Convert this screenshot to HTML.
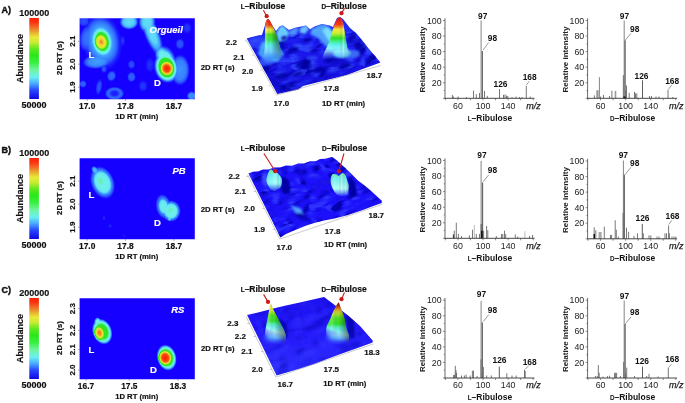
<!DOCTYPE html>
<html><head><meta charset="utf-8"><style>
html,body{margin:0;padding:0;background:#fff;}
svg{display:block;font-family:"Liberation Sans", sans-serif;filter:blur(0.45px);}
</style></head><body>
<svg width="685" height="403" viewBox="0 0 685 403">
<defs><filter id="cm" x="0" y="0" width="1" height="1" color-interpolation-filters="sRGB">
<feGaussianBlur stdDeviation="0.6"/>
<feComponentTransfer><feFuncR type="table" tableValues="0.086 0.095 0.103 0.115 0.142 0.169 0.196 0.224 0.252 0.286 0.342 0.398 0.426 0.414 0.402 0.380 0.320 0.260 0.200 0.185 0.200 0.215 0.229 0.294 0.392 0.490 0.588 0.679 0.743 0.807 0.871 0.923 0.931 0.938 0.946 0.956 0.967 0.978 0.986 0.993 1.000"/><feFuncG type="table" tableValues="0.000 0.042 0.084 0.137 0.235 0.333 0.431 0.529 0.627 0.723 0.807 0.891 0.941 0.941 0.941 0.939 0.928 0.917 0.906 0.899 0.894 0.889 0.884 0.885 0.889 0.894 0.898 0.902 0.904 0.906 0.908 0.892 0.803 0.713 0.624 0.529 0.431 0.333 0.258 0.188 0.118"/><feFuncB type="table" tableValues="1.000 1.000 1.000 1.000 1.000 1.000 1.000 1.000 1.000 0.997 0.983 0.969 0.924 0.832 0.740 0.639 0.503 0.367 0.231 0.162 0.137 0.113 0.088 0.089 0.107 0.125 0.143 0.159 0.169 0.178 0.188 0.194 0.183 0.172 0.161 0.140 0.112 0.084 0.056 0.028 0.000"/></feComponentTransfer></filter><linearGradient id="cbar" x1="0" y1="0" x2="0" y2="1">
<stop offset="0" stop-color="#ff2200"/>
<stop offset="0.05" stop-color="#fb3010"/>
<stop offset="0.12" stop-color="#f07028"/>
<stop offset="0.18" stop-color="#e8b030"/>
<stop offset="0.24" stop-color="#eaea38"/>
<stop offset="0.30" stop-color="#c8ec30"/>
<stop offset="0.38" stop-color="#60e820"/>
<stop offset="0.46" stop-color="#28e818"/>
<stop offset="0.55" stop-color="#38f040"/>
<stop offset="0.64" stop-color="#70f4a0"/>
<stop offset="0.73" stop-color="#68f0f0"/>
<stop offset="0.81" stop-color="#48a8ff"/>
<stop offset="0.89" stop-color="#2848ff"/>
<stop offset="1" stop-color="#1008e0"/>
</linearGradient><clipPath id="hc0"><rect x="79.6" y="18.2" width="115.2" height="81"/></clipPath><radialGradient id="b1"><stop offset="0.000" stop-color="rgb(41,41,41)"/><stop offset="0.444" stop-color="rgb(38,38,38)"/><stop offset="0.778" stop-color="rgb(26,26,26)"/><stop offset="1.000" stop-color="rgb(0,0,0)"/></radialGradient><radialGradient id="b2"><stop offset="0.000" stop-color="rgb(31,31,31)"/><stop offset="0.667" stop-color="rgb(26,26,26)"/><stop offset="1.000" stop-color="rgb(0,0,0)"/></radialGradient><radialGradient id="b3"><stop offset="0.000" stop-color="rgb(51,51,51)"/><stop offset="0.533" stop-color="rgb(46,46,46)"/><stop offset="0.800" stop-color="rgb(31,31,31)"/><stop offset="1.000" stop-color="rgb(0,0,0)"/></radialGradient><radialGradient id="b4"><stop offset="0.000" stop-color="rgb(33,33,33)"/><stop offset="0.571" stop-color="rgb(28,28,28)"/><stop offset="1.000" stop-color="rgb(0,0,0)"/></radialGradient><radialGradient id="b5"><stop offset="0.000" stop-color="rgb(38,38,38)"/><stop offset="0.600" stop-color="rgb(33,33,33)"/><stop offset="1.000" stop-color="rgb(0,0,0)"/></radialGradient><radialGradient id="b6"><stop offset="0.000" stop-color="rgb(36,36,36)"/><stop offset="0.667" stop-color="rgb(31,31,31)"/><stop offset="1.000" stop-color="rgb(0,0,0)"/></radialGradient><radialGradient id="b7"><stop offset="0.000" stop-color="rgb(31,31,31)"/><stop offset="0.625" stop-color="rgb(26,26,26)"/><stop offset="1.000" stop-color="rgb(0,0,0)"/></radialGradient><radialGradient id="b8"><stop offset="0.000" stop-color="rgb(36,36,36)"/><stop offset="0.625" stop-color="rgb(31,31,31)"/><stop offset="1.000" stop-color="rgb(0,0,0)"/></radialGradient><radialGradient id="b9"><stop offset="0.000" stop-color="rgb(33,33,33)"/><stop offset="0.571" stop-color="rgb(28,28,28)"/><stop offset="1.000" stop-color="rgb(0,0,0)"/></radialGradient><radialGradient id="b10"><stop offset="0.000" stop-color="rgb(15,15,15)"/><stop offset="0.300" stop-color="rgb(20,20,20)"/><stop offset="0.600" stop-color="rgb(38,38,38)"/><stop offset="0.800" stop-color="rgb(31,31,31)"/><stop offset="1.000" stop-color="rgb(0,0,0)"/></radialGradient><radialGradient id="b11"><stop offset="0.000" stop-color="rgb(26,26,26)"/><stop offset="0.500" stop-color="rgb(20,20,20)"/><stop offset="1.000" stop-color="rgb(0,0,0)"/></radialGradient><radialGradient id="b12"><stop offset="0.000" stop-color="rgb(69,69,69)"/><stop offset="0.500" stop-color="rgb(64,64,64)"/><stop offset="0.700" stop-color="rgb(51,51,51)"/><stop offset="1.000" stop-color="rgb(0,0,0)"/></radialGradient><radialGradient id="b13"><stop offset="0.000" stop-color="rgb(69,69,69)"/><stop offset="0.375" stop-color="rgb(66,66,66)"/><stop offset="0.625" stop-color="rgb(51,51,51)"/><stop offset="1.000" stop-color="rgb(0,0,0)"/></radialGradient><radialGradient id="b14"><stop offset="0.000" stop-color="rgb(69,69,69)"/><stop offset="0.444" stop-color="rgb(66,66,66)"/><stop offset="0.667" stop-color="rgb(51,51,51)"/><stop offset="1.000" stop-color="rgb(0,0,0)"/></radialGradient><radialGradient id="b15"><stop offset="0.000" stop-color="rgb(48,48,48)"/><stop offset="0.600" stop-color="rgb(43,43,43)"/><stop offset="0.800" stop-color="rgb(31,31,31)"/><stop offset="1.000" stop-color="rgb(0,0,0)"/></radialGradient><radialGradient id="b16"><stop offset="0.000" stop-color="rgb(33,33,33)"/><stop offset="0.600" stop-color="rgb(28,28,28)"/><stop offset="1.000" stop-color="rgb(0,0,0)"/></radialGradient><radialGradient id="b17"><stop offset="0.000" stop-color="rgb(48,48,48)"/><stop offset="0.600" stop-color="rgb(43,43,43)"/><stop offset="1.000" stop-color="rgb(0,0,0)"/></radialGradient><radialGradient id="b18"><stop offset="0.000" stop-color="rgb(26,26,26)"/><stop offset="0.600" stop-color="rgb(20,20,20)"/><stop offset="1.000" stop-color="rgb(0,0,0)"/></radialGradient><radialGradient id="b19"><stop offset="0.000" stop-color="rgb(26,26,26)"/><stop offset="0.600" stop-color="rgb(20,20,20)"/><stop offset="1.000" stop-color="rgb(0,0,0)"/></radialGradient><radialGradient id="b20"><stop offset="0.000" stop-color="rgb(23,23,23)"/><stop offset="0.600" stop-color="rgb(18,18,18)"/><stop offset="1.000" stop-color="rgb(0,0,0)"/></radialGradient><radialGradient id="b21"><stop offset="0.000" stop-color="rgb(128,128,128)"/><stop offset="0.310" stop-color="rgb(120,120,120)"/><stop offset="0.350" stop-color="rgb(87,87,87)"/><stop offset="0.420" stop-color="rgb(71,71,71)"/><stop offset="0.500" stop-color="rgb(51,51,51)"/><stop offset="0.700" stop-color="rgb(38,38,38)"/><stop offset="1.000" stop-color="rgb(0,0,0)"/></radialGradient><radialGradient id="b22"><stop offset="0.000" stop-color="rgb(224,224,224)"/><stop offset="0.143" stop-color="rgb(219,219,219)"/><stop offset="0.286" stop-color="rgb(207,207,207)"/><stop offset="0.429" stop-color="rgb(199,199,199)"/><stop offset="0.629" stop-color="rgb(189,189,189)"/><stop offset="0.786" stop-color="rgb(153,153,153)"/><stop offset="0.900" stop-color="rgb(115,115,115)"/><stop offset="1.000" stop-color="rgb(0,0,0)"/></radialGradient><radialGradient id="b23"><stop offset="0.000" stop-color="rgb(79,79,79)"/><stop offset="0.375" stop-color="rgb(74,74,74)"/><stop offset="0.562" stop-color="rgb(61,61,61)"/><stop offset="0.750" stop-color="rgb(41,41,41)"/><stop offset="1.000" stop-color="rgb(0,0,0)"/></radialGradient><radialGradient id="b24"><stop offset="0.000" stop-color="rgb(76,76,76)"/><stop offset="0.545" stop-color="rgb(74,74,74)"/><stop offset="0.682" stop-color="rgb(51,51,51)"/><stop offset="0.818" stop-color="rgb(31,31,31)"/><stop offset="1.000" stop-color="rgb(0,0,0)"/></radialGradient><radialGradient id="b25"><stop offset="0.000" stop-color="rgb(128,128,128)"/><stop offset="0.584" stop-color="rgb(120,120,120)"/><stop offset="0.656" stop-color="rgb(84,84,84)"/><stop offset="0.744" stop-color="rgb(71,71,71)"/><stop offset="0.840" stop-color="rgb(43,43,43)"/><stop offset="1.000" stop-color="rgb(0,0,0)"/></radialGradient><radialGradient id="b26"><stop offset="0.000" stop-color="rgb(255,255,255)"/><stop offset="0.350" stop-color="rgb(242,242,242)"/><stop offset="0.475" stop-color="rgb(224,224,224)"/><stop offset="0.650" stop-color="rgb(199,199,199)"/><stop offset="0.775" stop-color="rgb(153,153,153)"/><stop offset="0.875" stop-color="rgb(115,115,115)"/><stop offset="1.000" stop-color="rgb(0,0,0)"/></radialGradient><clipPath id="hc140"><rect x="79.6" y="158.2" width="115.2" height="81"/></clipPath><radialGradient id="b27"><stop offset="0.000" stop-color="rgb(79,79,79)"/><stop offset="0.417" stop-color="rgb(76,76,76)"/><stop offset="0.542" stop-color="rgb(73,73,73)"/><stop offset="0.625" stop-color="rgb(64,64,64)"/><stop offset="0.708" stop-color="rgb(46,46,46)"/><stop offset="0.833" stop-color="rgb(33,33,33)"/><stop offset="1.000" stop-color="rgb(0,0,0)"/></radialGradient><radialGradient id="b28"><stop offset="0.000" stop-color="rgb(92,92,92)"/><stop offset="0.444" stop-color="rgb(87,87,87)"/><stop offset="0.778" stop-color="rgb(76,76,76)"/><stop offset="1.000" stop-color="rgb(0,0,0)"/></radialGradient><radialGradient id="b29"><stop offset="0.000" stop-color="rgb(61,61,61)"/><stop offset="0.571" stop-color="rgb(51,51,51)"/><stop offset="1.000" stop-color="rgb(0,0,0)"/></radialGradient><radialGradient id="b30"><stop offset="0.000" stop-color="rgb(76,76,76)"/><stop offset="0.350" stop-color="rgb(74,74,74)"/><stop offset="0.475" stop-color="rgb(69,69,69)"/><stop offset="0.600" stop-color="rgb(46,46,46)"/><stop offset="0.812" stop-color="rgb(31,31,31)"/><stop offset="1.000" stop-color="rgb(0,0,0)"/></radialGradient><radialGradient id="b31"><stop offset="0.000" stop-color="rgb(79,79,79)"/><stop offset="0.450" stop-color="rgb(76,76,76)"/><stop offset="0.600" stop-color="rgb(71,71,71)"/><stop offset="0.700" stop-color="rgb(51,51,51)"/><stop offset="0.850" stop-color="rgb(33,33,33)"/><stop offset="1.000" stop-color="rgb(0,0,0)"/></radialGradient><radialGradient id="b32"><stop offset="0.000" stop-color="rgb(94,94,94)"/><stop offset="0.375" stop-color="rgb(89,89,89)"/><stop offset="0.750" stop-color="rgb(76,76,76)"/><stop offset="1.000" stop-color="rgb(0,0,0)"/></radialGradient><radialGradient id="b33"><stop offset="0.000" stop-color="rgb(69,69,69)"/><stop offset="0.600" stop-color="rgb(56,56,56)"/><stop offset="1.000" stop-color="rgb(0,0,0)"/></radialGradient><radialGradient id="b34"><stop offset="0.000" stop-color="rgb(26,26,26)"/><stop offset="0.125" stop-color="rgb(24,24,24)"/><stop offset="0.250" stop-color="rgb(21,21,21)"/><stop offset="0.375" stop-color="rgb(16,16,16)"/><stop offset="0.500" stop-color="rgb(11,11,11)"/><stop offset="0.625" stop-color="rgb(7,7,7)"/><stop offset="0.750" stop-color="rgb(4,4,4)"/><stop offset="0.875" stop-color="rgb(2,2,2)"/><stop offset="1.000" stop-color="rgb(0,0,0)"/></radialGradient><radialGradient id="b35"><stop offset="0.000" stop-color="rgb(20,20,20)"/><stop offset="0.125" stop-color="rgb(19,19,19)"/><stop offset="0.250" stop-color="rgb(17,17,17)"/><stop offset="0.375" stop-color="rgb(13,13,13)"/><stop offset="0.500" stop-color="rgb(9,9,9)"/><stop offset="0.625" stop-color="rgb(5,5,5)"/><stop offset="0.750" stop-color="rgb(3,3,3)"/><stop offset="0.875" stop-color="rgb(2,2,2)"/><stop offset="1.000" stop-color="rgb(0,0,0)"/></radialGradient><radialGradient id="b36"><stop offset="0.000" stop-color="rgb(20,20,20)"/><stop offset="0.125" stop-color="rgb(19,19,19)"/><stop offset="0.250" stop-color="rgb(17,17,17)"/><stop offset="0.375" stop-color="rgb(13,13,13)"/><stop offset="0.500" stop-color="rgb(9,9,9)"/><stop offset="0.625" stop-color="rgb(5,5,5)"/><stop offset="0.750" stop-color="rgb(3,3,3)"/><stop offset="0.875" stop-color="rgb(2,2,2)"/><stop offset="1.000" stop-color="rgb(0,0,0)"/></radialGradient><clipPath id="hc280"><rect x="79.6" y="298.2" width="115.2" height="81"/></clipPath><radialGradient id="b37"><stop offset="0.000" stop-color="rgb(128,128,128)"/><stop offset="0.520" stop-color="rgb(120,120,120)"/><stop offset="0.650" stop-color="rgb(89,89,89)"/><stop offset="0.770" stop-color="rgb(71,71,71)"/><stop offset="0.870" stop-color="rgb(46,46,46)"/><stop offset="1.000" stop-color="rgb(0,0,0)"/></radialGradient><radialGradient id="b38"><stop offset="0.000" stop-color="rgb(230,230,230)"/><stop offset="0.250" stop-color="rgb(219,219,219)"/><stop offset="0.500" stop-color="rgb(199,199,199)"/><stop offset="0.700" stop-color="rgb(158,158,158)"/><stop offset="0.833" stop-color="rgb(122,122,122)"/><stop offset="1.000" stop-color="rgb(0,0,0)"/></radialGradient><radialGradient id="b39"><stop offset="0.000" stop-color="rgb(82,82,82)"/><stop offset="0.500" stop-color="rgb(76,76,76)"/><stop offset="0.750" stop-color="rgb(51,51,51)"/><stop offset="1.000" stop-color="rgb(0,0,0)"/></radialGradient><radialGradient id="b40"><stop offset="0.000" stop-color="rgb(128,128,128)"/><stop offset="0.550" stop-color="rgb(120,120,120)"/><stop offset="0.680" stop-color="rgb(89,89,89)"/><stop offset="0.780" stop-color="rgb(71,71,71)"/><stop offset="0.870" stop-color="rgb(46,46,46)"/><stop offset="1.000" stop-color="rgb(0,0,0)"/></radialGradient><radialGradient id="b41"><stop offset="0.000" stop-color="rgb(255,255,255)"/><stop offset="0.333" stop-color="rgb(245,245,245)"/><stop offset="0.507" stop-color="rgb(232,232,232)"/><stop offset="0.667" stop-color="rgb(199,199,199)"/><stop offset="0.800" stop-color="rgb(153,153,153)"/><stop offset="0.933" stop-color="rgb(115,115,115)"/><stop offset="1.000" stop-color="rgb(0,0,0)"/></radialGradient><filter id="bl1" x="-20%" y="-20%" width="140%" height="140%"><feGaussianBlur stdDeviation="1"/></filter><filter id="bl2" x="-30%" y="-30%" width="160%" height="160%"><feGaussianBlur stdDeviation="2"/></filter><filter id="bl07" x="-20%" y="-20%" width="140%" height="140%"><feGaussianBlur stdDeviation="0.7"/></filter><filter id="bl05" x="-20%" y="-20%" width="140%" height="140%"><feGaussianBlur stdDeviation="0.5"/></filter><clipPath id="a3c"><path d="M246.80,38.50 L252.00,37.00 L258.00,35.50 L262.00,35.00 L266.00,22.00 L268.00,19.00 L270.00,22.00 L276.00,31.00 L280.00,26.00 L283.00,25.40 L289.00,29.90 L295.00,27.70 L301.00,26.60 L306.00,25.40 L310.00,29.20 L315.00,26.20 L322.00,24.00 L329.60,25.40 L333.00,27.00 L337.00,18.00 L340.00,17.00 L343.00,19.00 L350.00,28.00 L356.00,33.00 L362.00,40.00 L368.00,48.00 L375.00,56.00 L380.40,62.60 L375.00,64.40 L360.00,70.00 L347.00,74.90 L335.00,78.00 L322.60,81.00 L312.80,83.40 L303.00,86.00 L298.00,89.80 L285.50,92.30 L277.30,94.00Z"/></clipPath><linearGradient id="a3base" gradientUnits="userSpaceOnUse" x1="0" y1="25" x2="0" y2="95"><stop offset="0.000" stop-color="#2028fa"/><stop offset="0.286" stop-color="#1c18f0"/><stop offset="0.643" stop-color="#1812e4"/><stop offset="1.000" stop-color="#1610d8"/></linearGradient><linearGradient id="a3Lmg" gradientUnits="userSpaceOnUse" x1="0" y1="46" x2="0" y2="60"><stop offset="0" stop-color="#fff"/><stop offset="1" stop-color="#000"/></linearGradient><mask id="a3Lm" maskUnits="userSpaceOnUse" x="0" y="0" width="685" height="403"><rect x="0" y="0" width="685" height="403" fill="url(#a3Lmg)"/></mask><linearGradient id="a3Lg" gradientUnits="userSpaceOnUse" x1="0" y1="19.1" x2="0" y2="58"><stop offset="0.000" stop-color="#d01a10"/><stop offset="0.152" stop-color="#f03a10"/><stop offset="0.203" stop-color="#f08a28"/><stop offset="0.267" stop-color="#e8e838"/><stop offset="0.332" stop-color="#c0ec30"/><stop offset="0.396" stop-color="#50e020"/><stop offset="0.537" stop-color="#38e850"/><stop offset="0.614" stop-color="#50f0c0"/><stop offset="0.692" stop-color="#60f0f0"/><stop offset="0.846" stop-color="#90f4ff"/><stop offset="0.949" stop-color="#60c0ff"/><stop offset="1.000" stop-color="#4060ff"/></linearGradient><linearGradient id="a3Lh" gradientUnits="userSpaceOnUse" x1="263" y1="0" x2="282" y2="0"><stop offset="0.000" stop-color="#fff" stop-opacity="0.0"/><stop offset="0.200" stop-color="#fff" stop-opacity="0.2"/><stop offset="0.400" stop-color="#000" stop-opacity="0.0"/><stop offset="0.650" stop-color="#000" stop-opacity="0.3"/><stop offset="1.000" stop-color="#000" stop-opacity="0.55"/></linearGradient><linearGradient id="a3Dmg" gradientUnits="userSpaceOnUse" x1="0" y1="48" x2="0" y2="60"><stop offset="0" stop-color="#fff"/><stop offset="1" stop-color="#000"/></linearGradient><mask id="a3Dm" maskUnits="userSpaceOnUse" x="0" y="0" width="685" height="403"><rect x="0" y="0" width="685" height="403" fill="url(#a3Dmg)"/></mask><linearGradient id="a3Dg" gradientUnits="userSpaceOnUse" x1="0" y1="16.9" x2="0" y2="60"><stop offset="0.000" stop-color="#d81818"/><stop offset="0.176" stop-color="#f83a18"/><stop offset="0.234" stop-color="#f08a28"/><stop offset="0.292" stop-color="#eee838"/><stop offset="0.374" stop-color="#d0f030"/><stop offset="0.432" stop-color="#80e830"/><stop offset="0.490" stop-color="#30e020"/><stop offset="0.582" stop-color="#40f0a0"/><stop offset="0.652" stop-color="#60f0f0"/><stop offset="0.814" stop-color="#a0f8ff"/><stop offset="0.930" stop-color="#60c0ff"/><stop offset="1.000" stop-color="#4060ff"/></linearGradient><linearGradient id="a3Dh" gradientUnits="userSpaceOnUse" x1="324" y1="0" x2="352" y2="0"><stop offset="0.000" stop-color="#fff" stop-opacity="0.2"/><stop offset="0.350" stop-color="#fff" stop-opacity="0.0"/><stop offset="0.550" stop-color="#000" stop-opacity="0.0"/><stop offset="0.700" stop-color="#fff" stop-opacity="0.3"/><stop offset="0.800" stop-color="#000" stop-opacity="0.1"/><stop offset="1.000" stop-color="#000" stop-opacity="0.45"/></linearGradient><clipPath id="b3c"><path d="M248.50,173.60 L253.00,171.80 L258.00,171.60 L263.00,169.60 L268.60,169.40 L274.00,167.40 L280.00,167.60 L286.00,165.60 L292.20,165.80 L298.00,163.40 L304.00,163.60 L310.00,161.20 L315.70,161.20 L320.00,159.00 L325.20,158.80 L332.20,157.10 L337.00,160.60 L346.40,168.90 L352.00,174.50 L358.20,180.70 L364.00,185.00 L370.00,190.00 L376.00,195.50 L381.80,200.70 L381.80,203.00 L372.00,206.50 L362.90,210.10 L348.80,214.80 L334.60,218.40 L322.80,220.70 L314.00,223.00 L306.30,225.50 L292.20,231.30 L286.00,234.00 L280.40,237.60Z"/></clipPath><linearGradient id="b3Lmg" gradientUnits="userSpaceOnUse" x1="0" y1="184" x2="0" y2="194"><stop offset="0" stop-color="#fff"/><stop offset="1" stop-color="#000"/></linearGradient><mask id="b3Lm" maskUnits="userSpaceOnUse" x="0" y="0" width="685" height="403"><rect x="0" y="0" width="685" height="403" fill="url(#b3Lmg)"/></mask><linearGradient id="b3Lg" gradientUnits="userSpaceOnUse" x1="0" y1="169.2" x2="0" y2="194"><stop offset="0.000" stop-color="#50e070"/><stop offset="0.113" stop-color="#68f0b8"/><stop offset="0.214" stop-color="#68ecf0"/><stop offset="0.516" stop-color="#90f8f8"/><stop offset="0.758" stop-color="#70e0f8"/><stop offset="1.000" stop-color="#4080ff"/></linearGradient><linearGradient id="b3Lh" gradientUnits="userSpaceOnUse" x1="266" y1="0" x2="283" y2="0"><stop offset="0.000" stop-color="#000" stop-opacity="0.15"/><stop offset="0.300" stop-color="#fff" stop-opacity="0.0"/><stop offset="0.600" stop-color="#fff" stop-opacity="0.3"/><stop offset="0.800" stop-color="#000" stop-opacity="0.0"/><stop offset="1.000" stop-color="#000" stop-opacity="0.3"/></linearGradient><linearGradient id="b3Dmg" gradientUnits="userSpaceOnUse" x1="0" y1="189" x2="0" y2="198"><stop offset="0" stop-color="#fff"/><stop offset="1" stop-color="#000"/></linearGradient><mask id="b3Dm" maskUnits="userSpaceOnUse" x="0" y="0" width="685" height="403"><rect x="0" y="0" width="685" height="403" fill="url(#b3Dmg)"/></mask><linearGradient id="b3Dg" gradientUnits="userSpaceOnUse" x1="0" y1="172.5" x2="0" y2="198"><stop offset="0.000" stop-color="#50e060"/><stop offset="0.098" stop-color="#70f0b0"/><stop offset="0.216" stop-color="#70f0f0"/><stop offset="0.608" stop-color="#b0fff8"/><stop offset="0.804" stop-color="#a0f8ff"/><stop offset="1.000" stop-color="#5090ff"/></linearGradient><linearGradient id="b3Dh" gradientUnits="userSpaceOnUse" x1="330" y1="0" x2="349" y2="0"><stop offset="0.000" stop-color="#000" stop-opacity="0.1"/><stop offset="0.250" stop-color="#fff" stop-opacity="0.05"/><stop offset="0.450" stop-color="#000" stop-opacity="0.0"/><stop offset="0.620" stop-color="#fff" stop-opacity="0.3"/><stop offset="0.800" stop-color="#000" stop-opacity="0.0"/><stop offset="1.000" stop-color="#000" stop-opacity="0.25"/></linearGradient><clipPath id="c3c"><path d="M247.10,315.00 L258.00,312.50 L269.80,309.50 L286.00,305.50 L302.00,301.90 L314.00,299.30 L324.10,297.10 L336.00,306.00 L348.00,315.50 L360.00,326.00 L372.60,340.40 L372.60,342.60 L356.00,348.50 L339.30,354.50 L327.00,359.00 L314.50,364.00 L302.00,368.00 L289.70,371.60 L276.60,375.60Z"/></clipPath><linearGradient id="c3base" gradientUnits="userSpaceOnUse" x1="0" y1="297" x2="0" y2="376"><stop offset="0.000" stop-color="#1e12f0"/><stop offset="0.418" stop-color="#2418fa"/><stop offset="1.000" stop-color="#3030ff"/></linearGradient><linearGradient id="c3Lmg" gradientUnits="userSpaceOnUse" x1="0" y1="331" x2="0" y2="340" gradientTransform="rotate(22 274 335.5)"><stop offset="0" stop-color="#fff"/><stop offset="1" stop-color="#000"/></linearGradient><mask id="c3Lm" maskUnits="userSpaceOnUse" x="0" y="0" width="685" height="403"><rect x="0" y="0" width="685" height="403" fill="url(#c3Lmg)"/></mask><linearGradient id="c3Lg" gradientUnits="userSpaceOnUse" x1="0" y1="304.1" x2="0" y2="342"><stop offset="0.000" stop-color="#e0d040"/><stop offset="0.103" stop-color="#e8e838"/><stop offset="0.182" stop-color="#c0e830"/><stop offset="0.288" stop-color="#50e020"/><stop offset="0.446" stop-color="#30e030"/><stop offset="0.525" stop-color="#50f0b0"/><stop offset="0.604" stop-color="#70f0f0"/><stop offset="0.763" stop-color="#c0fff8"/><stop offset="0.894" stop-color="#a0e8ff"/><stop offset="1.000" stop-color="#4060ff"/></linearGradient><linearGradient id="c3Lh" gradientUnits="userSpaceOnUse" x1="264" y1="0" x2="286" y2="0"><stop offset="0.000" stop-color="#fff" stop-opacity="0.0"/><stop offset="0.250" stop-color="#fff" stop-opacity="0.2"/><stop offset="0.450" stop-color="#000" stop-opacity="0.0"/><stop offset="0.700" stop-color="#000" stop-opacity="0.3"/><stop offset="1.000" stop-color="#000" stop-opacity="0.5"/></linearGradient><linearGradient id="c3Dmg" gradientUnits="userSpaceOnUse" x1="0" y1="332" x2="0" y2="341" gradientTransform="rotate(22 338 336.5)"><stop offset="0" stop-color="#fff"/><stop offset="1" stop-color="#000"/></linearGradient><mask id="c3Dm" maskUnits="userSpaceOnUse" x="0" y="0" width="685" height="403"><rect x="0" y="0" width="685" height="403" fill="url(#c3Dmg)"/></mask><linearGradient id="c3Dg" gradientUnits="userSpaceOnUse" x1="0" y1="302.6" x2="0" y2="342"><stop offset="0.000" stop-color="#701010"/><stop offset="0.074" stop-color="#a03010"/><stop offset="0.137" stop-color="#d07020"/><stop offset="0.213" stop-color="#d8c030"/><stop offset="0.289" stop-color="#b0e030"/><stop offset="0.391" stop-color="#50e020"/><stop offset="0.543" stop-color="#30e030"/><stop offset="0.619" stop-color="#50f0b0"/><stop offset="0.695" stop-color="#70f0f0"/><stop offset="0.822" stop-color="#b0fff8"/><stop offset="0.924" stop-color="#90e0ff"/><stop offset="1.000" stop-color="#4060ff"/></linearGradient><linearGradient id="c3Dh" gradientUnits="userSpaceOnUse" x1="325" y1="0" x2="349" y2="0"><stop offset="0.000" stop-color="#fff" stop-opacity="0.0"/><stop offset="0.300" stop-color="#fff" stop-opacity="0.2"/><stop offset="0.550" stop-color="#000" stop-opacity="0.0"/><stop offset="0.800" stop-color="#000" stop-opacity="0.3"/><stop offset="1.000" stop-color="#000" stop-opacity="0.5"/></linearGradient></defs>
<rect width="685" height="403" fill="#fff"/>
<text x="1.5" y="12.8" font-size="9" font-weight="bold" text-anchor="start" fill="#111" stroke="#111" stroke-width="0.45" >A)</text>
<rect x="29.3" y="18" width="9.6" height="81" fill="url(#cbar)"/>
<text x="34.2" y="16.2" font-size="9" font-weight="bold" text-anchor="middle" fill="#111" stroke="#111" stroke-width="0.18" >100000</text>
<text x="34" y="107.5" font-size="9" font-weight="bold" text-anchor="middle" fill="#111" stroke="#111" stroke-width="0.18" >50000</text>
<text transform="translate(23.4,58.5) rotate(-90)" font-size="9" font-weight="bold" text-anchor="middle" fill="#111" stroke="#111" stroke-width="0.18">Abundance</text>
<text transform="translate(62,58) rotate(-90)" font-size="7.7" font-weight="bold" text-anchor="middle" fill="#111" stroke="#111" stroke-width="0.18">2D RT (s)</text>
<text transform="translate(74.5,41.2) rotate(-90)" font-size="8" font-weight="bold" text-anchor="middle" fill="#111" stroke="#111" stroke-width="0.18">2.1</text>
<line x1="78" y1="41.2" x2="79.6" y2="41.2" stroke="#777" stroke-width="0.6"/>
<text transform="translate(74.5,64.2) rotate(-90)" font-size="8" font-weight="bold" text-anchor="middle" fill="#111" stroke="#111" stroke-width="0.18">2.0</text>
<line x1="78" y1="64.2" x2="79.6" y2="64.2" stroke="#777" stroke-width="0.6"/>
<text transform="translate(74.5,87.2) rotate(-90)" font-size="8" font-weight="bold" text-anchor="middle" fill="#111" stroke="#111" stroke-width="0.18">1.9</text>
<line x1="78" y1="87.2" x2="79.6" y2="87.2" stroke="#777" stroke-width="0.6"/>
<text x="87.2" y="109.3" font-size="8.4" font-weight="bold" text-anchor="middle" fill="#111" stroke="#111" stroke-width="0.18" >17.0</text>
<line x1="87.2" y1="99.2" x2="87.2" y2="100.8" stroke="#777" stroke-width="0.6"/>
<text x="125.5" y="109.3" font-size="8.4" font-weight="bold" text-anchor="middle" fill="#111" stroke="#111" stroke-width="0.18" >17.8</text>
<line x1="125.5" y1="99.2" x2="125.5" y2="100.8" stroke="#777" stroke-width="0.6"/>
<text x="174" y="109.3" font-size="8.4" font-weight="bold" text-anchor="middle" fill="#111" stroke="#111" stroke-width="0.18" >18.7</text>
<line x1="174" y1="99.2" x2="174" y2="100.8" stroke="#777" stroke-width="0.6"/>
<text x="136.7" y="119.3" font-size="7.7" font-weight="bold" text-anchor="middle" fill="#111" stroke="#111" stroke-width="0.18" >1D RT (min)</text>
<g clip-path="url(#hc0)"><g filter="url(#cm)" style="isolation:isolate">
<rect x="77.6" y="16.2" width="119.2" height="85" fill="#000"/>
<ellipse cx="88" cy="38" rx="9" ry="14.4" fill="url(#b1)" style="mix-blend-mode:lighten" transform="rotate(10 88 38)"/>
<ellipse cx="84" cy="21" rx="6" ry="6" fill="url(#b2)" style="mix-blend-mode:lighten"/>
<ellipse cx="97" cy="61.5" rx="15" ry="7.5" fill="url(#b3)" style="mix-blend-mode:lighten" transform="rotate(-5 97 61.5)"/>
<ellipse cx="104" cy="69" rx="3.5" ry="4.2" fill="url(#b4)" style="mix-blend-mode:lighten"/>
<ellipse cx="111.5" cy="76" rx="5" ry="6" fill="url(#b5)" style="mix-blend-mode:lighten" transform="rotate(20 111.5 76)"/>
<ellipse cx="131.5" cy="77" rx="4.5" ry="5.4" fill="url(#b6)" style="mix-blend-mode:lighten"/>
<ellipse cx="131.5" cy="64.5" rx="4" ry="4.8" fill="url(#b7)" style="mix-blend-mode:lighten"/>
<ellipse cx="83" cy="84" rx="4" ry="4" fill="url(#b8)" style="mix-blend-mode:lighten"/>
<ellipse cx="99" cy="87" rx="3.5" ry="8.75" fill="url(#b9)" style="mix-blend-mode:lighten" transform="rotate(10 99 87)"/>
<ellipse cx="114.5" cy="93.5" rx="10" ry="7" fill="url(#b10)" style="mix-blend-mode:lighten"/>
<ellipse cx="122.5" cy="41" rx="3" ry="6" fill="url(#b11)" style="mix-blend-mode:lighten"/>
<ellipse cx="129" cy="22" rx="10" ry="8" fill="url(#b12)" style="mix-blend-mode:lighten"/>
<ellipse cx="152" cy="34" rx="8" ry="25.6" fill="url(#b13)" style="mix-blend-mode:lighten" transform="rotate(-22 152 34)"/>
<ellipse cx="147" cy="22" rx="9" ry="11.7" fill="url(#b14)" style="mix-blend-mode:lighten"/>
<ellipse cx="180" cy="70" rx="10" ry="16" fill="url(#b15)" style="mix-blend-mode:lighten"/>
<ellipse cx="180" cy="44" rx="5" ry="6" fill="url(#b16)" style="mix-blend-mode:lighten"/>
<ellipse cx="191.5" cy="96" rx="5" ry="5" fill="url(#b17)" style="mix-blend-mode:lighten"/>
<ellipse cx="187" cy="28" rx="5" ry="6" fill="url(#b18)" style="mix-blend-mode:lighten"/>
<ellipse cx="143" cy="86" rx="5" ry="6" fill="url(#b19)" style="mix-blend-mode:lighten"/>
<ellipse cx="150" cy="65" rx="5" ry="7.5" fill="url(#b20)" style="mix-blend-mode:lighten"/>
<ellipse cx="102" cy="41.5" rx="20" ry="29" fill="url(#b21)" style="mix-blend-mode:lighten" transform="rotate(-11 102 41.5)"/>
<ellipse cx="101.3" cy="42" rx="7" ry="9.1" fill="url(#b22)" style="mix-blend-mode:lighten" transform="rotate(-11 101.3 42)"/>
<ellipse cx="163" cy="56" rx="8" ry="12" fill="url(#b23)" style="mix-blend-mode:lighten" transform="rotate(-25 163 56)"/>
<ellipse cx="166" cy="62" rx="11" ry="17.6" fill="url(#b24)" style="mix-blend-mode:lighten" transform="rotate(-15 166 62)"/>
<ellipse cx="166.3" cy="67.5" rx="12.5" ry="16.25" fill="url(#b25)" style="mix-blend-mode:lighten" transform="rotate(-15 166.3 67.5)"/>
<ellipse cx="166.8" cy="68.5" rx="8" ry="8.8" fill="url(#b26)" style="mix-blend-mode:lighten" transform="rotate(-15 166.8 68.5)"/>
</g></g>
<text x="88.5" y="58" font-size="9.5" font-weight="bold" text-anchor="start" fill="#fff" stroke="#fff" stroke-width="0.18" >L</text>
<text x="154" y="85.5" font-size="9.5" font-weight="bold" text-anchor="start" fill="#fff" stroke="#fff" stroke-width="0.18" >D</text>
<text x="149.6" y="33" font-size="9.5" font-weight="bold" text-anchor="start" fill="#fff" stroke="#fff" stroke-width="0.18" font-style="italic">Orgueil</text>
<text x="1.5" y="152.8" font-size="9" font-weight="bold" text-anchor="start" fill="#111" stroke="#111" stroke-width="0.45" >B)</text>
<rect x="29.3" y="158" width="9.6" height="81" fill="url(#cbar)"/>
<text x="34.2" y="156.2" font-size="9" font-weight="bold" text-anchor="middle" fill="#111" stroke="#111" stroke-width="0.18" >100000</text>
<text x="34" y="247.5" font-size="9" font-weight="bold" text-anchor="middle" fill="#111" stroke="#111" stroke-width="0.18" >50000</text>
<text transform="translate(23.4,198.5) rotate(-90)" font-size="9" font-weight="bold" text-anchor="middle" fill="#111" stroke="#111" stroke-width="0.18">Abundance</text>
<text transform="translate(62,198) rotate(-90)" font-size="7.7" font-weight="bold" text-anchor="middle" fill="#111" stroke="#111" stroke-width="0.18">2D RT (s)</text>
<text transform="translate(74.5,181.2) rotate(-90)" font-size="8" font-weight="bold" text-anchor="middle" fill="#111" stroke="#111" stroke-width="0.18">2.1</text>
<line x1="78" y1="181.2" x2="79.6" y2="181.2" stroke="#777" stroke-width="0.6"/>
<text transform="translate(74.5,204.2) rotate(-90)" font-size="8" font-weight="bold" text-anchor="middle" fill="#111" stroke="#111" stroke-width="0.18">2.0</text>
<line x1="78" y1="204.2" x2="79.6" y2="204.2" stroke="#777" stroke-width="0.6"/>
<text transform="translate(74.5,227.2) rotate(-90)" font-size="8" font-weight="bold" text-anchor="middle" fill="#111" stroke="#111" stroke-width="0.18">1.9</text>
<line x1="78" y1="227.2" x2="79.6" y2="227.2" stroke="#777" stroke-width="0.6"/>
<text x="87.2" y="249.3" font-size="8.4" font-weight="bold" text-anchor="middle" fill="#111" stroke="#111" stroke-width="0.18" >17.0</text>
<line x1="87.2" y1="239.2" x2="87.2" y2="240.8" stroke="#777" stroke-width="0.6"/>
<text x="125.5" y="249.3" font-size="8.4" font-weight="bold" text-anchor="middle" fill="#111" stroke="#111" stroke-width="0.18" >17.8</text>
<line x1="125.5" y1="239.2" x2="125.5" y2="240.8" stroke="#777" stroke-width="0.6"/>
<text x="174" y="249.3" font-size="8.4" font-weight="bold" text-anchor="middle" fill="#111" stroke="#111" stroke-width="0.18" >18.7</text>
<line x1="174" y1="239.2" x2="174" y2="240.8" stroke="#777" stroke-width="0.6"/>
<text x="136.7" y="259.3" font-size="7.7" font-weight="bold" text-anchor="middle" fill="#111" stroke="#111" stroke-width="0.18" >1D RT (min)</text>
<g clip-path="url(#hc140)"><g filter="url(#cm)" style="isolation:isolate">
<rect x="77.6" y="156.2" width="119.2" height="85" fill="#000"/>
<ellipse cx="102.5" cy="182.5" rx="12" ry="17.4" fill="url(#b27)" style="mix-blend-mode:lighten" transform="rotate(-22 102.5 182.5)"/>
<ellipse cx="100.5" cy="181" rx="4.5" ry="5.4" fill="url(#b28)" style="mix-blend-mode:lighten" transform="rotate(-20 100.5 181)"/>
<ellipse cx="95" cy="170.5" rx="3.5" ry="5.25" fill="url(#b29)" style="mix-blend-mode:lighten" transform="rotate(-30 95 170.5)"/>
<ellipse cx="163.5" cy="206.5" rx="8" ry="12.8" fill="url(#b30)" style="mix-blend-mode:lighten" transform="rotate(-10 163.5 206.5)"/>
<ellipse cx="171" cy="211" rx="10" ry="11" fill="url(#b31)" style="mix-blend-mode:lighten"/>
<ellipse cx="170.5" cy="210" rx="4" ry="4" fill="url(#b32)" style="mix-blend-mode:lighten"/>
<ellipse cx="169.5" cy="218" rx="2.5" ry="3.75" fill="url(#b33)" style="mix-blend-mode:lighten"/>
<ellipse cx="104" cy="218" rx="2" ry="3" fill="url(#b34)" style="mix-blend-mode:lighten"/>
<ellipse cx="110" cy="226" rx="3" ry="3" fill="url(#b35)" style="mix-blend-mode:lighten"/>
<ellipse cx="124" cy="236" rx="2" ry="2" fill="url(#b36)" style="mix-blend-mode:lighten"/>
</g></g>
<text x="88.5" y="198" font-size="9.5" font-weight="bold" text-anchor="start" fill="#fff" stroke="#fff" stroke-width="0.18" >L</text>
<text x="154" y="225.5" font-size="9.5" font-weight="bold" text-anchor="start" fill="#fff" stroke="#fff" stroke-width="0.18" >D</text>
<text x="179" y="173.5" font-size="9.5" font-weight="bold" text-anchor="middle" fill="#fff" stroke="#fff" stroke-width="0.18" font-style="italic">PB</text>
<text x="1.5" y="292.8" font-size="9" font-weight="bold" text-anchor="start" fill="#111" stroke="#111" stroke-width="0.45" >C)</text>
<rect x="29.3" y="298" width="9.6" height="81" fill="url(#cbar)"/>
<text x="34.2" y="296.2" font-size="9" font-weight="bold" text-anchor="middle" fill="#111" stroke="#111" stroke-width="0.18" >200000</text>
<text x="34" y="387.5" font-size="9" font-weight="bold" text-anchor="middle" fill="#111" stroke="#111" stroke-width="0.18" >50000</text>
<text transform="translate(23.4,338.5) rotate(-90)" font-size="9" font-weight="bold" text-anchor="middle" fill="#111" stroke="#111" stroke-width="0.18">Abundance</text>
<text transform="translate(62,338) rotate(-90)" font-size="7.7" font-weight="bold" text-anchor="middle" fill="#111" stroke="#111" stroke-width="0.18">2D RT (s)</text>
<text transform="translate(74.5,308.6) rotate(-90)" font-size="8" font-weight="bold" text-anchor="middle" fill="#111" stroke="#111" stroke-width="0.18">2.3</text>
<line x1="78" y1="308.6" x2="79.6" y2="308.6" stroke="#777" stroke-width="0.6"/>
<text transform="translate(74.5,330.4) rotate(-90)" font-size="8" font-weight="bold" text-anchor="middle" fill="#111" stroke="#111" stroke-width="0.18">2.2</text>
<line x1="78" y1="330.4" x2="79.6" y2="330.4" stroke="#777" stroke-width="0.6"/>
<text transform="translate(74.5,349.6) rotate(-90)" font-size="8" font-weight="bold" text-anchor="middle" fill="#111" stroke="#111" stroke-width="0.18">2.1</text>
<line x1="78" y1="349.6" x2="79.6" y2="349.6" stroke="#777" stroke-width="0.6"/>
<text transform="translate(74.5,370) rotate(-90)" font-size="8" font-weight="bold" text-anchor="middle" fill="#111" stroke="#111" stroke-width="0.18">2.0</text>
<line x1="78" y1="370" x2="79.6" y2="370" stroke="#777" stroke-width="0.6"/>
<text x="86" y="389.3" font-size="8.4" font-weight="bold" text-anchor="middle" fill="#111" stroke="#111" stroke-width="0.18" >16.7</text>
<line x1="86" y1="379.2" x2="86" y2="380.8" stroke="#777" stroke-width="0.6"/>
<text x="129.3" y="389.3" font-size="8.4" font-weight="bold" text-anchor="middle" fill="#111" stroke="#111" stroke-width="0.18" >17.5</text>
<line x1="129.3" y1="379.2" x2="129.3" y2="380.8" stroke="#777" stroke-width="0.6"/>
<text x="178" y="389.3" font-size="8.4" font-weight="bold" text-anchor="middle" fill="#111" stroke="#111" stroke-width="0.18" >18.3</text>
<line x1="178" y1="379.2" x2="178" y2="380.8" stroke="#777" stroke-width="0.6"/>
<text x="136.7" y="399.3" font-size="7.7" font-weight="bold" text-anchor="middle" fill="#111" stroke="#111" stroke-width="0.18" >1D RT (min)</text>
<g clip-path="url(#hc280)"><g filter="url(#cm)" style="isolation:isolate">
<rect x="77.6" y="296.2" width="119.2" height="85" fill="#000"/>
<ellipse cx="102.2" cy="331.6" rx="10" ry="13.5" fill="url(#b37)" style="mix-blend-mode:lighten" transform="rotate(-20 102.2 331.6)"/>
<ellipse cx="99.5" cy="333" rx="6" ry="8.4" fill="url(#b38)" style="mix-blend-mode:lighten" transform="rotate(-15 99.5 333)"/>
<ellipse cx="98" cy="323" rx="4" ry="6" fill="url(#b39)" style="mix-blend-mode:lighten" transform="rotate(-10 98 323)"/>
<ellipse cx="166.7" cy="357.6" rx="10" ry="13.5" fill="url(#b40)" style="mix-blend-mode:lighten" transform="rotate(-15 166.7 357.6)"/>
<ellipse cx="165.3" cy="357.8" rx="7.5" ry="8.62" fill="url(#b41)" style="mix-blend-mode:lighten" transform="rotate(-15 165.3 357.8)"/>
</g></g>
<text x="88.5" y="352.5" font-size="9.5" font-weight="bold" text-anchor="start" fill="#fff" stroke="#fff" stroke-width="0.18" >L</text>
<text x="150" y="372.5" font-size="9.5" font-weight="bold" text-anchor="start" fill="#fff" stroke="#fff" stroke-width="0.18" >D</text>
<text x="177.8" y="313" font-size="9.5" font-weight="bold" text-anchor="middle" fill="#fff" stroke="#fff" stroke-width="0.18" font-style="italic">RS</text>
<path d="M246.80,38.50 L252.00,37.00 L258.00,35.50 L262.00,35.00 L266.00,22.00 L268.00,19.00 L270.00,22.00 L276.00,31.00 L280.00,26.00 L283.00,25.40 L289.00,29.90 L295.00,27.70 L301.00,26.60 L306.00,25.40 L310.00,29.20 L315.00,26.20 L322.00,24.00 L329.60,25.40 L333.00,27.00 L337.00,18.00 L340.00,17.00 L343.00,19.00 L350.00,28.00 L356.00,33.00 L362.00,40.00 L368.00,48.00 L375.00,56.00 L380.40,62.60 L375.00,64.40 L360.00,70.00 L347.00,74.90 L335.00,78.00 L322.60,81.00 L312.80,83.40 L303.00,86.00 L298.00,89.80 L285.50,92.30 L277.30,94.00Z" fill="url(#a3base)"/>
<g clip-path="url(#a3c)">
<g filter="url(#bl1)"><ellipse cx="307.52" cy="69.59" rx="6.66" ry="3.9" fill="#0a0a88" opacity="0.35"/><ellipse cx="362.29" cy="47.39" rx="6.12" ry="3.61" fill="#0a0a88" opacity="0.35"/><ellipse cx="353.84" cy="41.65" rx="3.87" ry="1.69" fill="#0a0a9a" opacity="0.35"/><ellipse cx="326.98" cy="59.77" rx="4.54" ry="3.16" fill="#0c0cb0" opacity="0.35"/><ellipse cx="330.75" cy="85.9" rx="2.78" ry="1.15" fill="#0c0cb0" opacity="0.35"/><ellipse cx="327.55" cy="82.69" rx="3.97" ry="2.53" fill="#0c0cb0" opacity="0.35"/><ellipse cx="316.6" cy="74.42" rx="4.75" ry="3.16" fill="#2a30ff" opacity="0.35"/><ellipse cx="335.05" cy="60.41" rx="4.98" ry="3.85" fill="#0a0a9a" opacity="0.35"/><ellipse cx="342.26" cy="54.92" rx="3.53" ry="1.82" fill="#0a0a9a" opacity="0.35"/><ellipse cx="322.59" cy="42.48" rx="2.99" ry="1.54" fill="#0a0a9a" opacity="0.35"/><ellipse cx="376.29" cy="86.84" rx="2.5" ry="1.21" fill="#0a0a9a" opacity="0.35"/><ellipse cx="309.92" cy="94.82" rx="4.29" ry="1.84" fill="#0c0cb0" opacity="0.35"/><ellipse cx="351.88" cy="52.19" rx="2.89" ry="1.54" fill="#2a30ff" opacity="0.35"/><ellipse cx="349.09" cy="43.08" rx="3.61" ry="1.59" fill="#0a0a9a" opacity="0.35"/><ellipse cx="309.23" cy="65.21" rx="5.57" ry="2.65" fill="#0a0a88" opacity="0.35"/><ellipse cx="271.93" cy="79.91" rx="3.09" ry="2.03" fill="#0a0a9a" opacity="0.35"/><ellipse cx="299.7" cy="95.4" rx="2.5" ry="1.87" fill="#0a0a88" opacity="0.35"/><ellipse cx="287.36" cy="89.09" rx="3.45" ry="1.92" fill="#0a0a88" opacity="0.35"/><ellipse cx="333.29" cy="42.02" rx="6.95" ry="3.37" fill="#3040ff" opacity="0.35"/><ellipse cx="247.3" cy="72.62" rx="6.24" ry="3.46" fill="#0a0a9a" opacity="0.35"/><ellipse cx="258.26" cy="70.96" rx="3.59" ry="2.3" fill="#3040ff" opacity="0.35"/><ellipse cx="330.61" cy="43.63" rx="5.14" ry="3.77" fill="#0c0cb0" opacity="0.35"/><ellipse cx="363.85" cy="46.97" rx="3.19" ry="2.44" fill="#0a0a88" opacity="0.35"/><ellipse cx="279.93" cy="47.39" rx="5.83" ry="4.52" fill="#0c0cb0" opacity="0.35"/><ellipse cx="339.43" cy="59.29" rx="4.67" ry="2.02" fill="#0a0a9a" opacity="0.35"/><ellipse cx="260.12" cy="38.32" rx="6.83" ry="3.38" fill="#2a30ff" opacity="0.35"/><ellipse cx="280.95" cy="85.42" rx="5.18" ry="2.68" fill="#0c0cb0" opacity="0.35"/><ellipse cx="372.38" cy="94.63" rx="3.07" ry="1.82" fill="#0a0a88" opacity="0.35"/><ellipse cx="329.55" cy="52.81" rx="6.63" ry="3.19" fill="#0a0a9a" opacity="0.35"/><ellipse cx="255.4" cy="60.69" rx="3.62" ry="1.52" fill="#3040ff" opacity="0.35"/><ellipse cx="296.15" cy="70.33" rx="3.09" ry="1.68" fill="#2a30ff" opacity="0.35"/><ellipse cx="379.35" cy="75.42" rx="5.61" ry="3.56" fill="#0c0cb0" opacity="0.35"/><ellipse cx="326.22" cy="91.42" rx="4.64" ry="2.52" fill="#3040ff" opacity="0.35"/><ellipse cx="376.94" cy="37.28" rx="5.36" ry="3.18" fill="#3040ff" opacity="0.35"/><ellipse cx="289.37" cy="95.96" rx="2.84" ry="1.76" fill="#0a0a9a" opacity="0.35"/><ellipse cx="368.43" cy="80.23" rx="5.67" ry="4.06" fill="#3040ff" opacity="0.35"/><ellipse cx="293.85" cy="77.11" rx="6.55" ry="4.91" fill="#2a30ff" opacity="0.35"/><ellipse cx="374.42" cy="37.82" rx="4.75" ry="1.93" fill="#2a30ff" opacity="0.35"/><ellipse cx="297.57" cy="36.75" rx="2.83" ry="1.23" fill="#0a0a9a" opacity="0.35"/><ellipse cx="381.09" cy="88.79" rx="5.78" ry="3.21" fill="#0a0a88" opacity="0.35"/></g>
<g filter="url(#bl07)"><path d="M251.7,37.7 253.7,37.9 252.8,37.3 250.8,37.2ZM267.5,38.3 269.5,37.9 268.6,36.8 266.6,37.0ZM271.5,37.5 273.5,37.5 272.6,36.4 270.6,36.6ZM283.4,38.1 285.4,37.7 284.5,36.2 282.5,36.6ZM305.2,33.2 307.2,32.6 306.3,30.8 304.4,31.7ZM248.6,40.9 250.6,40.2 249.7,38.1 247.7,38.9ZM304.2,34.8 306.1,34.6 305.2,33.2 303.3,33.8ZM268.2,44.2 270.2,44.6 269.3,44.1 267.4,43.9ZM286.1,40.5 288.1,40.1 287.2,38.9 285.2,39.3ZM288.1,40.1 290.1,39.8 289.2,38.6 287.2,38.9ZM290.1,39.8 292.1,39.5 291.2,38.3 289.2,38.6ZM292.1,39.5 294.0,39.2 293.1,38.0 291.2,38.3ZM294.0,39.2 296.0,38.9 295.1,37.4 293.1,38.0ZM251.3,49.1 253.3,48.2 252.4,46.2 250.4,46.9ZM255.3,47.2 257.2,46.5 256.3,44.7 254.4,45.4ZM273.1,45.6 275.1,45.6 274.2,44.6 272.2,44.7ZM275.1,45.6 277.1,45.4 276.2,44.5 274.2,44.6ZM287.0,41.9 289.0,41.5 288.1,40.1 286.1,40.5ZM298.9,39.9 300.9,39.5 300.0,38.2 298.0,38.6ZM300.9,39.5 302.9,39.1 302.0,38.0 300.0,38.2ZM302.9,39.1 304.9,38.7 304.0,37.7 302.0,38.0ZM304.9,38.7 306.8,38.4 306.0,37.5 304.0,37.7ZM348.5,33.9 350.5,33.7 349.6,33.6 347.6,33.6ZM256.2,48.4 258.1,48.3 257.2,46.5 255.3,47.2ZM285.9,44.2 287.9,43.5 287.0,41.9 285.0,42.5ZM297.8,41.6 299.8,41.1 298.9,39.9 296.9,40.2ZM299.8,41.1 301.8,40.6 300.9,39.5 298.9,39.9ZM307.7,38.9 309.7,38.9 308.8,38.3 306.8,38.4ZM335.5,36.1 337.5,35.6 336.6,34.7 334.6,35.0ZM339.5,35.1 341.5,34.7 340.6,34.2 338.6,34.4ZM341.5,34.7 343.5,34.6 342.6,34.0 340.6,34.2ZM345.4,34.5 347.4,34.3 346.5,33.9 344.5,33.9ZM257.0,49.2 259.0,49.1 258.1,48.3 256.2,48.4ZM259.0,49.1 261.0,49.0 260.1,48.5 258.1,48.3ZM272.9,47.6 274.9,47.7 274.0,47.2 272.0,47.1ZM288.8,44.6 290.8,44.3 289.9,43.0 287.9,43.5ZM290.8,44.3 292.8,43.9 291.9,42.6 289.9,43.0ZM298.7,42.9 300.7,42.4 299.8,41.1 297.8,41.6ZM310.6,38.9 312.6,39.1 311.7,39.3 309.7,38.9ZM312.6,39.1 314.6,39.5 313.7,39.8 311.7,39.3ZM320.5,39.8 322.5,39.7 321.6,38.7 319.6,39.2ZM326.5,39.1 328.5,38.5 327.6,37.5 325.6,37.9ZM328.5,38.5 330.5,38.1 329.6,37.1 327.6,37.5ZM334.4,37.7 336.4,37.0 335.5,36.1 333.5,36.5ZM346.3,35.0 348.3,35.0 347.4,34.3 345.4,34.5ZM254.0,50.6 256.0,50.4 255.1,49.4 253.1,49.7ZM256.0,50.4 257.9,50.2 257.0,49.2 255.1,49.4ZM257.9,50.2 259.9,50.1 259.0,49.1 257.0,49.2ZM259.9,50.1 261.9,49.9 261.0,49.0 259.0,49.1ZM261.9,49.9 263.9,49.7 263.0,48.9 261.0,49.0ZM267.9,49.3 269.8,49.1 269.0,48.0 267.0,48.4ZM269.8,49.1 271.8,48.8 270.9,47.8 269.0,48.0ZM285.7,46.6 287.7,46.2 286.8,45.0 284.8,45.5ZM287.7,46.2 289.7,45.9 288.8,44.6 286.8,45.0ZM301.6,43.9 303.6,43.3 302.7,41.8 300.7,42.4ZM303.6,43.3 305.6,42.6 304.7,40.9 302.7,41.8ZM309.5,40.6 311.5,39.8 310.6,38.9 308.6,39.2ZM311.5,39.8 313.5,39.3 312.6,39.1 310.6,38.9ZM325.4,40.5 327.4,40.2 326.5,39.1 324.5,39.6ZM327.4,40.2 329.4,39.6 328.5,38.5 326.5,39.1ZM335.3,38.9 337.3,38.3 336.4,37.0 334.4,37.7ZM266.8,50.4 268.8,50.2 267.9,49.3 265.9,49.5ZM272.7,50.2 274.7,49.8 273.8,48.7 271.8,48.8ZM286.6,47.5 288.6,47.4 287.7,46.2 285.7,46.6ZM350.1,37.1 352.1,36.5 351.2,35.2 349.2,35.8ZM352.1,36.5 354.1,35.9 353.2,34.4 351.2,35.2ZM263.7,53.2 265.7,52.6 264.8,51.1 262.8,51.6ZM273.6,51.6 275.6,51.0 274.7,49.8 272.7,50.2ZM275.6,51.0 277.6,50.6 276.7,49.8 274.7,49.8ZM277.6,50.6 279.6,50.4 278.7,50.1 276.7,49.8ZM327.2,42.4 329.2,42.1 328.3,41.4 326.3,41.6ZM329.2,42.1 331.2,41.9 330.3,41.0 328.3,41.4ZM316.2,47.4 318.2,45.6 317.3,42.5 315.3,44.3ZM334.0,41.5 336.0,41.8 335.1,41.5 333.1,41.7ZM261.5,56.2 263.5,55.8 262.6,54.8 260.6,55.1ZM263.5,55.8 265.5,55.7 264.6,54.6 262.6,54.8ZM303.2,51.0 305.2,51.1 304.3,51.6 302.3,51.0ZM325.0,44.4 327.0,44.2 326.1,43.2 324.1,43.6ZM344.9,42.5 346.8,42.2 345.9,41.3 344.0,41.6ZM346.8,42.2 348.8,41.8 347.9,41.0 345.9,41.3ZM348.8,41.8 350.8,41.5 349.9,40.6 347.9,41.0ZM356.8,40.4 358.7,39.8 357.9,39.1 355.9,39.5ZM262.4,57.4 264.4,57.1 263.5,55.8 261.5,56.2ZM284.3,54.9 286.2,54.3 285.3,53.1 283.4,53.5ZM290.2,53.0 292.2,52.9 291.3,52.0 289.3,52.3ZM302.1,51.7 304.1,51.4 303.2,51.0 301.2,50.9ZM320.0,47.8 321.9,47.3 321.1,45.2 319.1,46.5ZM339.8,44.2 341.8,43.6 340.9,43.1 338.9,43.3ZM341.8,43.6 343.8,43.3 342.9,42.8 340.9,43.1ZM343.8,43.3 345.8,43.1 344.9,42.5 342.9,42.8ZM355.7,41.9 357.7,41.4 356.8,40.4 354.8,40.8ZM285.1,56.3 287.1,55.6 286.2,54.3 284.3,54.9ZM309.0,51.9 310.9,51.4 310.0,50.8 308.1,50.9ZM336.7,46.4 338.7,45.8 337.8,44.8 335.8,45.3ZM356.6,42.8 358.6,42.2 357.7,41.4 355.7,41.9ZM360.5,41.6 362.5,41.0 361.6,39.9 359.6,40.7ZM274.1,60.0 276.1,59.4 275.2,58.2 273.2,58.5ZM282.1,57.4 284.1,57.6 283.2,56.7 281.2,57.1ZM309.9,53.2 311.8,52.6 310.9,51.4 309.0,51.9ZM319.8,49.4 321.8,49.5 320.9,49.3 318.9,49.2ZM323.7,49.8 325.7,49.8 324.8,48.9 322.8,49.3ZM325.7,49.8 327.7,49.4 326.8,48.4 324.8,48.9ZM331.7,48.2 333.7,47.8 332.8,47.1 330.8,47.4ZM333.7,47.8 335.6,47.6 334.7,46.8 332.8,47.1ZM339.6,47.0 341.6,46.5 340.7,44.9 338.7,45.8ZM353.5,44.9 355.5,44.3 354.6,43.5 352.6,43.8ZM277.0,61.1 279.0,60.4 278.1,58.5 276.1,59.4ZM310.7,54.5 312.7,53.9 311.8,52.6 309.9,53.2ZM318.7,50.9 320.7,50.3 319.8,49.4 317.8,49.7ZM326.6,50.6 328.6,50.3 327.7,49.4 325.7,49.8ZM332.6,49.1 334.6,48.6 333.7,47.8 331.7,48.2ZM352.4,45.9 354.4,45.4 353.5,44.9 351.5,45.1ZM270.0,64.3 272.0,63.8 271.1,62.5 269.1,62.8ZM272.0,63.8 274.0,63.4 273.1,62.1 271.1,62.5ZM303.7,58.9 305.7,57.9 304.8,56.2 302.8,57.0ZM305.7,57.9 307.7,57.0 306.8,55.6 304.8,56.2ZM313.6,55.4 315.6,54.7 314.7,53.0 312.7,53.9ZM315.6,54.7 317.6,53.8 316.7,51.9 314.7,53.0ZM333.5,50.6 335.4,49.7 334.6,48.6 332.6,49.1ZM343.4,48.8 345.4,48.2 344.5,47.2 342.5,47.7ZM345.4,48.2 347.3,47.7 346.5,46.7 344.5,47.2ZM351.3,47.0 353.3,46.5 352.4,45.9 350.4,46.1ZM264.9,67.4 266.9,66.8 266.0,65.3 264.0,65.8ZM266.9,66.8 268.9,66.1 268.0,64.8 266.0,65.3ZM292.7,63.2 294.7,63.0 293.8,62.6 291.8,62.5ZM298.7,62.5 300.6,62.1 299.7,60.8 297.8,61.5ZM308.6,58.3 310.6,57.7 309.7,56.4 307.7,57.0ZM354.2,47.8 356.2,47.0 355.3,45.7 353.3,46.5ZM263.8,69.8 265.8,69.2 264.9,67.4 262.9,68.1ZM269.8,68.0 271.8,67.0 270.9,65.4 268.9,66.1ZM275.7,65.1 277.7,64.8 276.8,63.9 274.8,64.1ZM289.6,65.3 291.6,64.7 290.7,63.5 288.7,63.9ZM291.6,64.7 293.6,64.2 292.7,63.2 290.7,63.5ZM293.6,64.2 295.6,63.8 294.7,63.0 292.7,63.2ZM295.6,63.8 297.6,63.6 296.7,62.8 294.7,63.0ZM309.5,59.3 311.4,58.9 310.6,57.7 308.6,58.3ZM327.3,55.1 329.3,54.2 328.4,53.2 326.4,53.6ZM286.6,66.7 288.5,66.7 287.6,65.8 285.7,66.0ZM302.4,65.7 304.4,64.4 303.5,62.6 301.5,63.3ZM310.4,59.8 312.3,59.8 311.4,58.9 309.5,59.3ZM330.2,55.9 332.2,54.9 331.3,53.1 329.3,54.2ZM332.2,54.9 334.2,53.8 333.3,52.0 331.3,53.1ZM265.6,72.7 267.6,72.1 266.7,71.0 264.7,71.2ZM275.6,69.9 277.5,69.5 276.6,67.4 274.7,68.6ZM347.0,54.5 348.9,54.0 348.0,53.3 346.1,53.8ZM352.9,52.8 354.9,52.2 354.0,51.2 352.0,51.8ZM356.9,51.7 358.9,51.1 358.0,50.1 356.0,50.6ZM266.5,74.3 268.5,73.5 267.6,72.1 265.6,72.7ZM343.9,55.8 345.9,55.3 345.0,54.8 343.0,55.0ZM345.9,55.3 347.9,55.1 347.0,54.5 345.0,54.8ZM347.9,55.1 349.8,54.7 348.9,54.0 347.0,54.5ZM349.8,54.7 351.8,54.3 350.9,53.4 348.9,54.0ZM351.8,54.3 353.8,53.8 352.9,52.8 350.9,53.4ZM357.8,52.8 359.8,51.9 358.9,51.1 356.9,51.7ZM365.7,47.0 367.7,47.5 366.8,47.6 364.8,47.7ZM267.4,75.9 269.4,75.1 268.5,73.5 266.5,74.3ZM271.4,74.2 273.4,73.5 272.5,72.0 270.5,72.6ZM356.7,54.5 358.7,53.8 357.8,52.8 355.8,53.3ZM268.3,77.7 270.3,76.9 269.4,75.1 267.4,75.9ZM288.2,74.3 290.1,73.1 289.2,71.4 287.3,72.2ZM308.0,68.3 310.0,67.7 309.1,65.6 307.1,66.8ZM339.7,59.9 341.7,59.2 340.8,58.1 338.8,58.7ZM345.7,56.8 347.7,56.5 346.8,55.8 344.8,56.2ZM355.6,56.4 357.6,55.6 356.7,54.5 354.7,55.0ZM283.1,77.1 285.1,76.8 284.2,76.1 282.2,76.3ZM340.6,61.1 342.6,60.4 341.7,59.2 339.7,59.9ZM282.0,78.1 284.0,77.7 283.1,77.1 281.1,77.1ZM323.7,67.1 325.7,66.5 324.8,65.3 322.8,66.0ZM325.7,66.5 327.6,65.9 326.7,64.7 324.8,65.3ZM329.6,65.4 331.6,64.8 330.7,63.7 328.7,64.2ZM331.6,64.8 333.6,64.2 332.7,63.2 330.7,63.7ZM333.6,64.2 335.6,63.6 334.7,62.6 332.7,63.2ZM335.6,63.6 337.6,63.0 336.7,62.1 334.7,62.6ZM337.6,63.0 339.5,62.6 338.6,61.6 336.7,62.1ZM341.5,62.1 343.5,61.6 342.6,60.4 340.6,61.1ZM343.5,61.6 345.5,61.0 344.6,59.4 342.6,60.4ZM355.4,60.9 357.4,59.8 356.5,58.1 354.5,59.2ZM361.3,57.2 363.3,56.2 362.4,54.3 360.5,55.5ZM271.0,84.4 273.0,83.5 272.1,81.5 270.1,82.5ZM273.0,83.5 275.0,82.4 274.1,80.5 272.1,81.5ZM275.0,82.4 277.0,81.5 276.1,79.7 274.1,80.5ZM282.9,79.4 284.9,78.9 284.0,77.7 282.0,78.1ZM284.9,78.9 286.9,78.3 286.0,77.2 284.0,77.7ZM286.9,78.3 288.9,77.8 288.0,76.7 286.0,77.2ZM288.9,77.8 290.9,77.3 290.0,76.1 288.0,76.7ZM290.9,77.3 292.8,76.8 291.9,75.5 290.0,76.1ZM310.7,72.5 312.7,71.5 311.8,70.1 309.8,70.8ZM314.6,70.9 316.6,70.5 315.7,69.7 313.8,70.0ZM338.4,63.6 340.4,63.2 339.5,62.6 337.6,63.0ZM340.4,63.2 342.4,62.7 341.5,62.1 339.5,62.6ZM354.3,62.0 356.3,61.6 355.4,60.9 353.4,61.4ZM372.2,55.4 374.1,54.6 373.2,53.9 371.3,54.3ZM277.9,83.0 279.8,82.3 279.0,80.7 277.0,81.5ZM299.7,76.7 301.7,76.3 300.8,75.6 298.8,75.7ZM305.6,76.1 307.6,76.0 306.7,74.9 304.7,75.4ZM307.6,76.0 309.6,75.6 308.7,73.8 306.7,74.9ZM335.4,65.7 337.4,65.2 336.5,64.2 334.5,64.9ZM337.4,65.2 339.3,64.7 338.4,63.6 336.5,64.2ZM339.3,64.7 341.3,64.1 340.4,63.2 338.4,63.6ZM341.3,64.1 343.3,63.4 342.4,62.7 340.4,63.2ZM359.2,61.2 361.2,61.1 360.3,59.9 358.3,60.7ZM367.1,59.7 369.1,58.2 368.2,56.7 366.2,57.7ZM373.1,56.6 375.0,55.6 374.1,54.6 372.2,55.4ZM276.8,84.9 278.8,84.5 277.9,83.0 275.9,83.7ZM306.5,76.7 308.5,76.4 307.6,76.0 305.6,76.1ZM310.5,76.1 312.5,76.0 311.6,75.0 309.6,75.6ZM342.2,65.4 344.2,64.5 343.3,63.4 341.3,64.1ZM344.2,64.5 346.2,63.7 345.3,62.6 343.3,63.4ZM356.1,63.0 358.1,62.5 357.2,61.8 355.2,62.3ZM358.1,62.5 360.1,62.0 359.2,61.2 357.2,61.8ZM273.7,87.5 275.7,86.9 274.8,85.5 272.8,86.1ZM295.5,81.2 297.5,80.5 296.6,79.3 294.6,80.0ZM297.5,80.5 299.5,80.0 298.6,78.7 296.6,79.3ZM278.6,87.9 280.6,87.2 279.7,86.0 277.7,86.4ZM298.4,81.4 300.4,81.0 299.5,80.0 297.5,80.5ZM277.5,89.9 279.5,89.3 278.6,87.9 276.6,88.5ZM289.4,84.7 291.4,84.8 290.5,83.9 288.5,84.4ZM293.4,84.3 295.3,83.7 294.4,82.4 292.5,83.2ZM295.3,83.7 297.3,83.1 296.4,81.8 294.4,82.4ZM317.1,78.8 319.1,78.1 318.2,77.3 316.2,77.6ZM325.1,76.1 327.1,75.4 326.2,73.7 324.2,74.8ZM348.9,69.7 350.9,69.1 350.0,68.2 348.0,68.7ZM350.9,69.1 352.8,68.4 351.9,67.7 350.0,68.2ZM356.8,67.1 358.8,66.4 357.9,65.4 355.9,66.2ZM362.7,65.4 364.7,65.1 363.8,66.0 361.9,65.2ZM286.3,85.3 288.3,85.2 287.4,84.4 285.4,84.8ZM312.1,82.5 314.1,81.7 313.2,80.5 311.2,81.3ZM316.1,80.9 318.0,80.1 317.1,78.8 315.2,79.6ZM318.0,80.1 320.0,79.4 319.1,78.1 317.1,78.8ZM320.0,79.4 322.0,78.7 321.1,77.5 319.1,78.1ZM322.0,78.7 324.0,77.9 323.1,76.8 321.1,77.5ZM329.9,75.6 331.9,75.1 331.0,74.1 329.0,74.7ZM331.9,75.1 333.9,74.6 333.0,73.6 331.0,74.1ZM347.8,71.4 349.8,70.6 348.9,69.7 346.9,70.2ZM349.8,70.6 351.7,69.9 350.9,69.1 348.9,69.7ZM351.7,69.9 353.7,69.3 352.8,68.4 350.9,69.1ZM353.7,69.3 355.7,68.7 354.8,67.8 352.8,68.4ZM355.7,68.7 357.7,68.1 356.8,67.1 354.8,67.8ZM363.6,66.2 365.6,65.5 364.7,65.1 362.7,65.4ZM375.5,61.9 377.5,61.5 376.6,60.9 374.6,61.6ZM377.5,61.5 379.5,61.1 378.6,60.3 376.6,60.9ZM281.3,92.2 283.2,91.4 282.4,89.5 280.4,90.7ZM311.0,84.2 313.0,83.5 312.1,82.5 310.1,83.0ZM313.0,83.5 315.0,82.8 314.1,81.7 312.1,82.5ZM315.0,82.8 317.0,82.2 316.1,80.9 314.1,81.7ZM322.9,80.2 324.9,79.1 324.0,77.9 322.0,78.7ZM334.8,75.0 336.8,74.7 335.9,74.1 333.9,74.6ZM344.7,74.3 346.7,73.3 345.8,72.2 343.8,72.9ZM348.7,72.3 350.7,71.5 349.8,70.6 347.8,71.4ZM350.7,71.5 352.6,71.0 351.7,69.9 349.8,70.6ZM364.5,67.3 366.5,66.6 365.6,65.5 363.6,66.2ZM366.5,66.6 368.5,65.7 367.6,64.8 365.6,65.5ZM374.5,63.1 376.4,62.6 375.5,61.9 373.6,62.4Z" fill="#0606a0" fill-opacity="0.14"/><path d="M269.5,37.9 271.5,37.5 270.6,36.6 268.6,36.8ZM281.4,38.8 283.4,38.1 282.5,36.6 280.5,37.3ZM295.3,36.9 297.3,36.2 296.4,35.3 294.4,35.5ZM302.2,34.6 304.2,34.8 303.3,33.8 301.3,34.5ZM287.2,38.9 289.2,38.6 288.3,38.0 286.3,38.2ZM289.2,38.6 291.2,38.3 290.3,37.7 288.3,38.0ZM253.3,48.2 255.3,47.2 254.4,45.4 252.4,46.2ZM277.1,45.4 279.1,45.1 278.2,44.2 276.2,44.5ZM285.0,42.5 287.0,41.9 286.1,40.5 284.1,41.2ZM280.0,46.6 281.9,45.9 281.1,44.4 279.1,45.1ZM283.9,45.0 285.9,44.2 285.0,42.5 283.0,43.4ZM301.8,40.6 303.8,39.9 302.9,39.1 300.9,39.5ZM337.5,35.6 339.5,35.1 338.6,34.4 336.6,34.7ZM347.4,34.3 349.4,34.0 348.5,33.9 346.5,33.9ZM261.0,49.0 263.0,48.9 262.1,48.6 260.1,48.5ZM270.9,47.8 272.9,47.6 272.0,47.1 270.0,47.1ZM274.9,47.7 276.9,47.7 276.0,47.3 274.0,47.2ZM300.7,42.4 302.7,41.8 301.8,40.6 299.8,41.1ZM314.6,39.5 316.6,39.8 315.7,40.0 313.7,39.8ZM342.4,34.5 344.4,34.7 343.5,34.6 341.5,34.7ZM348.3,35.0 350.3,34.5 349.4,34.0 347.4,34.3ZM263.9,49.7 265.9,49.5 265.0,48.7 263.0,48.9ZM265.9,49.5 267.9,49.3 267.0,48.4 265.0,48.7ZM283.7,47.0 285.7,46.6 284.8,45.5 282.8,46.0ZM305.6,42.6 307.5,41.6 306.7,39.9 304.7,40.9ZM307.5,41.6 309.5,40.6 308.6,39.2 306.7,39.9ZM319.5,39.4 321.4,39.9 320.5,39.8 318.6,39.8ZM339.3,37.3 341.3,36.4 340.4,34.9 338.4,35.9ZM349.2,35.8 351.2,35.2 350.3,34.5 348.3,35.0ZM264.8,51.1 266.8,50.4 265.9,49.5 263.9,49.7ZM284.6,47.8 286.6,47.5 285.7,46.6 283.7,47.0ZM315.3,44.3 317.3,42.5 316.4,40.6 314.4,41.6ZM317.3,42.5 319.3,41.3 318.4,40.1 316.4,40.6ZM257.6,57.3 259.5,56.7 258.7,55.5 256.7,55.9ZM259.5,56.7 261.5,56.2 260.6,55.1 258.7,55.5ZM321.1,45.2 323.0,44.5 322.1,43.6 320.2,44.1ZM327.0,44.2 329.0,43.7 328.1,42.1 326.1,43.2ZM258.5,58.7 260.4,58.0 259.5,56.7 257.6,57.3ZM260.4,58.0 262.4,57.4 261.5,56.2 259.5,56.7ZM286.2,54.3 288.2,53.6 287.3,52.7 285.3,53.1ZM304.1,51.4 306.1,51.1 305.2,51.1 303.2,51.0ZM357.7,41.4 359.6,40.7 358.7,39.8 356.8,40.4ZM289.1,54.7 291.1,54.0 290.2,53.0 288.2,53.6ZM342.7,44.1 344.7,43.7 343.8,43.3 341.8,43.6ZM358.6,42.2 360.5,41.6 359.6,40.7 357.7,41.4ZM317.8,49.7 319.8,49.4 318.9,49.2 316.9,49.2ZM327.7,49.4 329.7,48.8 328.8,47.9 326.8,48.4ZM329.7,48.8 331.7,48.2 330.8,47.4 328.8,47.9ZM312.7,53.9 314.7,53.0 313.8,51.7 311.8,52.6ZM328.6,50.3 330.6,49.7 329.7,48.8 327.7,49.4ZM330.6,49.7 332.6,49.1 331.7,48.2 329.7,48.8ZM268.9,66.1 270.9,65.4 270.0,64.3 268.0,64.8ZM274.8,64.1 276.8,63.9 275.9,63.1 274.0,63.4ZM294.7,63.0 296.7,62.8 295.8,62.1 293.8,62.6ZM296.7,62.8 298.7,62.5 297.8,61.5 295.8,62.1ZM300.6,62.1 302.6,61.4 301.7,59.9 299.7,60.8ZM306.6,59.2 308.6,58.3 307.7,57.0 305.7,57.9ZM336.3,50.2 338.3,49.9 337.4,49.4 335.4,49.7ZM301.5,63.3 303.5,62.6 302.6,61.4 300.6,62.1ZM267.6,72.1 269.6,71.4 268.7,70.9 266.7,71.0ZM348.9,54.0 350.9,53.4 350.0,52.6 348.0,53.3ZM350.9,53.4 352.9,52.8 352.0,51.8 350.0,52.6ZM358.9,51.1 360.8,50.2 359.9,49.4 358.0,50.1ZM268.5,73.5 270.5,72.6 269.6,71.4 267.6,72.1ZM270.5,72.6 272.5,72.0 271.6,70.8 269.6,71.4ZM296.3,69.7 298.3,69.9 297.4,70.3 295.4,70.0ZM269.4,75.1 271.4,74.2 270.5,72.6 268.5,73.5ZM297.2,69.9 299.2,69.9 298.3,69.9 296.3,69.7ZM340.8,58.1 342.8,57.2 341.9,56.3 339.9,56.9ZM344.8,56.2 346.8,55.8 345.9,55.3 343.9,55.8ZM270.3,76.9 272.3,75.9 271.4,74.2 269.4,75.1ZM274.3,74.6 276.3,74.0 275.4,73.3 273.4,73.5ZM290.1,73.1 292.1,71.9 291.2,70.7 289.2,71.4ZM357.6,55.6 359.6,54.6 358.7,53.8 356.7,54.5ZM295.0,72.2 297.0,71.3 296.1,69.8 294.1,70.8ZM344.6,59.4 346.6,58.4 345.7,56.8 343.7,58.0ZM356.5,58.1 358.5,56.8 357.6,55.6 355.6,56.4ZM364.4,52.8 366.4,51.6 365.5,49.0 363.5,51.0ZM311.8,70.1 313.8,70.0 312.9,69.7 310.9,69.9ZM313.8,70.0 315.7,69.7 314.8,69.3 312.9,69.7ZM321.7,67.8 323.7,67.1 322.8,66.0 320.8,66.8ZM359.4,58.4 361.3,57.2 360.5,55.5 358.5,56.8ZM298.8,75.7 300.8,75.6 299.9,75.9 297.9,75.6ZM316.6,70.5 318.6,69.9 317.7,69.2 315.7,69.7ZM326.5,67.1 328.5,66.6 327.6,65.9 325.7,66.5ZM328.5,66.6 330.5,66.1 329.6,65.4 327.6,65.9ZM330.5,66.1 332.5,65.6 331.6,64.8 329.6,65.4ZM332.5,65.6 334.5,64.9 333.6,64.2 331.6,64.8ZM334.5,64.9 336.5,64.2 335.6,63.6 333.6,64.2ZM336.5,64.2 338.4,63.6 337.6,63.0 335.6,63.6ZM342.4,62.7 344.4,62.2 343.5,61.6 341.5,62.1ZM344.4,62.2 346.4,61.7 345.5,61.0 343.5,61.6ZM275.9,83.7 277.9,83.0 277.0,81.5 275.0,82.4ZM319.5,71.6 321.5,70.4 320.6,69.2 318.6,69.9ZM331.4,66.4 333.4,66.1 332.5,65.6 330.5,66.1ZM333.4,66.1 335.4,65.7 334.5,64.9 332.5,65.6ZM345.3,62.6 347.3,62.2 346.4,61.7 344.4,62.2ZM274.8,85.5 276.8,84.9 275.9,83.7 273.9,84.5ZM308.5,76.4 310.5,76.1 309.6,75.6 307.6,76.0ZM328.3,67.6 330.3,67.2 329.4,66.7 327.4,67.2ZM370.0,59.4 372.0,58.3 371.1,57.3 369.1,58.2ZM289.6,84.1 291.6,83.2 290.7,81.8 288.7,82.6ZM293.5,82.1 295.5,81.2 294.6,80.0 292.6,80.9ZM287.4,84.4 289.4,84.7 288.5,84.4 286.5,84.7ZM291.4,84.8 293.4,84.3 292.5,83.2 290.5,83.9ZM319.1,78.1 321.1,77.5 320.2,76.9 318.2,77.3ZM352.8,68.4 354.8,67.8 353.9,67.0 351.9,67.7ZM354.8,67.8 356.8,67.1 355.9,66.2 353.9,67.0ZM370.7,62.9 372.7,62.2 371.8,61.1 369.8,62.2ZM314.1,81.7 316.1,80.9 315.2,79.6 313.2,80.5ZM324.0,77.9 326.0,77.1 325.1,76.1 323.1,76.8ZM326.0,77.1 328.0,76.2 327.1,75.4 325.1,76.1ZM328.0,76.2 329.9,75.6 329.0,74.7 327.1,75.4ZM285.2,89.8 287.2,88.3 286.3,85.3 284.3,87.3ZM332.8,75.3 334.8,75.0 333.9,74.6 331.9,75.1ZM346.7,73.3 348.7,72.3 347.8,71.4 345.8,72.2ZM368.5,65.7 370.5,64.7 369.6,63.9 367.6,64.8ZM370.5,64.7 372.5,63.8 371.6,63.1 369.6,63.9ZM372.5,63.8 374.5,63.1 373.6,62.4 371.6,63.1Z" fill="#0606a0" fill-opacity="0.28"/><path d="M303.3,33.8 305.2,33.2 304.4,31.7 302.4,32.7ZM286.3,38.2 288.3,38.0 287.4,37.5 285.4,37.7ZM288.3,38.0 290.3,37.7 289.4,37.3 287.4,37.5ZM290.3,37.7 292.3,37.4 291.4,37.2 289.4,37.3ZM279.3,42.5 281.2,41.3 280.3,40.1 278.4,40.6ZM285.2,39.3 287.2,38.9 286.3,38.2 284.3,38.6ZM291.2,38.3 293.1,38.0 292.3,37.4 290.3,37.7ZM270.2,44.6 272.2,44.7 271.3,43.1 269.3,44.1ZM278.2,44.2 280.2,43.5 279.3,42.5 277.3,42.9ZM281.9,45.9 283.9,45.0 283.0,43.4 281.1,44.4ZM303.8,39.9 305.8,39.3 304.9,38.7 302.9,39.1ZM305.8,39.3 307.7,38.9 306.8,38.4 304.9,38.7ZM255.1,49.4 257.0,49.2 256.2,48.4 254.2,48.8ZM269.0,48.0 270.9,47.8 270.0,47.1 268.1,47.4ZM286.8,45.0 288.8,44.6 287.9,43.5 285.9,44.2ZM302.7,41.8 304.7,40.9 303.8,39.9 301.8,40.6ZM308.6,39.2 310.6,38.9 309.7,38.9 307.7,38.9ZM318.6,39.8 320.5,39.8 319.6,39.2 317.7,39.8ZM279.8,48.9 281.8,47.9 280.9,46.7 278.9,47.3ZM313.5,39.3 315.5,39.1 314.6,39.5 312.6,39.1ZM337.3,38.3 339.3,37.3 338.4,35.9 336.4,37.0ZM355.2,33.4 357.2,32.8 356.3,31.7 354.3,32.6ZM278.7,50.1 280.7,49.7 279.8,48.9 277.8,49.3ZM265.7,52.6 267.7,51.7 266.8,50.4 264.8,51.1ZM283.5,49.2 285.5,48.9 284.6,47.8 282.7,48.5ZM305.2,51.1 307.2,51.3 306.3,52.0 304.3,51.6ZM307.2,51.3 309.1,51.7 308.3,52.2 306.3,52.0ZM288.2,53.6 290.2,53.0 289.3,52.3 287.3,52.7ZM306.1,51.1 308.1,50.9 307.2,51.3 305.2,51.1ZM318.0,48.1 320.0,47.8 319.1,46.5 317.1,47.6ZM359.6,40.7 361.6,39.9 360.7,38.8 358.7,39.8ZM287.1,55.6 289.1,54.7 288.2,53.6 286.2,54.3ZM314.9,49.8 316.9,49.2 316.0,48.2 314.0,49.0ZM338.7,45.8 340.7,44.9 339.8,44.2 337.8,44.8ZM276.1,59.4 278.1,58.5 277.2,57.8 275.2,58.2ZM311.8,52.6 313.8,51.7 312.9,50.7 310.9,51.4ZM316.7,51.9 318.7,50.9 317.8,49.7 315.8,50.7ZM353.3,46.5 355.3,45.7 354.4,45.4 352.4,45.9ZM270.9,65.4 272.9,64.7 272.0,63.8 270.0,64.3ZM272.9,64.7 274.8,64.1 274.0,63.4 272.0,63.8ZM302.6,61.4 304.6,60.3 303.7,58.9 301.7,59.9ZM271.8,67.0 273.8,66.0 272.9,64.7 270.9,65.4ZM273.8,66.0 275.7,65.1 274.8,64.1 272.9,64.7ZM329.3,54.2 331.3,53.1 330.4,53.0 328.4,53.2ZM364.8,47.7 366.8,47.6 365.9,47.6 363.9,47.9ZM307.1,66.8 309.1,65.6 308.2,62.7 306.2,64.8ZM342.8,57.2 344.8,56.2 343.9,55.8 341.9,56.3ZM272.3,75.9 274.3,74.6 273.4,73.5 271.4,74.2ZM302.0,69.2 304.0,69.5 303.1,69.0 301.1,69.6ZM304.0,69.5 306.0,69.1 305.1,68.1 303.1,69.0ZM306.0,69.1 308.0,68.3 307.1,66.8 305.1,68.1ZM293.0,73.2 295.0,72.2 294.1,70.8 292.1,71.9ZM342.6,60.4 344.6,59.4 343.7,58.0 341.7,59.2ZM358.5,56.8 360.5,55.5 359.6,54.6 357.6,55.6ZM284.0,77.7 286.0,77.2 285.1,76.8 283.1,77.1ZM290.0,76.1 291.9,75.5 291.0,74.2 289.1,75.3ZM315.7,69.7 317.7,69.2 316.8,68.6 314.8,69.3ZM319.7,68.5 321.7,67.8 320.8,66.8 318.8,67.7ZM357.4,59.8 359.4,58.4 358.5,56.8 356.5,58.1ZM302.8,75.5 304.7,75.4 303.8,74.8 301.9,75.6ZM304.7,75.4 306.7,74.9 305.8,73.7 303.8,74.8ZM308.7,73.8 310.7,72.5 309.8,70.8 307.8,72.2ZM318.6,69.9 320.6,69.2 319.7,68.5 317.7,69.2ZM320.6,69.2 322.6,68.4 321.7,67.8 319.7,68.5ZM322.6,68.4 324.6,67.7 323.7,67.1 321.7,67.8ZM324.6,67.7 326.5,67.1 325.7,66.5 323.7,67.1ZM358.3,60.7 360.3,59.9 359.4,58.4 357.4,59.8ZM273.9,84.5 275.9,83.7 275.0,82.4 273.0,83.5ZM329.4,66.7 331.4,66.4 330.5,66.1 328.5,66.6ZM343.3,63.4 345.3,62.6 344.4,62.2 342.4,62.7ZM355.2,62.3 357.2,61.8 356.3,61.6 354.3,62.0ZM272.8,86.1 274.8,85.5 273.9,84.5 271.9,85.3ZM320.4,74.2 322.4,72.1 321.5,70.4 319.5,71.6ZM372.0,58.3 373.9,57.2 373.1,56.6 371.1,57.3ZM291.6,83.2 293.5,82.1 292.6,80.9 290.7,81.8ZM325.3,71.7 327.3,70.4 326.4,68.6 324.4,70.1ZM280.6,87.2 282.5,86.2 281.6,85.6 279.7,86.0ZM296.4,81.8 298.4,81.4 297.5,80.5 295.5,81.2ZM318.2,77.3 320.2,76.9 319.3,77.0 317.3,77.2ZM375.7,58.4 377.7,56.8 376.8,54.2 374.8,56.5ZM279.5,89.3 281.5,88.2 280.6,87.2 278.6,87.9ZM321.1,77.5 323.1,76.8 322.2,76.0 320.2,76.9ZM323.1,76.8 325.1,76.1 324.2,74.8 322.2,76.0ZM365.6,65.5 367.6,64.8 366.7,64.5 364.7,65.1ZM373.6,62.4 375.5,61.9 374.6,61.6 372.7,62.2ZM330.8,75.7 332.8,75.3 331.9,75.1 329.9,75.6Z" fill="#0606a0" fill-opacity="0.42"/><path d="M249.7,38.1 251.7,37.7 250.8,37.2 248.8,37.5ZM301.3,34.5 303.3,33.8 302.4,32.7 300.4,33.6ZM284.3,38.6 286.3,38.2 285.4,37.7 283.4,38.1ZM284.1,41.2 286.1,40.5 285.2,39.3 283.2,40.1ZM279.1,45.1 281.1,44.4 280.2,43.5 278.2,44.2ZM350.5,33.7 352.5,33.3 351.6,33.1 349.6,33.6ZM263.0,48.9 265.0,48.7 264.1,48.4 262.1,48.6ZM267.0,48.4 269.0,48.0 268.1,47.4 266.1,47.9ZM276.9,47.7 278.9,47.3 278.0,47.1 276.0,47.3ZM306.7,39.9 308.6,39.2 307.7,38.9 305.8,39.3ZM316.6,39.8 318.6,39.8 317.7,39.8 315.7,40.0ZM336.4,37.0 338.4,35.9 337.5,35.6 335.5,36.1ZM350.3,34.5 352.3,33.7 351.4,33.4 349.4,34.0ZM281.8,47.9 283.7,47.0 282.8,46.0 280.9,46.7ZM315.5,39.1 317.5,39.1 316.6,39.8 314.6,39.5ZM317.5,39.1 319.5,39.4 318.6,39.8 316.6,39.8ZM351.2,35.2 353.2,34.4 352.3,33.7 350.3,34.5ZM332.1,41.2 334.0,41.5 333.1,41.7 331.2,41.9ZM358.7,39.8 360.7,38.8 359.8,38.7 357.9,39.1ZM308.1,50.9 310.0,50.8 309.1,51.7 307.2,51.3ZM316.0,48.2 318.0,48.1 317.1,47.6 315.1,48.3ZM310.9,51.4 312.9,50.7 312.0,50.2 310.0,50.8ZM340.7,44.9 342.7,44.1 341.8,43.6 339.8,44.2ZM280.1,57.6 282.1,57.4 281.2,57.1 279.2,57.4ZM315.8,50.7 317.8,49.7 316.9,49.2 314.9,49.8ZM361.4,41.6 363.4,41.2 362.5,41.0 360.5,41.6ZM314.7,53.0 316.7,51.9 315.8,50.7 313.8,51.7ZM360.3,41.1 362.3,41.4 361.4,41.6 359.4,42.1ZM304.6,60.3 306.6,59.2 305.7,57.9 303.7,58.9ZM307.5,60.1 309.5,59.3 308.6,58.3 306.6,59.2ZM269.6,71.4 271.6,70.8 270.7,70.6 268.7,70.9ZM273.6,70.3 275.6,69.9 274.7,68.6 272.7,69.8ZM301.3,68.5 303.3,66.7 302.4,65.7 300.4,66.5ZM299.2,69.9 301.1,69.6 300.3,69.5 298.3,69.9ZM358.7,53.8 360.6,52.5 359.8,51.9 357.8,52.8ZM292.1,71.9 294.1,70.8 293.2,70.2 291.2,70.7ZM341.7,59.2 343.7,58.0 342.8,57.2 340.8,58.1ZM285.1,76.8 287.1,76.2 286.2,75.4 284.2,76.1ZM286.0,77.2 288.0,76.7 287.1,76.2 285.1,76.8ZM288.0,76.7 290.0,76.1 289.1,75.3 287.1,76.2ZM309.8,70.8 311.8,70.1 310.9,69.9 308.9,70.5ZM317.7,69.2 319.7,68.5 318.8,67.7 316.8,68.6ZM300.8,75.6 302.8,75.5 301.9,75.6 299.9,75.9ZM306.7,74.9 308.7,73.8 307.8,72.2 305.8,73.7ZM356.3,61.6 358.3,60.7 357.4,59.8 355.4,60.9ZM271.9,85.3 273.9,84.5 273.0,83.5 271.0,84.4ZM321.5,70.4 323.5,69.1 322.6,68.4 320.6,69.2ZM327.4,67.2 329.4,66.7 328.5,66.6 326.5,67.1ZM357.2,61.8 359.2,61.2 358.3,60.7 356.3,61.6ZM324.2,74.8 326.2,73.7 325.3,71.7 323.3,73.5ZM365.8,65.6 367.8,63.9 366.9,63.5 364.9,64.2ZM371.8,61.1 373.8,59.9 372.9,58.6 370.9,60.1ZM280.4,90.7 282.4,89.5 281.5,88.2 279.5,89.3ZM367.6,64.8 369.6,63.9 368.7,63.7 366.7,64.5ZM369.6,63.9 371.6,63.1 370.7,62.9 368.7,63.7ZM371.6,63.1 373.6,62.4 372.7,62.2 370.7,62.9ZM324.9,79.1 326.9,77.8 326.0,77.1 324.0,77.9Z" fill="#0606a0" fill-opacity="0.57"/><path d="M247.7,38.9 249.7,38.1 248.8,37.5 246.8,37.9ZM280.3,40.1 282.3,39.3 281.4,38.8 279.4,39.3ZM283.2,40.1 285.2,39.3 284.3,38.6 282.3,39.3ZM293.1,38.0 295.1,37.4 294.2,36.8 292.3,37.4ZM283.0,43.4 285.0,42.5 284.1,41.2 282.1,42.3ZM352.5,33.3 354.5,32.6 353.6,32.3 351.6,33.1ZM254.2,48.8 256.2,48.4 255.3,47.2 253.3,48.2ZM349.4,34.0 351.4,33.4 350.5,33.7 348.5,33.9ZM253.1,49.7 255.1,49.4 254.2,48.8 252.2,49.4ZM265.0,48.7 267.0,48.4 266.1,47.9 264.1,48.4ZM284.8,45.5 286.8,45.0 285.9,44.2 283.9,45.0ZM304.7,40.9 306.7,39.9 305.8,39.3 303.8,39.9ZM340.4,34.9 342.4,34.5 341.5,34.7 339.5,35.1ZM353.2,34.4 355.2,33.4 354.3,32.6 352.3,33.7ZM282.7,48.5 284.6,47.8 283.7,47.0 281.8,47.9ZM279.6,50.4 281.6,49.9 280.7,49.7 278.7,50.1ZM326.1,43.2 328.1,42.1 327.2,42.4 325.2,42.4ZM278.1,58.5 280.1,57.6 279.2,57.4 277.2,57.8ZM313.8,51.7 315.8,50.7 314.9,49.8 312.9,50.7ZM355.5,44.3 357.5,43.1 356.6,42.8 354.6,43.5ZM359.4,42.1 361.4,41.6 360.5,41.6 358.6,42.2ZM332.4,52.5 334.4,51.4 333.5,50.6 331.5,51.5ZM356.2,47.0 358.2,45.6 357.3,44.1 355.3,45.7ZM303.5,62.6 305.5,61.4 304.6,60.3 302.6,61.4ZM308.4,60.5 310.4,59.8 309.5,59.3 307.5,60.1ZM294.1,70.8 296.1,69.8 295.2,69.9 293.2,70.2ZM300.1,69.0 302.0,69.2 301.1,69.6 299.2,69.9ZM343.7,58.0 345.7,56.8 344.8,56.2 342.8,57.2ZM287.1,76.2 289.1,75.3 288.2,74.3 286.2,75.4ZM289.1,75.3 291.0,74.2 290.1,73.1 288.2,74.3ZM291.0,74.2 293.0,73.2 292.1,71.9 290.1,73.1ZM360.5,55.5 362.4,54.3 361.5,53.2 359.6,54.6ZM323.5,69.1 325.5,67.9 324.6,67.7 322.6,68.4ZM325.5,67.9 327.4,67.2 326.5,67.1 324.6,67.7ZM326.4,68.6 328.3,67.6 327.4,67.2 325.5,67.9ZM366.0,63.0 368.0,61.1 367.1,59.7 365.1,61.3ZM368.0,61.1 370.0,59.4 369.1,58.2 367.1,59.7ZM373.9,57.2 375.9,56.0 375.0,55.6 373.1,56.6ZM319.3,77.0 321.3,75.6 320.4,74.2 318.4,75.6ZM282.5,86.2 284.5,85.3 283.6,85.4 281.6,85.6ZM294.4,82.4 296.4,81.8 295.5,81.2 293.5,82.1ZM373.8,59.9 375.7,58.4 374.8,56.5 372.9,58.6ZM283.2,91.4 285.2,89.8 284.3,87.3 282.4,89.5ZM328.9,76.5 330.8,75.7 329.9,75.6 328.0,76.2Z" fill="#0606a0" fill-opacity="0.71"/><path d="M297.3,36.2 299.3,35.3 298.4,34.6 296.4,35.3ZM299.3,35.3 301.3,34.5 300.4,33.6 298.4,34.6ZM282.3,39.3 284.3,38.6 283.4,38.1 281.4,38.8ZM292.3,37.4 294.2,36.8 293.3,37.2 291.4,37.2ZM294.2,36.8 296.2,35.5 295.3,36.9 293.3,37.2ZM296.2,35.5 298.2,34.3 297.3,36.2 295.3,36.9ZM298.2,34.3 300.2,34.1 299.3,35.3 297.3,36.2ZM300.2,34.1 302.2,34.6 301.3,34.5 299.3,35.3ZM281.2,41.3 283.2,40.1 282.3,39.3 280.3,40.1ZM295.1,37.4 297.1,36.3 296.2,35.5 294.2,36.8ZM297.1,36.3 299.1,35.5 298.2,34.3 296.2,35.5ZM280.2,43.5 282.1,42.3 281.2,41.3 279.3,42.5ZM282.1,42.3 284.1,41.2 283.2,40.1 281.2,41.3ZM281.1,44.4 283.0,43.4 282.1,42.3 280.2,43.5ZM252.2,49.4 254.2,48.8 253.3,48.2 251.3,49.1ZM351.4,33.4 353.4,32.7 352.5,33.3 350.5,33.7ZM353.4,32.7 355.4,32.1 354.5,32.6 352.5,33.3ZM278.9,47.3 280.9,46.7 280.0,46.6 278.0,47.1ZM280.9,46.7 282.8,46.0 281.9,45.9 280.0,46.6ZM282.8,46.0 284.8,45.5 283.9,45.0 281.9,45.9ZM338.4,35.9 340.4,34.9 339.5,35.1 337.5,35.6ZM352.3,33.7 354.3,32.6 353.4,32.7 351.4,33.4ZM354.3,32.6 356.3,31.7 355.4,32.1 353.4,32.7ZM280.7,49.7 282.7,48.5 281.8,47.9 279.8,48.9ZM281.6,49.9 283.5,49.2 282.7,48.5 280.7,49.7ZM328.1,42.1 330.1,41.3 329.2,42.1 327.2,42.4ZM330.1,41.3 332.1,41.2 331.2,41.9 329.2,42.1ZM309.1,51.7 311.1,51.3 310.2,51.7 308.3,52.2ZM311.1,51.3 313.1,49.6 312.2,50.2 310.2,51.7ZM313.1,49.6 315.1,48.3 314.2,48.8 312.2,50.2ZM315.1,48.3 317.1,47.6 316.2,47.4 314.2,48.8ZM317.1,47.6 319.1,46.5 318.2,45.6 316.2,47.4ZM319.1,46.5 321.1,45.2 320.2,44.1 318.2,45.6ZM310.0,50.8 312.0,50.2 311.1,51.3 309.1,51.7ZM312.0,50.2 314.0,49.0 313.1,49.6 311.1,51.3ZM314.0,49.0 316.0,48.2 315.1,48.3 313.1,49.6ZM312.9,50.7 314.9,49.8 314.0,49.0 312.0,50.2ZM357.5,43.1 359.4,42.1 358.6,42.2 356.6,42.8ZM354.4,45.4 356.4,44.2 355.5,44.3 353.5,44.9ZM356.4,44.2 358.4,42.3 357.5,43.1 355.5,44.3ZM358.4,42.3 360.3,41.1 359.4,42.1 357.5,43.1ZM355.3,45.7 357.3,44.1 356.4,44.2 354.4,45.4ZM357.3,44.1 359.2,41.9 358.4,42.3 356.4,44.2ZM359.2,41.9 361.2,40.6 360.3,41.1 358.4,42.3ZM334.4,51.4 336.3,50.2 335.4,49.7 333.5,50.6ZM358.2,45.6 360.1,43.9 359.2,41.9 357.3,44.1ZM305.5,61.4 307.5,60.1 306.6,59.2 304.6,60.3ZM331.3,53.1 333.3,52.0 332.4,52.5 330.4,53.0ZM333.3,52.0 335.3,51.0 334.4,51.4 332.4,52.5ZM335.3,51.0 337.2,50.6 336.3,50.2 334.4,51.4ZM304.4,64.4 306.4,62.3 305.5,61.4 303.5,62.6ZM306.4,62.3 308.4,60.5 307.5,60.1 305.5,61.4ZM271.6,70.8 273.6,70.3 272.7,69.8 270.7,70.6ZM303.3,66.7 305.3,64.3 304.4,64.4 302.4,65.7ZM305.3,64.3 307.3,61.7 306.4,62.3 304.4,64.4ZM307.3,61.7 309.3,59.9 308.4,60.5 306.4,62.3ZM309.3,59.9 311.3,59.8 310.4,59.8 308.4,60.5ZM360.8,50.2 362.8,48.8 361.9,48.6 359.9,49.4ZM362.8,48.8 364.8,47.7 363.9,47.9 361.9,48.6ZM298.3,69.9 300.3,69.5 299.4,69.7 297.4,70.3ZM300.3,69.5 302.2,68.5 301.3,68.5 299.4,69.7ZM302.2,68.5 304.2,66.9 303.3,66.7 301.3,68.5ZM304.2,66.9 306.2,64.8 305.3,64.3 303.3,66.7ZM306.2,64.8 308.2,62.7 307.3,61.7 305.3,64.3ZM308.2,62.7 310.2,61.5 309.3,59.9 307.3,61.7ZM359.8,51.9 361.7,50.4 360.8,50.2 358.9,51.1ZM361.7,50.4 363.7,48.3 362.8,48.8 360.8,50.2ZM363.7,48.3 365.7,47.0 364.8,47.7 362.8,48.8ZM301.1,69.6 303.1,69.0 302.2,68.5 300.3,69.5ZM303.1,69.0 305.1,68.1 304.2,66.9 302.2,68.5ZM305.1,68.1 307.1,66.8 306.2,64.8 304.2,66.9ZM360.6,52.5 362.6,50.3 361.7,50.4 359.8,51.9ZM362.6,50.3 364.6,47.9 363.7,48.3 361.7,50.4ZM364.6,47.9 366.6,47.4 365.7,47.0 363.7,48.3ZM296.1,69.8 298.1,69.2 297.2,69.9 295.2,69.9ZM298.1,69.2 300.1,69.0 299.2,69.9 297.2,69.9ZM359.6,54.6 361.5,53.2 360.6,52.5 358.7,53.8ZM361.5,53.2 363.5,51.0 362.6,50.3 360.6,52.5ZM363.5,51.0 365.5,49.0 364.6,47.9 362.6,50.3ZM362.4,54.3 364.4,52.8 363.5,51.0 361.5,53.2ZM305.8,73.7 307.8,72.2 306.9,71.8 304.9,72.4ZM307.8,72.2 309.8,70.8 308.9,70.5 306.9,71.8ZM322.4,72.1 324.4,70.1 323.5,69.1 321.5,70.4ZM324.4,70.1 326.4,68.6 325.5,67.9 323.5,69.1ZM321.3,75.6 323.3,73.5 322.4,72.1 320.4,74.2ZM323.3,73.5 325.3,71.7 324.4,70.1 322.4,72.1ZM366.9,63.5 368.9,61.7 368.0,61.1 366.0,63.0ZM368.9,61.7 370.9,60.1 370.0,59.4 368.0,61.1ZM370.9,60.1 372.9,58.6 372.0,58.3 370.0,59.4ZM372.9,58.6 374.8,56.5 373.9,57.2 372.0,58.3ZM374.8,56.5 376.8,54.2 375.9,56.0 373.9,57.2ZM284.5,85.3 286.5,84.7 285.6,85.2 283.6,85.4ZM286.5,84.7 288.5,84.4 287.6,84.8 285.6,85.2ZM288.5,84.4 290.5,83.9 289.6,84.1 287.6,84.8ZM290.5,83.9 292.5,83.2 291.6,83.2 289.6,84.1ZM292.5,83.2 294.4,82.4 293.5,82.1 291.6,83.2ZM320.2,76.9 322.2,76.0 321.3,75.6 319.3,77.0ZM322.2,76.0 324.2,74.8 323.3,73.5 321.3,75.6ZM367.8,63.9 369.8,62.2 368.9,61.7 366.9,63.5ZM369.8,62.2 371.8,61.1 370.9,60.1 368.9,61.7ZM281.5,88.2 283.4,86.5 282.5,86.2 280.6,87.2ZM283.4,86.5 285.4,84.8 284.5,85.3 282.5,86.2ZM285.4,84.8 287.4,84.4 286.5,84.7 284.5,85.3ZM364.7,65.1 366.7,64.5 365.8,65.6 363.8,66.0ZM366.7,64.5 368.7,63.7 367.8,63.9 365.8,65.6ZM368.7,63.7 370.7,62.9 369.8,62.2 367.8,63.9ZM282.4,89.5 284.3,87.3 283.4,86.5 281.5,88.2ZM284.3,87.3 286.3,85.3 285.4,84.8 283.4,86.5ZM326.9,77.8 328.9,76.5 328.0,76.2 326.0,77.1Z" fill="#0606a0" fill-opacity="0.85"/><path d="M263.6,38.5 265.6,38.5 264.7,37.0 262.7,37.0ZM273.5,37.5 275.5,37.9 274.6,36.5 272.6,36.4ZM287.4,37.5 289.4,37.3 288.5,35.3 286.5,35.8ZM309.2,32.0 311.2,31.5 310.3,29.1 308.3,29.8ZM321.1,31.3 323.1,31.2 322.2,29.8 320.2,29.8ZM323.1,31.2 325.1,31.0 324.2,29.8 322.2,29.8ZM337.0,29.8 339.0,29.7 338.1,28.4 336.1,28.6ZM339.0,29.7 341.0,29.6 340.1,28.3 338.1,28.4ZM341.0,29.6 343.0,29.6 342.1,28.1 340.1,28.3ZM343.0,29.6 344.9,29.4 344.0,27.9 342.1,28.1ZM344.9,29.4 346.9,29.0 346.0,27.7 344.0,27.9ZM348.9,28.7 350.9,28.5 350.0,27.2 348.0,27.4ZM258.5,40.2 260.5,40.2 259.6,38.6 257.6,38.6ZM260.5,40.2 262.5,40.1 261.6,38.5 259.6,38.6ZM278.4,40.6 280.3,40.1 279.4,39.3 277.5,38.7ZM310.1,34.0 312.1,33.7 311.2,31.5 309.2,32.0ZM320.0,32.9 322.0,32.7 321.1,31.3 319.1,31.3ZM322.0,32.7 324.0,32.5 323.1,31.2 321.1,31.3ZM337.9,30.9 339.9,30.8 339.0,29.7 337.0,29.8ZM339.9,30.8 341.9,30.8 341.0,29.6 339.0,29.7ZM341.9,30.8 343.9,30.7 343.0,29.6 341.0,29.6ZM259.4,42.1 261.4,41.9 260.5,40.2 258.5,40.2ZM261.4,41.9 263.4,41.8 262.5,40.1 260.5,40.2ZM269.3,44.1 271.3,43.1 270.4,39.8 268.4,40.9ZM313.0,35.2 315.0,35.0 314.1,33.4 312.1,33.7ZM315.0,35.0 317.0,34.7 316.1,33.2 314.1,33.4ZM317.0,34.7 318.9,34.5 318.1,33.0 316.1,33.2ZM254.4,45.4 256.3,44.7 255.4,42.5 253.5,42.8ZM256.3,44.7 258.3,44.2 257.4,42.3 255.4,42.5ZM258.3,44.2 260.3,43.8 259.4,42.1 257.4,42.3ZM262.3,43.5 264.3,43.4 263.4,41.8 261.4,41.9ZM272.2,44.7 274.2,44.6 273.3,42.6 271.3,43.1ZM276.2,44.5 278.2,44.2 277.3,42.9 275.3,42.7ZM341.7,33.0 343.7,33.0 342.8,31.7 340.8,31.8ZM351.6,33.1 353.6,32.3 352.7,30.6 350.7,30.9ZM259.2,46.1 261.2,45.8 260.3,43.8 258.3,44.2ZM261.2,45.8 263.2,45.5 262.3,43.5 260.3,43.8ZM263.2,45.5 265.2,45.3 264.3,43.4 262.3,43.5ZM269.1,45.3 271.1,45.5 270.2,44.6 268.2,44.2ZM310.8,38.3 312.8,38.4 311.9,36.8 309.9,37.0ZM314.8,38.3 316.8,38.0 315.9,36.3 313.9,36.6ZM316.8,38.0 318.8,37.6 317.9,36.0 315.9,36.3ZM344.5,33.9 346.5,33.9 345.6,33.3 343.7,33.0ZM276.0,47.3 278.0,47.1 277.1,45.4 275.1,45.6ZM309.7,38.9 311.7,39.3 310.8,38.3 308.8,38.3ZM315.7,40.0 317.7,39.8 316.8,38.0 314.8,38.3ZM273.8,48.7 275.8,48.9 274.9,47.7 272.9,47.6ZM331.4,39.3 333.3,39.2 332.4,38.0 330.5,38.1ZM256.9,52.1 258.8,51.9 257.9,50.2 256.0,50.4ZM258.8,51.9 260.8,51.8 259.9,50.1 257.9,50.2ZM260.8,51.8 262.8,51.6 261.9,49.9 259.9,50.1ZM276.7,49.8 278.7,50.1 277.8,49.3 275.8,48.9ZM304.5,45.2 306.5,44.8 305.6,42.6 303.6,43.3ZM306.5,44.8 308.4,44.2 307.5,41.6 305.6,42.6ZM312.4,42.6 314.4,41.6 313.5,39.3 311.5,39.8ZM318.4,40.1 320.3,40.2 319.5,39.4 317.5,39.1ZM324.3,41.3 326.3,41.6 325.4,40.5 323.4,40.4ZM332.3,40.7 334.2,40.4 333.3,39.2 331.4,39.3ZM340.2,39.3 342.2,38.9 341.3,36.4 339.3,37.3ZM348.1,37.6 350.1,37.1 349.2,35.8 347.2,36.0ZM255.8,54.2 257.8,54.0 256.9,52.1 254.9,52.3ZM257.8,54.0 259.7,53.7 258.8,51.9 256.9,52.1ZM259.7,53.7 261.7,53.5 260.8,51.8 258.8,51.9ZM287.5,48.8 289.5,48.8 288.6,47.4 286.6,47.5ZM289.5,48.8 291.5,48.6 290.6,47.3 288.6,47.4ZM295.5,48.2 297.4,48.0 296.5,46.4 294.6,46.7ZM297.4,48.0 299.4,47.9 298.5,46.1 296.5,46.4ZM313.3,45.8 315.3,44.3 314.4,41.6 312.4,42.6ZM319.3,41.3 321.2,41.2 320.3,40.2 318.4,40.1ZM325.2,42.4 327.2,42.4 326.3,41.6 324.3,41.3ZM339.1,41.1 341.1,40.8 340.2,39.3 338.2,39.8ZM341.1,40.8 343.1,40.6 342.2,38.9 340.2,39.3ZM343.1,40.6 345.1,40.2 344.2,38.4 342.2,38.9ZM345.1,40.2 347.0,39.8 346.1,38.0 344.2,38.4ZM347.0,39.8 349.0,39.3 348.1,37.6 346.1,38.0ZM349.0,39.3 351.0,38.8 350.1,37.1 348.1,37.6ZM351.0,38.8 353.0,38.3 352.1,36.5 350.1,37.1ZM272.5,53.7 274.5,53.3 273.6,51.6 271.6,51.9ZM276.5,52.9 278.5,52.5 277.6,50.6 275.6,51.0ZM278.5,52.5 280.5,52.2 279.6,50.4 277.6,50.6ZM280.5,52.2 282.5,51.8 281.6,49.9 279.6,50.4ZM282.5,51.8 284.4,51.4 283.5,49.2 281.6,49.9ZM290.4,50.5 292.4,50.2 291.5,48.6 289.5,48.8ZM292.4,50.2 294.4,50.0 293.5,48.4 291.5,48.6ZM294.4,50.0 296.3,49.8 295.5,48.2 293.5,48.4ZM312.2,50.2 314.2,48.8 313.3,45.8 311.3,46.9ZM351.9,40.2 353.9,39.8 353.0,38.3 351.0,38.8ZM353.9,39.8 355.9,39.5 355.0,37.9 353.0,38.3ZM355.9,39.5 357.9,39.1 357.0,37.5 355.0,37.9ZM357.9,39.1 359.8,38.7 358.9,37.2 357.0,37.5ZM269.5,55.5 271.5,55.4 270.6,53.9 268.6,54.1ZM299.2,50.9 301.2,50.9 300.3,50.3 298.3,49.9ZM329.0,43.7 331.0,43.3 330.1,41.3 328.1,42.1ZM338.9,43.3 340.9,43.1 340.0,42.0 338.0,42.0ZM266.4,57.0 268.4,57.0 267.5,55.6 265.5,55.7ZM268.4,57.0 270.4,56.9 269.5,55.5 267.5,55.6ZM270.4,56.9 272.3,56.8 271.5,55.4 269.5,55.5ZM321.9,47.3 323.9,46.8 323.0,44.5 321.1,45.2ZM263.3,59.4 265.3,59.0 264.4,57.1 262.4,57.4ZM271.3,58.6 273.2,58.5 272.3,56.8 270.4,56.9ZM273.2,58.5 275.2,58.2 274.3,56.6 272.3,56.8ZM293.1,54.0 295.1,54.2 294.2,52.9 292.2,52.9ZM295.1,54.2 297.1,54.1 296.2,52.7 294.2,52.9ZM318.9,49.2 320.9,49.3 320.0,47.8 318.0,48.1ZM328.8,47.9 330.8,47.4 329.9,46.0 327.9,46.2ZM330.8,47.4 332.8,47.1 331.9,45.8 329.9,46.0ZM332.8,47.1 334.7,46.8 333.8,45.6 331.9,45.8ZM346.6,43.8 348.6,44.0 347.7,43.0 345.8,43.1ZM348.6,44.0 350.6,44.0 349.7,42.8 347.7,43.0ZM350.6,44.0 352.6,43.8 351.7,42.6 349.7,42.8ZM260.3,62.6 262.2,62.1 261.3,59.9 259.4,60.6ZM262.2,62.1 264.2,61.7 263.3,59.4 261.3,59.9ZM272.2,60.4 274.1,60.0 273.2,58.5 271.3,58.6ZM297.9,56.0 299.9,55.6 299.0,53.8 297.1,54.1ZM343.6,45.8 345.6,45.4 344.7,43.7 342.7,44.1ZM351.5,45.1 353.5,44.9 352.6,43.8 350.6,44.0ZM263.1,64.1 265.1,63.6 264.2,61.7 262.2,62.1ZM265.1,63.6 267.1,63.2 266.2,61.3 264.2,61.7ZM267.1,63.2 269.1,62.8 268.2,61.0 266.2,61.3ZM269.1,62.8 271.1,62.5 270.2,60.7 268.2,61.0ZM271.1,62.5 273.1,62.1 272.2,60.4 270.2,60.7ZM300.8,57.7 302.8,57.0 301.9,55.1 299.9,55.6ZM320.7,50.3 322.6,50.3 321.8,49.5 319.8,49.4ZM322.6,50.3 324.6,50.6 323.7,49.8 321.8,49.5ZM346.5,46.7 348.4,46.4 347.5,45.3 345.6,45.4ZM348.4,46.4 350.4,46.1 349.5,45.2 347.5,45.3ZM277.9,62.9 279.9,62.7 279.0,60.4 277.0,61.1ZM299.7,60.8 301.7,59.9 300.8,57.7 298.8,58.4ZM327.5,52.0 329.5,51.9 328.6,50.3 326.6,50.6ZM329.5,51.9 331.5,51.5 330.6,49.7 328.6,50.3ZM337.4,49.4 339.4,49.3 338.5,48.4 336.5,48.5ZM278.8,64.0 280.8,64.2 279.9,62.7 277.9,62.9ZM290.7,63.5 292.7,63.2 291.8,62.5 289.8,62.2ZM318.5,55.7 320.5,55.1 319.6,53.0 317.6,53.8ZM326.4,53.6 328.4,53.2 327.5,52.0 325.5,52.1ZM328.4,53.2 330.4,53.0 329.5,51.9 327.5,52.0ZM338.3,49.9 340.3,50.2 339.4,49.3 337.4,49.4ZM340.3,50.2 342.3,50.3 341.4,49.2 339.4,49.3ZM342.3,50.3 344.3,50.2 343.4,48.8 341.4,49.2ZM344.3,50.2 346.3,49.8 345.4,48.2 343.4,48.8ZM346.3,49.8 348.2,49.3 347.3,47.7 345.4,48.2ZM348.2,49.3 350.2,48.9 349.3,47.3 347.3,47.7ZM350.2,48.9 352.2,48.4 351.3,47.0 349.3,47.3ZM277.7,64.8 279.7,65.0 278.8,64.0 276.8,63.9ZM285.7,66.0 287.6,65.8 286.8,64.3 284.8,64.5ZM321.4,56.8 323.4,56.3 322.5,54.6 320.5,55.1ZM323.4,56.3 325.3,55.7 324.4,54.1 322.5,54.6ZM337.2,50.6 339.2,51.1 338.3,49.9 336.3,50.2ZM347.2,51.5 349.1,51.1 348.2,49.3 346.3,49.8ZM349.1,51.1 351.1,50.5 350.2,48.9 348.2,49.3ZM351.1,50.5 353.1,49.9 352.2,48.4 350.2,48.9ZM270.7,70.6 272.7,69.8 271.8,67.0 269.8,68.0ZM276.6,67.4 278.6,66.8 277.7,64.8 275.7,65.1ZM282.6,66.7 284.6,66.7 283.7,65.8 281.7,65.4ZM348.0,53.3 350.0,52.6 349.1,51.1 347.2,51.5ZM361.9,48.6 363.9,47.9 363.0,46.2 361.0,46.9ZM277.5,69.5 279.5,69.1 278.6,66.8 276.6,67.4ZM283.5,68.3 285.5,67.9 284.6,66.7 282.6,66.7ZM299.4,69.7 301.3,68.5 300.4,66.5 298.5,67.0ZM311.3,59.8 313.2,60.5 312.3,59.8 310.4,59.8ZM313.2,60.5 315.2,60.9 314.3,59.8 312.3,59.8ZM315.2,60.9 317.2,60.8 316.3,59.5 314.3,59.8ZM274.5,71.7 276.5,71.7 275.6,69.9 273.6,70.3ZM286.4,69.9 288.4,69.4 287.5,67.7 285.5,67.9ZM288.4,69.4 290.3,69.0 289.4,67.7 287.5,67.7ZM290.3,69.0 292.3,68.9 291.4,68.1 289.4,67.7ZM294.3,69.2 296.3,69.7 295.4,70.0 293.4,69.0ZM316.1,62.4 318.1,62.2 317.2,60.8 315.2,60.9ZM336.0,57.9 337.9,57.4 337.0,55.5 335.1,56.1ZM339.9,56.9 341.9,56.3 341.0,55.0 339.0,55.1ZM273.4,73.5 275.4,73.3 274.5,71.7 272.5,72.0ZM287.3,72.2 289.2,71.4 288.4,69.4 286.4,69.9ZM289.2,71.4 291.2,70.7 290.3,69.0 288.4,69.4ZM291.2,70.7 293.2,70.2 292.3,68.9 290.3,69.0ZM293.2,70.2 295.2,69.9 294.3,69.2 292.3,68.9ZM317.0,63.9 319.0,63.6 318.1,62.2 316.1,62.4ZM348.7,55.9 350.7,55.9 349.8,54.7 347.9,55.1ZM317.9,65.7 319.9,65.1 319.0,63.6 317.0,63.9ZM316.8,68.6 318.8,67.7 317.9,65.7 315.9,66.2ZM345.5,61.0 347.5,60.4 346.6,58.4 344.6,59.4ZM360.3,59.9 362.2,59.4 361.3,57.2 359.4,58.4ZM351.2,62.5 353.2,62.5 352.3,62.0 350.3,61.8ZM290.7,81.8 292.6,80.9 291.7,78.9 289.8,79.5ZM312.5,76.0 314.5,76.1 313.6,74.3 311.6,75.0ZM318.4,75.6 320.4,74.2 319.5,71.6 317.5,72.7ZM336.3,66.9 338.3,66.5 337.4,65.2 335.4,65.7ZM338.3,66.5 340.2,66.1 339.3,64.7 337.4,65.2ZM352.1,63.5 354.1,63.3 353.2,62.5 351.2,62.5ZM279.7,86.0 281.6,85.6 280.7,84.1 278.8,84.5ZM281.6,85.6 283.6,85.4 282.7,83.9 280.7,84.1ZM283.6,85.4 285.6,85.2 284.7,83.6 282.7,83.9ZM285.6,85.2 287.6,84.8 286.7,83.2 284.7,83.6ZM313.4,76.7 315.4,76.9 314.5,76.1 312.5,76.0ZM343.1,67.5 345.1,66.7 344.2,64.5 342.2,65.4ZM355.0,64.8 357.0,64.2 356.1,63.0 354.1,63.3ZM304.4,80.4 306.3,80.1 305.4,78.4 303.5,79.0ZM306.3,80.1 308.3,79.7 307.4,77.9 305.4,78.4ZM308.3,79.7 310.3,79.2 309.4,77.4 307.4,77.9ZM310.3,79.2 312.3,78.6 311.4,77.0 309.4,77.4ZM312.3,78.6 314.3,78.0 313.4,76.7 311.4,77.0ZM314.3,78.0 316.2,77.6 315.4,76.9 313.4,76.7ZM353.9,67.0 355.9,66.2 355.0,64.8 353.0,65.3ZM357.9,65.4 359.9,64.9 359.0,63.6 357.0,64.2ZM299.3,82.8 301.3,82.5 300.4,81.0 298.4,81.4ZM301.3,82.5 303.3,82.3 302.4,80.7 300.4,81.0ZM311.2,81.3 313.2,80.5 312.3,78.6 310.3,79.2ZM329.0,74.7 331.0,74.1 330.1,72.2 328.1,72.9ZM337.0,72.6 339.0,72.1 338.1,70.7 336.1,71.0ZM339.0,72.1 340.9,71.7 340.0,70.4 338.1,70.7ZM340.9,71.7 342.9,71.2 342.0,70.1 340.0,70.4ZM374.6,61.6 376.6,60.9 375.7,58.4 373.8,59.9ZM308.1,83.4 310.1,83.0 309.2,81.7 307.2,82.0ZM337.9,73.8 339.9,73.6 339.0,72.1 337.0,72.6ZM343.8,72.9 345.8,72.2 344.9,70.8 342.9,71.2ZM277.3,92.2 279.3,92.4 278.4,91.1 276.4,91.2ZM279.3,92.4 281.3,92.2 280.4,90.7 278.4,91.1ZM307.0,85.5 309.0,84.9 308.1,83.4 306.1,83.8ZM338.8,74.6 340.7,74.7 339.9,73.6 337.9,73.8ZM342.7,74.7 344.7,74.3 343.8,72.9 341.8,73.3ZM378.4,62.3 380.4,62.0 379.5,61.1 377.5,61.5Z" fill="#3454ff" fill-opacity="0.11"/><path d="M289.4,37.3 291.4,37.2 290.5,35.1 288.5,35.3ZM293.3,37.2 295.3,36.9 294.4,35.5 292.4,35.2ZM318.1,33.0 320.0,32.9 319.1,31.3 317.2,31.2ZM249.5,43.7 251.5,43.3 250.6,40.2 248.6,40.9ZM303.1,35.9 305.1,36.1 304.2,34.8 302.2,34.6ZM252.4,46.2 254.4,45.4 253.5,42.8 251.5,43.3ZM274.2,44.6 276.2,44.5 275.3,42.7 273.3,42.6ZM298.0,38.6 300.0,38.2 299.1,35.5 297.1,36.3ZM304.0,37.7 306.0,37.5 305.1,36.1 303.1,35.9ZM265.2,45.3 267.2,45.2 266.3,43.6 264.3,43.4ZM312.8,38.4 314.8,38.3 313.9,36.6 311.9,36.8ZM258.1,48.3 260.1,48.5 259.2,46.1 257.2,46.5ZM266.1,47.9 268.1,47.4 267.2,45.2 265.2,45.3ZM268.1,47.4 270.0,47.1 269.1,45.3 267.2,45.2ZM270.0,47.1 272.0,47.1 271.1,45.5 269.1,45.3ZM272.0,47.1 274.0,47.2 273.1,45.6 271.1,45.5ZM274.0,47.2 276.0,47.3 275.1,45.6 273.1,45.6ZM311.7,39.3 313.7,39.8 312.8,38.4 310.8,38.3ZM275.8,48.9 277.8,49.3 276.9,47.7 274.9,47.7ZM345.2,35.9 347.2,36.0 346.3,35.0 344.4,34.7ZM308.4,44.2 310.4,43.5 309.5,40.6 307.5,41.6ZM310.4,43.5 312.4,42.6 311.5,39.8 309.5,40.6ZM356.1,35.4 358.0,35.0 357.2,32.8 355.2,33.4ZM269.7,51.5 271.6,51.9 270.7,50.4 268.8,50.2ZM299.4,47.9 301.4,47.9 300.5,45.8 298.5,46.1ZM353.0,38.3 355.0,37.9 354.1,35.9 352.1,36.5ZM284.4,51.4 286.4,51.1 285.5,48.9 283.5,49.2ZM288.4,50.8 290.4,50.5 289.5,48.8 287.5,48.8ZM324.1,43.6 326.1,43.2 325.2,42.4 323.2,41.9ZM335.8,45.3 337.8,44.8 336.9,43.4 334.9,43.4ZM265.3,59.0 267.3,58.8 266.4,57.0 264.4,57.1ZM267.3,58.8 269.3,58.7 268.4,57.0 266.4,57.0ZM269.3,58.7 271.3,58.6 270.4,56.9 268.4,57.0ZM320.9,49.3 322.8,49.3 321.9,47.3 320.0,47.8ZM322.8,49.3 324.8,48.9 323.9,46.8 321.9,47.3ZM324.8,48.9 326.8,48.4 325.9,46.4 323.9,46.8ZM326.8,48.4 328.8,47.9 327.9,46.2 325.9,46.4ZM264.2,61.7 266.2,61.3 265.3,59.0 263.3,59.4ZM268.2,61.0 270.2,60.7 269.3,58.7 267.3,58.8ZM270.2,60.7 272.2,60.4 271.3,58.6 269.3,58.7ZM349.5,45.2 351.5,45.1 350.6,44.0 348.6,44.0ZM298.8,58.4 300.8,57.7 299.9,55.6 297.9,56.0ZM319.6,53.0 321.6,52.5 320.7,50.3 318.7,50.9ZM325.5,52.1 327.5,52.0 326.6,50.6 324.6,50.6ZM286.8,64.3 288.7,63.9 287.8,62.0 285.9,62.2ZM288.7,63.9 290.7,63.5 289.8,62.2 287.8,62.0ZM320.5,55.1 322.5,54.6 321.6,52.5 319.6,53.0ZM324.4,54.1 326.4,53.6 325.5,52.1 323.5,52.2ZM279.7,65.0 281.7,65.4 280.8,64.2 278.8,64.0ZM283.7,65.8 285.7,66.0 284.8,64.5 282.8,64.5ZM345.2,51.8 347.2,51.5 346.3,49.8 344.3,50.2ZM266.7,71.0 268.7,70.9 267.8,68.7 265.8,69.2ZM268.7,70.9 270.7,70.6 269.8,68.0 267.8,68.7ZM346.1,53.8 348.0,53.3 347.2,51.5 345.2,51.8ZM281.5,68.7 283.5,68.3 282.6,66.7 280.6,66.6ZM289.4,67.7 291.4,68.1 290.5,66.7 288.5,66.7ZM335.1,56.1 337.0,55.5 336.1,52.9 334.2,53.8ZM343.0,55.0 345.0,54.8 344.1,54.0 342.1,53.8ZM276.5,71.7 278.4,71.6 277.5,69.5 275.6,69.9ZM278.4,71.6 280.4,71.3 279.5,69.1 277.5,69.5ZM280.4,71.3 282.4,70.9 281.5,68.7 279.5,69.1ZM282.4,70.9 284.4,70.4 283.5,68.3 281.5,68.7ZM284.4,70.4 286.4,69.9 285.5,67.9 283.5,68.3ZM292.3,68.9 294.3,69.2 293.4,69.0 291.4,68.1ZM337.9,57.4 339.9,56.9 339.0,55.1 337.0,55.5ZM285.3,73.0 287.3,72.2 286.4,69.9 284.4,70.4ZM309.1,65.6 311.1,64.6 310.2,61.5 308.2,62.7ZM276.3,74.0 278.2,74.6 277.3,73.6 275.4,73.3ZM284.2,76.1 286.2,75.4 285.3,73.0 283.3,73.6ZM310.0,67.7 312.0,67.1 311.1,64.6 309.1,65.6ZM315.9,66.2 317.9,65.7 317.0,63.9 315.0,64.2ZM351.6,57.5 353.6,57.1 352.7,55.5 350.7,55.9ZM281.1,77.1 283.1,77.1 282.2,76.3 280.2,75.7ZM299.0,70.8 301.0,70.7 300.1,69.0 298.1,69.2ZM308.9,70.5 310.9,69.9 310.0,67.7 308.0,68.3ZM276.1,79.7 278.1,79.1 277.2,76.7 275.2,77.3ZM280.0,78.6 282.0,78.1 281.1,77.1 279.1,76.7ZM353.4,61.4 355.4,60.9 354.5,59.2 352.5,59.6ZM371.3,54.3 373.2,53.9 372.4,53.3 370.4,52.9ZM352.3,62.0 354.3,62.0 353.4,61.4 351.4,61.1ZM364.2,58.8 366.2,57.7 365.3,55.2 363.3,56.2ZM366.2,57.7 368.2,56.7 367.3,54.4 365.3,55.2ZM311.6,75.0 313.6,74.3 312.7,71.5 310.7,72.5ZM349.3,62.3 351.2,62.5 350.3,61.8 348.4,61.6ZM280.7,84.1 282.7,83.9 281.8,81.7 279.8,82.3ZM288.7,82.6 290.7,81.8 289.8,79.5 287.8,80.0ZM360.1,62.0 362.0,62.2 361.2,61.1 359.2,61.2ZM315.4,76.9 317.3,77.2 316.4,76.1 314.5,76.1ZM341.1,68.1 343.1,67.5 342.2,65.4 340.2,66.1ZM345.1,66.7 347.1,65.9 346.2,63.7 344.2,64.5ZM359.0,63.6 361.0,63.5 360.1,62.0 358.1,62.5ZM303.3,82.3 305.2,82.1 304.4,80.4 302.4,80.7ZM309.2,81.7 311.2,81.3 310.3,79.2 308.3,79.7ZM331.0,74.1 333.0,73.6 332.1,71.7 330.1,72.2ZM333.0,73.6 335.0,73.1 334.1,71.3 332.1,71.7ZM335.0,73.1 337.0,72.6 336.1,71.0 334.1,71.3ZM292.3,86.7 294.2,86.4 293.4,84.3 291.4,84.8ZM294.2,86.4 296.2,85.8 295.3,83.7 293.4,84.3ZM296.2,85.8 298.2,85.3 297.3,83.1 295.3,83.7ZM304.2,84.1 306.1,83.8 305.2,82.1 303.3,82.3ZM306.1,83.8 308.1,83.4 307.2,82.0 305.2,82.1ZM339.9,73.6 341.8,73.3 340.9,71.7 339.0,72.1ZM341.8,73.3 343.8,72.9 342.9,71.2 340.9,71.7ZM295.1,88.4 297.1,87.9 296.2,85.8 294.2,86.4ZM297.1,87.9 299.1,87.4 298.2,85.3 296.2,85.8ZM299.1,87.4 301.1,86.9 300.2,84.9 298.2,85.3ZM303.1,86.5 305.1,86.0 304.2,84.1 302.2,84.5ZM305.1,86.0 307.0,85.5 306.1,83.8 304.2,84.1ZM340.7,74.7 342.7,74.7 341.8,73.3 339.9,73.6Z" fill="#3454ff" fill-opacity="0.23"/><path d="M319.1,31.3 321.1,31.3 320.2,29.8 318.2,29.5ZM252.6,39.8 254.5,39.8 253.7,37.9 251.7,37.7ZM256.5,40.0 258.5,40.2 257.6,38.6 255.6,38.3ZM262.5,40.1 264.5,40.5 263.6,38.5 261.6,38.5ZM312.1,33.7 314.1,33.4 313.2,31.3 311.2,31.5ZM314.1,33.4 316.1,33.2 315.2,31.2 313.2,31.3ZM316.1,33.2 318.1,33.0 317.2,31.2 315.2,31.2ZM257.4,42.3 259.4,42.1 258.5,40.2 256.5,40.0ZM277.3,42.9 279.3,42.5 278.4,40.6 276.4,40.4ZM250.4,46.9 252.4,46.2 251.5,43.3 249.5,43.7ZM264.3,43.4 266.3,43.6 265.4,42.5 263.4,41.8ZM343.7,33.0 345.6,33.3 344.7,31.6 342.8,31.7ZM349.6,33.6 351.6,33.1 350.7,30.9 348.7,31.2ZM267.2,45.2 269.1,45.3 268.2,44.2 266.3,43.6ZM313.7,39.8 315.7,40.0 314.8,38.3 312.8,38.4ZM343.3,35.9 345.2,35.9 344.4,34.7 342.4,34.5ZM320.3,40.2 322.3,40.7 321.4,39.9 319.5,39.4ZM322.3,40.7 324.3,41.3 323.4,40.4 321.4,39.9ZM346.1,38.0 348.1,37.6 347.2,36.0 345.2,35.9ZM355.0,37.9 357.0,37.5 356.1,35.4 354.1,35.9ZM268.6,54.1 270.6,53.9 269.7,51.5 267.7,51.7ZM286.4,51.1 288.4,50.8 287.5,48.8 285.5,48.9ZM296.3,49.8 298.3,49.9 297.4,48.0 295.5,48.2ZM310.2,51.7 312.2,50.2 311.3,46.9 309.3,47.7ZM336.9,43.4 338.9,43.3 338.0,42.0 336.0,41.8ZM325.9,46.4 327.9,46.2 327.0,44.2 325.0,44.4ZM327.9,46.2 329.9,46.0 329.0,43.7 327.0,44.2ZM266.2,61.3 268.2,61.0 267.3,58.8 265.3,59.0ZM290.0,57.0 292.0,56.6 291.1,54.0 289.1,54.7ZM296.0,56.3 297.9,56.0 297.1,54.1 295.1,54.2ZM345.6,45.4 347.5,45.3 346.6,43.8 344.7,43.7ZM347.5,45.3 349.5,45.2 348.6,44.0 346.6,43.8ZM281.0,59.8 283.0,59.5 282.1,57.4 280.1,57.6ZM286.9,59.6 288.9,59.6 288.0,57.4 286.0,57.7ZM297.8,61.5 299.7,60.8 298.8,58.4 296.9,58.8ZM363.2,41.3 365.2,42.3 364.3,41.8 362.3,41.4ZM280.8,64.2 282.8,64.5 281.9,62.6 279.9,62.7ZM284.8,64.5 286.8,64.3 285.9,62.2 283.9,62.4ZM322.5,54.6 324.4,54.1 323.5,52.2 321.6,52.5ZM281.7,65.4 283.7,65.8 282.8,64.5 280.8,64.2ZM343.2,51.9 345.2,51.8 344.3,50.2 342.3,50.3ZM278.6,66.8 280.6,66.6 279.7,65.0 277.7,64.8ZM280.6,66.6 282.6,66.7 281.7,65.4 279.7,65.0ZM290.5,66.7 292.5,67.1 291.6,64.7 289.6,65.3ZM363.9,47.9 365.9,47.6 365.0,46.1 363.0,46.2ZM365.9,47.6 367.9,47.5 367.0,46.1 365.0,46.1ZM279.5,69.1 281.5,68.7 280.6,66.6 278.6,66.8ZM310.2,61.5 312.2,61.5 311.3,59.8 309.3,59.9ZM283.3,73.6 285.3,73.0 284.4,70.4 282.4,70.9ZM365.5,49.0 367.5,49.3 366.6,47.4 364.6,47.9ZM275.2,77.3 277.2,76.7 276.3,74.0 274.3,74.6ZM314.8,69.3 316.8,68.6 315.9,66.2 313.9,66.7ZM278.1,79.1 280.0,78.6 279.1,76.7 277.2,76.7ZM365.3,55.2 367.3,54.4 366.4,51.6 364.4,52.8ZM348.4,61.6 350.3,61.8 349.4,60.5 347.5,60.4ZM362.2,59.4 364.2,58.8 363.3,56.2 361.3,57.2ZM370.2,56.0 372.2,55.4 371.3,54.3 369.3,54.2ZM315.5,73.5 317.5,72.7 316.6,70.5 314.6,70.9ZM282.7,83.9 284.7,83.6 283.8,81.1 281.8,81.7ZM286.7,83.2 288.7,82.6 287.8,80.0 285.8,80.6ZM348.2,63.4 350.2,63.4 349.3,62.3 347.3,62.2ZM350.2,63.4 352.1,63.5 351.2,62.5 349.3,62.3ZM329.2,69.6 331.2,69.2 330.3,67.2 328.3,67.6ZM339.1,68.5 341.1,68.1 340.2,66.1 338.3,66.5ZM353.0,65.3 355.0,64.8 354.1,63.3 352.1,63.5ZM328.1,72.9 330.1,72.2 329.2,69.6 327.3,70.4ZM340.0,70.4 342.0,70.1 341.1,68.1 339.1,68.5ZM342.0,70.1 344.0,69.7 343.1,67.5 341.1,68.1ZM351.9,67.7 353.9,67.0 353.0,65.3 351.0,65.5ZM305.2,82.1 307.2,82.0 306.3,80.1 304.4,80.4ZM307.2,82.0 309.2,81.7 308.3,79.7 306.3,80.1ZM298.2,85.3 300.2,84.9 299.3,82.8 297.3,83.1ZM300.2,84.9 302.2,84.5 301.3,82.5 299.3,82.8ZM302.2,84.5 304.2,84.1 303.3,82.3 301.3,82.5ZM293.2,88.8 295.1,88.4 294.2,86.4 292.3,86.7ZM301.1,86.9 303.1,86.5 302.2,84.5 300.2,84.9Z" fill="#3454ff" fill-opacity="0.34"/><path d="M291.4,37.2 293.3,37.2 292.4,35.2 290.5,35.1ZM311.2,31.5 313.2,31.3 312.3,28.8 310.3,29.1ZM254.5,39.8 256.5,40.0 255.6,38.3 253.7,37.9ZM266.5,41.2 268.4,40.9 267.5,38.3 265.6,38.5ZM272.4,39.4 274.4,39.8 273.5,37.5 271.5,37.5ZM251.5,43.3 253.5,42.8 252.6,39.8 250.6,40.2ZM301.1,35.5 303.1,35.9 302.2,34.6 300.2,34.1ZM266.3,43.6 268.2,44.2 267.4,43.9 265.4,42.5ZM345.6,33.3 347.6,33.6 346.7,31.5 344.7,31.6ZM264.1,48.4 266.1,47.9 265.2,45.3 263.2,45.5ZM342.2,38.9 344.2,38.4 343.3,35.9 341.3,36.4ZM301.4,47.9 303.4,47.9 302.5,45.5 300.5,45.8ZM311.3,46.9 313.3,45.8 312.4,42.6 310.4,43.5ZM321.2,41.2 323.2,41.9 322.3,40.7 320.3,40.2ZM323.2,41.9 325.2,42.4 324.3,41.3 322.3,40.7ZM357.0,37.5 358.9,37.2 358.0,35.0 356.1,35.4ZM270.6,53.9 272.5,53.7 271.6,51.9 269.7,51.5ZM323.9,46.8 325.9,46.4 325.0,44.4 323.0,44.5ZM329.9,46.0 331.9,45.8 331.0,43.3 329.0,43.7ZM333.8,45.6 335.8,45.3 334.9,43.4 333.0,43.3ZM285.0,59.6 286.9,59.6 286.0,57.7 284.1,57.6ZM288.9,59.6 290.9,59.7 290.0,57.0 288.0,57.4ZM296.9,58.8 298.8,58.4 297.9,56.0 296.0,56.3ZM279.9,62.7 281.9,62.6 281.0,59.8 279.0,60.4ZM295.8,62.1 297.8,61.5 296.9,58.8 294.9,59.3ZM321.6,52.5 323.5,52.2 322.6,50.3 320.7,50.3ZM323.5,52.2 325.5,52.1 324.6,50.6 322.6,50.3ZM282.8,64.5 284.8,64.5 283.9,62.4 281.9,62.6ZM300.4,66.5 302.4,65.7 301.5,63.3 299.5,63.5ZM336.1,52.9 338.1,52.7 337.2,50.6 335.3,51.0ZM297.4,70.3 299.4,69.7 298.5,67.0 296.5,67.4ZM275.4,73.3 277.3,73.6 276.5,71.7 274.5,71.7ZM315.0,64.2 317.0,63.9 316.1,62.4 314.1,62.1ZM282.2,76.3 284.2,76.1 283.3,73.6 281.3,74.0ZM312.0,67.1 313.9,66.7 313.0,64.2 311.1,64.6ZM313.9,66.7 315.9,66.2 315.0,64.2 313.0,64.2ZM347.7,56.5 349.6,57.1 348.7,55.9 346.8,55.8ZM349.6,57.1 351.6,57.5 350.7,55.9 348.7,55.9ZM310.9,69.9 312.9,69.7 312.0,67.1 310.0,67.7ZM346.6,58.4 348.6,58.3 347.7,56.5 345.7,56.8ZM352.5,59.6 354.5,59.2 353.6,57.1 351.6,57.5ZM293.9,75.2 295.9,75.2 295.0,72.2 293.0,73.2ZM368.2,56.7 370.2,56.0 369.3,54.2 367.3,54.4ZM313.6,74.3 315.5,73.5 314.6,70.9 312.7,71.5ZM284.7,83.6 286.7,83.2 285.8,80.6 283.8,81.1ZM314.5,76.1 316.4,76.1 315.5,73.5 313.6,74.3ZM316.4,76.1 318.4,75.6 317.5,72.7 315.5,73.5ZM364.0,63.1 366.0,63.0 365.1,61.3 363.1,61.6ZM335.2,68.9 337.2,68.7 336.3,66.9 334.3,67.0ZM337.2,68.7 339.1,68.5 338.3,66.5 336.3,66.9ZM336.1,71.0 338.1,70.7 337.2,68.7 335.2,68.9ZM338.1,70.7 340.0,70.4 339.1,68.5 337.2,68.7ZM344.0,69.7 346.0,69.2 345.1,66.7 343.1,67.5ZM376.6,60.9 378.6,60.3 377.7,56.8 375.7,58.4Z" fill="#3454ff" fill-opacity="0.45"/><path d="M275.5,37.9 277.5,38.7 276.6,37.1 274.6,36.5ZM277.5,38.7 279.4,39.3 278.6,37.7 276.6,37.1ZM317.2,31.2 319.1,31.3 318.2,29.5 316.3,29.2ZM253.5,42.8 255.4,42.5 254.5,39.8 252.6,39.8ZM255.4,42.5 257.4,42.3 256.5,40.0 254.5,39.8ZM263.4,41.8 265.4,42.5 264.5,40.5 262.5,40.1ZM271.3,43.1 273.3,42.6 272.4,39.4 270.4,39.8ZM300.0,38.2 302.0,38.0 301.1,35.5 299.1,35.5ZM302.0,38.0 304.0,37.7 303.1,35.9 301.1,35.5ZM347.6,33.6 349.6,33.6 348.7,31.2 346.7,31.5ZM260.1,48.5 262.1,48.6 261.2,45.8 259.2,46.1ZM262.1,48.6 264.1,48.4 263.2,45.5 261.2,45.8ZM344.2,38.4 346.1,38.0 345.2,35.9 343.3,35.9ZM303.4,47.9 305.4,47.9 304.5,45.2 302.5,45.5ZM309.3,47.7 311.3,46.9 310.4,43.5 308.4,44.2ZM320.2,44.1 322.1,43.6 321.2,41.2 319.3,41.3ZM331.0,43.3 333.0,43.3 332.1,41.2 330.1,41.3ZM334.9,43.4 336.9,43.4 336.0,41.8 334.0,41.5ZM331.9,45.8 333.8,45.6 333.0,43.3 331.0,43.3ZM292.0,56.6 294.0,56.4 293.1,54.0 291.1,54.0ZM294.0,56.4 296.0,56.3 295.1,54.2 293.1,54.0ZM283.0,59.5 285.0,59.6 284.1,57.6 282.1,57.4ZM294.9,59.3 296.9,58.8 296.0,56.3 294.0,56.4ZM339.2,51.1 341.2,51.6 340.3,50.2 338.3,49.9ZM341.2,51.6 343.2,51.9 342.3,50.3 340.3,50.2ZM361.0,46.9 363.0,46.2 362.1,42.9 360.1,43.9ZM344.1,54.0 346.1,53.8 345.2,51.8 343.2,51.9ZM337.0,55.5 339.0,55.1 338.1,52.7 336.1,52.9ZM341.0,55.0 343.0,55.0 342.1,53.8 340.1,53.2ZM314.1,62.1 316.1,62.4 315.2,60.9 313.2,60.5ZM367.7,47.5 369.7,48.7 368.8,48.0 366.8,47.6ZM277.3,73.6 279.3,73.9 278.4,71.6 276.5,71.7ZM279.3,73.9 281.3,74.0 280.4,71.3 278.4,71.6ZM281.3,74.0 283.3,73.6 282.4,70.9 280.4,71.3ZM304.9,72.4 306.9,71.8 306.0,69.1 304.0,69.5ZM312.9,69.7 314.8,69.3 313.9,66.7 312.0,67.1ZM303.8,74.8 305.8,73.7 304.9,72.4 302.9,71.6ZM350.3,61.8 352.3,62.0 351.4,61.1 349.4,60.5ZM361.2,61.1 363.1,61.6 362.2,59.4 360.3,59.9ZM363.1,61.6 365.1,61.3 364.2,58.8 362.2,59.4ZM331.2,69.2 333.2,69.0 332.3,67.1 330.3,67.2ZM333.2,69.0 335.2,68.9 334.3,67.0 332.3,67.1ZM347.1,65.9 349.1,65.6 348.2,63.4 346.2,63.7ZM330.1,72.2 332.1,71.7 331.2,69.2 329.2,69.6ZM334.1,71.3 336.1,71.0 335.2,68.9 333.2,69.0ZM346.0,69.2 348.0,68.7 347.1,65.9 345.1,66.7ZM359.9,64.9 361.9,65.2 361.0,63.5 359.0,63.6ZM363.8,66.0 365.8,65.6 364.9,64.2 362.9,63.9ZM290.3,86.2 292.3,86.7 291.4,84.8 289.4,84.7Z" fill="#3454ff" fill-opacity="0.57"/><path d="M313.2,31.3 315.2,31.2 314.3,28.8 312.3,28.8ZM315.2,31.2 317.2,31.2 316.3,29.2 314.3,28.8ZM264.5,40.5 266.5,41.2 265.6,38.5 263.6,38.5ZM274.4,39.8 276.4,40.4 275.5,37.9 273.5,37.5ZM276.4,40.4 278.4,40.6 277.5,38.7 275.5,37.9ZM265.4,42.5 267.4,43.9 266.5,41.2 264.5,40.5ZM267.4,43.9 269.3,44.1 268.4,40.9 266.5,41.2ZM273.3,42.6 275.3,42.7 274.4,39.8 272.4,39.4ZM275.3,42.7 277.3,42.9 276.4,40.4 274.4,39.8ZM305.4,47.9 307.4,48.0 306.5,44.8 304.5,45.2ZM307.4,48.0 309.3,47.7 308.4,44.2 306.5,44.8ZM298.3,49.9 300.3,50.3 299.4,47.9 297.4,48.0ZM300.3,50.3 302.3,51.0 301.4,47.9 299.4,47.9ZM302.3,51.0 304.3,51.6 303.4,47.9 301.4,47.9ZM304.3,51.6 306.3,52.0 305.4,47.9 303.4,47.9ZM306.3,52.0 308.3,52.2 307.4,48.0 305.4,47.9ZM308.3,52.2 310.2,51.7 309.3,47.7 307.4,48.0ZM322.1,43.6 324.1,43.6 323.2,41.9 321.2,41.2ZM333.0,43.3 334.9,43.4 334.0,41.5 332.1,41.2ZM290.9,59.7 292.9,59.6 292.0,56.6 290.0,57.0ZM292.9,59.6 294.9,59.3 294.0,56.4 292.0,56.6ZM281.9,62.6 283.9,62.4 283.0,59.5 281.0,59.8ZM283.9,62.4 285.9,62.2 285.0,59.6 283.0,59.5ZM285.9,62.2 287.8,62.0 286.9,59.6 285.0,59.6ZM287.8,62.0 289.8,62.2 288.9,59.6 286.9,59.6ZM289.8,62.2 291.8,62.5 290.9,59.7 288.9,59.6ZM291.8,62.5 293.8,62.6 292.9,59.6 290.9,59.7ZM293.8,62.6 295.8,62.1 294.9,59.3 292.9,59.6ZM362.1,42.9 364.1,43.2 363.2,41.3 361.2,40.6ZM364.1,43.2 366.1,43.8 365.2,42.3 363.2,41.3ZM363.0,46.2 365.0,46.1 364.1,43.2 362.1,42.9ZM365.0,46.1 367.0,46.1 366.1,43.8 364.1,43.2ZM292.5,67.1 294.5,67.5 293.6,64.2 291.6,64.7ZM294.5,67.5 296.5,67.4 295.6,63.8 293.6,64.2ZM296.5,67.4 298.5,67.0 297.6,63.6 295.6,63.8ZM298.5,67.0 300.4,66.5 299.5,63.5 297.6,63.6ZM338.1,52.7 340.1,53.2 339.2,51.1 337.2,50.6ZM340.1,53.2 342.1,53.8 341.2,51.6 339.2,51.1ZM342.1,53.8 344.1,54.0 343.2,51.9 341.2,51.6ZM291.4,68.1 293.4,69.0 292.5,67.1 290.5,66.7ZM293.4,69.0 295.4,70.0 294.5,67.5 292.5,67.1ZM295.4,70.0 297.4,70.3 296.5,67.4 294.5,67.5ZM339.0,55.1 341.0,55.0 340.1,53.2 338.1,52.7ZM312.2,61.5 314.1,62.1 313.2,60.5 311.3,59.8ZM311.1,64.6 313.0,64.2 312.2,61.5 310.2,61.5ZM313.0,64.2 315.0,64.2 314.1,62.1 312.2,61.5ZM366.6,47.4 368.6,48.9 367.7,47.5 365.7,47.0ZM368.6,48.9 370.6,50.6 369.7,48.7 367.7,47.5ZM278.2,74.6 280.2,75.7 279.3,73.9 277.3,73.6ZM280.2,75.7 282.2,76.3 281.3,74.0 279.3,73.9ZM367.5,49.3 369.5,51.2 368.6,48.9 366.6,47.4ZM369.5,51.2 371.5,52.4 370.6,50.6 368.6,48.9ZM277.2,76.7 279.1,76.7 278.2,74.6 276.3,74.0ZM279.1,76.7 281.1,77.1 280.2,75.7 278.2,74.6ZM301.0,70.7 302.9,71.6 302.0,69.2 300.1,69.0ZM302.9,71.6 304.9,72.4 304.0,69.5 302.0,69.2ZM348.6,58.3 350.5,59.1 349.6,57.1 347.7,56.5ZM350.5,59.1 352.5,59.6 351.6,57.5 349.6,57.1ZM366.4,51.6 368.4,51.8 367.5,49.3 365.5,49.0ZM368.4,51.8 370.4,52.9 369.5,51.2 367.5,49.3ZM370.4,52.9 372.4,53.3 371.5,52.4 369.5,51.2ZM295.9,75.2 297.9,75.6 297.0,71.3 295.0,72.2ZM297.9,75.6 299.9,75.9 299.0,70.8 297.0,71.3ZM299.9,75.9 301.9,75.6 301.0,70.7 299.0,70.8ZM301.9,75.6 303.8,74.8 302.9,71.6 301.0,70.7ZM347.5,60.4 349.4,60.5 348.6,58.3 346.6,58.4ZM349.4,60.5 351.4,61.1 350.5,59.1 348.6,58.3ZM351.4,61.1 353.4,61.4 352.5,59.6 350.5,59.1ZM367.3,54.4 369.3,54.2 368.4,51.8 366.4,51.6ZM369.3,54.2 371.3,54.3 370.4,52.9 368.4,51.8ZM362.0,62.2 364.0,63.1 363.1,61.6 361.2,61.1ZM349.1,65.6 351.0,65.5 350.2,63.4 348.2,63.4ZM351.0,65.5 353.0,65.3 352.1,63.5 350.2,63.4ZM361.0,63.5 362.9,63.9 362.0,62.2 360.1,62.0ZM362.9,63.9 364.9,64.2 364.0,63.1 362.0,62.2ZM332.1,71.7 334.1,71.3 333.2,69.0 331.2,69.2ZM348.0,68.7 350.0,68.2 349.1,65.6 347.1,65.9ZM350.0,68.2 351.9,67.7 351.0,65.5 349.1,65.6ZM361.9,65.2 363.8,66.0 362.9,63.9 361.0,63.5ZM288.3,85.2 290.3,86.2 289.4,84.7 287.4,84.4ZM287.2,88.3 289.2,88.1 288.3,85.2 286.3,85.3ZM289.2,88.1 291.2,88.7 290.3,86.2 288.3,85.2ZM291.2,88.7 293.2,88.8 292.3,86.7 290.3,86.2Z" fill="#3454ff" fill-opacity="0.68"/></g>
<g filter="url(#bl1)">
<path d="M247,38.5 L262,35.5 L266,44 L262,50 L252,48 Z" fill="#3050ff" opacity="0.6"/>
<path d="M276,33 L281,25 L285,27 L289,33 L286,40 L279,42 Z" fill="#70e0ff" opacity="0.9"/>
<path d="M289,31 L296,27 L299,29 L296,35 L290,36 Z" fill="#60c0ff" opacity="0.7"/>
<path d="M300,28 L306,25 L309,29 L305,34 L300,33 Z" fill="#80e8ff" opacity="0.8"/>
<path d="M312,29 L318,25.5 L323,24 L328,26 L333,31 L336,42 L333,52 L326,46 L318,38 L310,34 Z" fill="#60c8ff" opacity="0.75"/>
<path d="M322,30 L328,27 L333,33 L334,44 L328,40 Z" fill="#80f0ff" opacity="0.8"/>
<path d="M262,42 L276,42 L284,54 L278,62 L266,62 L258,54 Z" fill="#50c0ff" opacity="0.8"/>
<ellipse cx="266" cy="62" rx="8" ry="4" fill="#3a70ff" opacity="0.6"/>
<ellipse cx="342" cy="53" rx="9" ry="5" fill="#70e8ff" opacity="0.85"/>
<ellipse cx="354" cy="54" rx="6" ry="4" fill="#50a0ff" opacity="0.6"/>
<ellipse cx="298" cy="46" rx="5" ry="2" fill="#4070ff" opacity="0.6"/>
<ellipse cx="312" cy="58" rx="6" ry="2" fill="#3a60ff" opacity="0.6"/>
</g>
<g filter="url(#bl1)" opacity="0.85">
<ellipse cx="266" cy="69" rx="5" ry="3" fill="#0606a0" transform="rotate(-20 266 69)"/>
<ellipse cx="281" cy="76" rx="7" ry="2.5" fill="#0606a0" transform="rotate(-15 281 76)"/>
<ellipse cx="303" cy="64" rx="8" ry="3" fill="#0606a0" transform="rotate(-15 303 64)"/>
<ellipse cx="293" cy="50" rx="6" ry="2.5" fill="#0606a0" transform="rotate(-15 293 50)"/>
<ellipse cx="318" cy="70" rx="6" ry="2.5" fill="#0606a0" transform="rotate(-20 318 70)"/>
<ellipse cx="345" cy="66" rx="7" ry="2.5" fill="#0606a0" transform="rotate(-20 345 66)"/>
<ellipse cx="360" cy="46" rx="5" ry="2" fill="#0606a0" transform="rotate(-30 360 46)"/>
<ellipse cx="330" cy="60" rx="5" ry="2" fill="#0606a0" transform="rotate(-20 330 60)"/>
<ellipse cx="290" cy="86" rx="5" ry="2" fill="#0606a0" transform="rotate(-15 290 86)"/>
<ellipse cx="372" cy="57" rx="4" ry="2" fill="#0606a0" transform="rotate(-20 372 57)"/>
<ellipse cx="284" cy="38" rx="3" ry="2" fill="#0606a0" transform="rotate(-20 284 38)"/>
<ellipse cx="308" cy="40" rx="4" ry="1.8" fill="#0606a0" transform="rotate(-15 308 40)"/>
<ellipse cx="352" cy="38" rx="5" ry="2" fill="#0606a0" transform="rotate(-30 352 38)"/>
<ellipse cx="258" cy="80" rx="4" ry="2" fill="#0606a0" transform="rotate(-30 258 80)"/>
<ellipse cx="298" cy="74" rx="5" ry="2" fill="#0606a0" transform="rotate(-15 298 74)"/>
</g>
</g>
<g mask="url(#a3Lm)"><path d="M261.90,59.10 C262.20,58.43 263.25,56.77 263.70,55.10 C264.15,53.43 264.42,51.10 264.60,49.10 C264.78,47.10 264.75,45.10 264.80,43.10 C264.85,41.10 264.87,39.10 264.90,37.10 C264.93,35.10 264.93,32.93 265.00,31.10 C265.07,29.27 265.23,27.35 265.30,26.10 C265.37,24.85 265.32,24.35 265.40,23.60 C265.48,22.85 265.62,22.18 265.80,21.60 C265.98,21.02 266.15,20.52 266.50,20.10 C266.85,19.68 267.42,19.10 267.90,19.10 C268.38,19.10 268.98,19.68 269.40,20.10 C269.82,20.52 270.05,21.02 270.40,21.60 C270.75,22.18 271.12,22.85 271.50,23.60 C271.88,24.35 272.13,24.85 272.70,26.10 C273.27,27.35 274.17,29.27 274.90,31.10 C275.63,32.93 276.43,35.10 277.10,37.10 C277.77,39.10 278.35,41.10 278.90,43.10 C279.45,45.10 279.90,47.10 280.40,49.10 C280.90,51.10 281.48,53.43 281.90,55.10 C282.32,56.77 282.73,58.43 282.90,59.10Z" fill="url(#a3Lg)" filter="url(#bl05)"/>
<path d="M261.90,59.10 C262.20,58.43 263.25,56.77 263.70,55.10 C264.15,53.43 264.42,51.10 264.60,49.10 C264.78,47.10 264.75,45.10 264.80,43.10 C264.85,41.10 264.87,39.10 264.90,37.10 C264.93,35.10 264.93,32.93 265.00,31.10 C265.07,29.27 265.23,27.35 265.30,26.10 C265.37,24.85 265.32,24.35 265.40,23.60 C265.48,22.85 265.62,22.18 265.80,21.60 C265.98,21.02 266.15,20.52 266.50,20.10 C266.85,19.68 267.42,19.10 267.90,19.10 C268.38,19.10 268.98,19.68 269.40,20.10 C269.82,20.52 270.05,21.02 270.40,21.60 C270.75,22.18 271.12,22.85 271.50,23.60 C271.88,24.35 272.13,24.85 272.70,26.10 C273.27,27.35 274.17,29.27 274.90,31.10 C275.63,32.93 276.43,35.10 277.10,37.10 C277.77,39.10 278.35,41.10 278.90,43.10 C279.45,45.10 279.90,47.10 280.40,49.10 C280.90,51.10 281.48,53.43 281.90,55.10 C282.32,56.77 282.73,58.43 282.90,59.10Z" fill="url(#a3Lh)" filter="url(#bl05)"/></g>
<g mask="url(#a3Dm)"><path d="M321.60,59.90 C321.93,58.90 322.77,55.93 323.60,53.90 C324.43,51.87 325.68,49.70 326.60,47.70 C327.52,45.70 328.40,43.73 329.10,41.90 C329.80,40.07 330.25,38.53 330.80,36.70 C331.35,34.87 331.87,32.73 332.40,30.90 C332.93,29.07 333.50,27.12 334.00,25.70 C334.50,24.28 334.95,23.37 335.40,22.40 C335.85,21.43 336.28,20.62 336.70,19.90 C337.12,19.18 337.42,18.60 337.90,18.10 C338.38,17.60 339.05,16.90 339.60,16.90 C340.15,16.90 340.77,17.60 341.20,18.10 C341.63,18.60 341.90,19.18 342.20,19.90 C342.50,20.62 342.75,21.43 343.00,22.40 C343.25,23.37 343.43,24.28 343.70,25.70 C343.97,27.12 344.30,29.07 344.60,30.90 C344.90,32.73 345.20,34.87 345.50,36.70 C345.80,38.53 346.08,40.07 346.40,41.90 C346.72,43.73 346.95,45.70 347.40,47.70 C347.85,49.70 348.57,51.87 349.10,53.90 C349.63,55.93 350.35,58.90 350.60,59.90Z" fill="url(#a3Dg)" filter="url(#bl05)"/>
<path d="M321.60,59.90 C321.93,58.90 322.77,55.93 323.60,53.90 C324.43,51.87 325.68,49.70 326.60,47.70 C327.52,45.70 328.40,43.73 329.10,41.90 C329.80,40.07 330.25,38.53 330.80,36.70 C331.35,34.87 331.87,32.73 332.40,30.90 C332.93,29.07 333.50,27.12 334.00,25.70 C334.50,24.28 334.95,23.37 335.40,22.40 C335.85,21.43 336.28,20.62 336.70,19.90 C337.12,19.18 337.42,18.60 337.90,18.10 C338.38,17.60 339.05,16.90 339.60,16.90 C340.15,16.90 340.77,17.60 341.20,18.10 C341.63,18.60 341.90,19.18 342.20,19.90 C342.50,20.62 342.75,21.43 343.00,22.40 C343.25,23.37 343.43,24.28 343.70,25.70 C343.97,27.12 344.30,29.07 344.60,30.90 C344.90,32.73 345.20,34.87 345.50,36.70 C345.80,38.53 346.08,40.07 346.40,41.90 C346.72,43.73 346.95,45.70 347.40,47.70 C347.85,49.70 348.57,51.87 349.10,53.90 C349.63,55.93 350.35,58.90 350.60,59.90Z" fill="url(#a3Dh)" filter="url(#bl05)"/></g>
<polyline points="246,39.5 276.6,95.2 380.6,65.6" fill="none" stroke="#aaa" stroke-width="0.6"/>
<line x1="244.5" y1="41" x2="246.5" y2="41" stroke="#aaa" stroke-width="0.5"/>
<line x1="252" y1="55.3" x2="254" y2="55.3" stroke="#aaa" stroke-width="0.5"/>
<line x1="260" y1="70" x2="262" y2="70" stroke="#aaa" stroke-width="0.5"/>
<line x1="268.5" y1="85.5" x2="270.5" y2="85.5" stroke="#aaa" stroke-width="0.5"/>
<line x1="263.4" y1="10.2" x2="266.7" y2="16.2" stroke="#c81818" stroke-width="1.1"/>
<circle cx="266.7" cy="16.2" r="2.1" fill="#d01818"/>
<line x1="344.6" y1="8.2" x2="341.5" y2="13.2" stroke="#c81818" stroke-width="1.1"/>
<circle cx="341.5" cy="13.2" r="2.1" fill="#d01818"/>
<text x="263" y="9" font-size="8.5" font-weight="bold" text-anchor="middle" fill="#111" stroke="#111" stroke-width="0.18" ><tspan font-size="6.4">L</tspan>–Ribulose</text>
<text x="344" y="9" font-size="8.5" font-weight="bold" text-anchor="middle" fill="#111" stroke="#111" stroke-width="0.18" ><tspan font-size="6.4">D</tspan>–Ribulose</text>
<text x="231.3" y="45" font-size="8" font-weight="bold" text-anchor="middle" fill="#111" stroke="#111" stroke-width="0.18" >2.2</text>
<text x="238.9" y="59.7" font-size="8" font-weight="bold" text-anchor="middle" fill="#111" stroke="#111" stroke-width="0.18" >2.1</text>
<text x="247.6" y="74.1" font-size="8" font-weight="bold" text-anchor="middle" fill="#111" stroke="#111" stroke-width="0.18" >2.0</text>
<text x="257.1" y="91" font-size="8" font-weight="bold" text-anchor="middle" fill="#111" stroke="#111" stroke-width="0.18" >1.9</text>
<text x="217.6" y="69.6" font-size="7.7" font-weight="bold" text-anchor="middle" fill="#111" stroke="#111" stroke-width="0.18" >2D RT (s)</text>
<text x="281.4" y="106" font-size="8" font-weight="bold" text-anchor="middle" fill="#111" stroke="#111" stroke-width="0.18" >17.0</text>
<text x="331.3" y="91" font-size="8" font-weight="bold" text-anchor="middle" fill="#111" stroke="#111" stroke-width="0.18" >17.8</text>
<text x="374.4" y="78.3" font-size="8" font-weight="bold" text-anchor="middle" fill="#111" stroke="#111" stroke-width="0.18" >18.7</text>
<text x="343.6" y="105.5" font-size="7.7" font-weight="bold" text-anchor="middle" fill="#111" stroke="#111" stroke-width="0.18" >1D RT (min)</text>
<path d="M248.50,173.60 L253.00,171.80 L258.00,171.60 L263.00,169.60 L268.60,169.40 L274.00,167.40 L280.00,167.60 L286.00,165.60 L292.20,165.80 L298.00,163.40 L304.00,163.60 L310.00,161.20 L315.70,161.20 L320.00,159.00 L325.20,158.80 L332.20,157.10 L337.00,160.60 L346.40,168.90 L352.00,174.50 L358.20,180.70 L364.00,185.00 L370.00,190.00 L376.00,195.50 L381.80,200.70 L381.80,203.00 L372.00,206.50 L362.90,210.10 L348.80,214.80 L334.60,218.40 L322.80,220.70 L314.00,223.00 L306.30,225.50 L292.20,231.30 L286.00,234.00 L280.40,237.60Z" fill="#1c10fa"/>
<g clip-path="url(#b3c)">
<g filter="url(#bl1)"><ellipse cx="270.43" cy="213.63" rx="5.36" ry="3.17" fill="#1010c8" opacity="0.35"/><ellipse cx="382.6" cy="195.35" rx="6.83" ry="3.24" fill="#1010c8" opacity="0.35"/><ellipse cx="355.22" cy="156.2" rx="6.7" ry="3.83" fill="#1010c8" opacity="0.35"/><ellipse cx="355.95" cy="174.74" rx="3.55" ry="1.48" fill="#0a0aa8" opacity="0.35"/><ellipse cx="331.76" cy="157.9" rx="3.98" ry="2.38" fill="#0c0cb8" opacity="0.35"/><ellipse cx="336.24" cy="234.72" rx="2.6" ry="1.81" fill="#0c0cb8" opacity="0.35"/><ellipse cx="264.98" cy="233.88" rx="4.54" ry="2.82" fill="#2830ff" opacity="0.35"/><ellipse cx="302.58" cy="167.84" rx="5.49" ry="3.23" fill="#1010c8" opacity="0.35"/><ellipse cx="258.15" cy="171.78" rx="5.53" ry="3.99" fill="#0c0cb8" opacity="0.35"/><ellipse cx="264.66" cy="195.49" rx="6.22" ry="2.99" fill="#1010c8" opacity="0.35"/><ellipse cx="368.71" cy="189.82" rx="4.14" ry="2.41" fill="#0a0aa8" opacity="0.35"/><ellipse cx="291.24" cy="196.18" rx="3.7" ry="2.71" fill="#1010c8" opacity="0.35"/><ellipse cx="345.66" cy="239.39" rx="4.73" ry="2.82" fill="#1010c8" opacity="0.35"/><ellipse cx="325.73" cy="182.08" rx="6.91" ry="3.08" fill="#1010c8" opacity="0.35"/><ellipse cx="333.2" cy="225.86" rx="4" ry="2.82" fill="#2830ff" opacity="0.35"/><ellipse cx="281.42" cy="169.34" rx="6.65" ry="3.12" fill="#0a0aa8" opacity="0.35"/><ellipse cx="298.98" cy="213.08" rx="5.54" ry="4.21" fill="#1010c8" opacity="0.35"/><ellipse cx="303.35" cy="239.07" rx="6.83" ry="4.34" fill="#2830ff" opacity="0.35"/><ellipse cx="314.76" cy="186.92" rx="3.61" ry="2.71" fill="#1010c8" opacity="0.35"/><ellipse cx="324.41" cy="192.33" rx="4.33" ry="3.02" fill="#0c0cb8" opacity="0.35"/></g>
<g filter="url(#bl07)"><path d="M267.8,172.0 269.5,171.4 268.5,169.3 266.8,170.1ZM253.7,178.8 255.4,177.9 254.5,175.5 252.8,176.3ZM258.8,175.9 260.5,175.4 259.5,173.7 257.8,174.1ZM295.7,169.9 297.4,169.1 296.3,167.1 294.6,167.8ZM297.4,169.1 299.1,168.4 297.9,166.3 296.3,167.1ZM327.7,162.4 329.4,161.9 328.0,160.7 326.3,161.0ZM263.1,175.9 264.8,176.0 263.8,174.7 262.1,175.0ZM273.3,174.7 275.0,174.2 273.9,172.6 272.2,173.0ZM283.4,173.9 285.1,173.2 284.0,171.5 282.3,172.1ZM293.5,172.3 295.2,171.8 294.1,170.6 292.4,170.8ZM300.3,169.7 302.0,169.3 300.8,167.8 299.1,168.4ZM315.5,166.1 317.2,165.7 315.9,164.6 314.2,164.8ZM327.3,164.5 329.0,163.8 327.7,162.4 326.0,163.0ZM329.0,163.8 330.7,163.3 329.4,161.9 327.7,162.4ZM252.3,181.5 254.0,181.3 253.0,180.5 251.3,180.4ZM264.1,176.0 265.8,176.6 264.8,176.0 263.1,175.9ZM265.8,176.6 267.5,177.0 266.5,176.0 264.8,176.0ZM272.6,176.8 274.3,176.2 273.3,174.7 271.6,175.2ZM276.0,175.5 277.7,175.3 276.6,174.0 275.0,174.2ZM287.9,173.9 289.6,173.6 288.5,172.1 286.8,172.5ZM291.3,173.3 293.0,173.0 291.8,172.3 290.2,172.1ZM301.5,171.0 303.2,170.5 302.0,169.3 300.3,169.7ZM303.2,170.5 304.9,170.1 303.7,168.9 302.0,169.3ZM304.9,170.1 306.6,169.9 305.4,168.6 303.7,168.9ZM311.7,169.4 313.4,168.8 312.1,167.4 310.4,167.9ZM320.1,165.5 321.8,166.0 320.6,165.7 318.9,165.5ZM328.6,165.9 330.3,165.3 329.0,163.8 327.3,164.5ZM253.2,183.1 254.9,182.8 254.0,181.3 252.3,181.5ZM273.7,178.5 275.4,177.9 274.3,176.2 272.6,176.8ZM285.6,176.2 287.3,175.9 286.2,174.3 284.5,174.7ZM294.1,174.4 295.8,174.0 294.7,172.7 293.0,173.0ZM329.9,167.0 331.6,166.6 330.3,165.3 328.6,165.9ZM335.1,165.8 336.8,165.2 335.4,164.0 333.7,164.5ZM274.7,180.3 276.4,179.8 275.4,177.9 273.7,178.5ZM276.4,179.8 278.1,179.1 277.1,177.1 275.4,177.9ZM297.0,175.6 298.7,175.0 297.5,173.5 295.8,174.0ZM275.7,182.3 277.5,181.6 276.4,179.8 274.7,180.3ZM277.5,181.6 279.2,181.0 278.1,179.1 276.4,179.8ZM308.5,172.4 310.2,172.3 309.0,171.8 307.3,171.6ZM311.9,172.4 313.6,172.7 312.4,172.1 310.7,172.0ZM313.6,172.7 315.4,172.8 314.1,172.0 312.4,172.1ZM315.4,172.8 317.1,172.7 315.8,171.5 314.1,172.0ZM318.8,172.3 320.5,171.6 319.3,169.1 317.5,170.4ZM337.7,168.5 339.5,167.9 338.1,166.3 336.4,167.1ZM301.0,179.2 302.7,178.0 301.6,175.9 299.9,176.9ZM302.7,178.0 304.5,177.0 303.3,174.9 301.6,175.9ZM304.5,177.0 306.2,176.1 305.0,173.8 303.3,174.9ZM344.3,167.4 346.0,166.9 344.6,166.1 342.9,166.3ZM274.3,187.1 276.1,186.5 275.0,185.0 273.3,185.4ZM281.3,184.8 283.0,184.4 282.0,182.8 280.2,183.4ZM288.3,182.0 290.0,181.8 288.9,180.8 287.2,181.1ZM300.4,182.8 302.2,181.5 301.0,179.2 299.3,180.1ZM303.9,180.1 305.6,179.2 304.5,177.0 302.7,178.0ZM273.6,189.6 275.4,188.8 274.3,187.1 272.6,187.6ZM275.4,188.8 277.1,188.1 276.1,186.5 274.3,187.1ZM284.1,186.0 285.8,185.4 284.8,183.7 283.0,184.4ZM287.6,184.6 289.3,183.9 288.3,182.0 286.5,182.8ZM327.8,175.7 329.5,174.9 328.3,173.8 326.5,174.2ZM338.3,173.2 340.0,172.7 338.7,171.5 337.0,172.0ZM278.1,189.5 279.9,189.1 278.9,187.3 277.1,188.1ZM301.0,184.8 302.7,184.6 301.6,184.2 299.8,184.0ZM339.6,173.8 341.4,173.7 340.0,172.7 338.3,173.2ZM268.6,192.2 270.3,192.1 269.4,191.3 267.6,191.3ZM273.9,191.8 275.6,191.5 274.6,190.3 272.9,190.7ZM275.6,191.5 277.4,191.3 276.4,189.9 274.6,190.3ZM279.2,191.0 280.9,190.6 279.9,189.1 278.1,189.5ZM280.9,190.6 282.7,190.0 281.7,188.6 279.9,189.1ZM291.5,187.3 293.3,187.2 292.2,186.0 290.4,186.3ZM302.1,185.9 303.9,185.5 302.7,184.6 301.0,184.8ZM307.4,184.5 309.2,184.0 308.0,182.4 306.2,183.0ZM328.6,179.1 330.3,178.5 329.1,177.1 327.3,177.7ZM262.5,198.9 264.2,197.7 263.3,195.0 261.5,196.1ZM264.2,197.7 266.0,196.4 265.1,193.8 263.3,195.0ZM266.0,196.4 267.8,195.3 266.8,192.7 265.1,193.8ZM280.2,192.7 282.0,192.2 280.9,190.6 279.2,191.0ZM305.0,187.0 306.8,186.5 305.6,185.0 303.9,185.5ZM329.8,180.5 331.6,179.9 330.3,178.5 328.6,179.1ZM331.6,179.9 333.4,179.3 332.1,177.6 330.3,178.5ZM333.4,179.3 335.2,178.7 333.9,176.2 332.1,177.6ZM351.1,177.3 352.9,176.8 351.5,175.9 349.8,176.3ZM329.3,182.4 331.1,181.8 329.8,180.5 328.1,181.0ZM331.1,181.8 332.9,181.1 331.6,179.9 329.8,180.5ZM262.6,203.4 264.4,203.0 263.4,201.4 261.6,202.0ZM269.7,200.5 271.5,199.7 270.5,197.5 268.8,198.4ZM330.6,183.9 332.4,183.2 331.1,181.8 329.3,182.4ZM332.4,183.2 334.2,182.6 332.9,181.1 331.1,181.8ZM334.2,182.6 336.0,182.0 334.7,180.5 332.9,181.1ZM341.3,180.9 343.1,180.3 341.8,179.3 340.0,179.6ZM343.1,180.3 344.9,179.8 343.6,179.0 341.8,179.3ZM344.9,179.8 346.7,179.4 345.4,178.7 343.6,179.0ZM346.7,179.4 348.5,179.1 347.1,178.4 345.4,178.7ZM350.3,178.7 352.1,178.4 350.7,177.4 348.9,178.0ZM352.1,178.4 353.9,178.0 352.5,177.0 350.7,177.4ZM279.7,201.1 281.5,200.0 280.5,198.0 278.7,198.8ZM283.3,199.0 285.1,198.1 284.1,196.3 282.3,197.1ZM285.1,198.1 286.9,197.4 285.8,195.7 284.1,196.3ZM286.9,197.4 288.7,196.7 287.6,195.1 285.8,195.7ZM297.7,193.6 299.5,193.5 298.4,192.4 296.6,192.7ZM313.9,190.4 315.7,189.8 314.5,188.3 312.7,189.0ZM340.8,182.7 342.6,182.0 341.3,180.9 339.5,181.3ZM264.4,205.4 266.3,205.3 265.3,204.1 263.5,204.5ZM266.3,205.3 268.1,205.0 267.1,203.7 265.3,204.1ZM268.1,205.0 269.9,204.6 268.9,203.0 267.1,203.7ZM269.9,204.6 271.7,204.1 270.7,202.3 268.9,203.0ZM284.3,201.0 286.1,200.1 285.1,198.1 283.3,199.0ZM286.1,200.1 287.9,199.3 286.9,197.4 285.1,198.1ZM313.2,192.3 315.0,191.8 313.9,190.4 312.1,191.1ZM315.0,191.8 316.8,191.3 315.7,189.8 313.9,190.4ZM270.8,206.4 272.6,205.8 271.7,204.1 269.9,204.6ZM276.3,204.9 278.1,204.6 277.1,204.0 275.3,203.8ZM283.5,203.2 285.4,202.8 284.3,201.0 282.5,201.8ZM285.4,202.8 287.2,202.2 286.1,200.1 284.3,201.0ZM303.5,196.7 305.3,195.9 304.2,194.7 302.4,195.1ZM310.8,194.3 312.6,194.1 311.4,192.8 309.6,193.3ZM339.8,186.7 341.6,186.0 340.3,184.8 338.5,185.4ZM270.0,208.7 271.8,208.1 270.8,206.4 269.0,207.0ZM271.8,208.1 273.6,207.5 272.6,205.8 270.8,206.4ZM273.6,207.5 275.4,206.9 274.5,205.3 272.6,205.8ZM275.4,206.9 277.3,206.3 276.3,204.9 274.5,205.3ZM277.3,206.3 279.1,205.8 278.1,204.6 276.3,204.9ZM282.7,204.9 284.6,204.6 283.5,203.2 281.7,203.6ZM301.0,199.9 302.8,199.1 301.7,197.4 299.9,198.0ZM310.1,195.0 311.9,195.0 310.8,194.3 309.0,194.6ZM324.7,192.8 326.5,192.2 325.3,190.8 323.5,191.3ZM326.5,192.2 328.3,191.5 327.1,190.3 325.3,190.8ZM328.3,191.5 330.2,190.9 328.9,189.7 327.1,190.3ZM339.3,187.9 341.1,187.7 339.8,186.7 338.0,187.2ZM352.0,184.8 353.9,184.6 352.5,183.4 350.7,184.1ZM267.3,211.4 269.1,210.8 268.2,209.3 266.3,209.7ZM269.1,210.8 270.9,210.3 270.0,208.7 268.2,209.3ZM270.9,210.3 272.8,209.7 271.8,208.1 270.0,208.7ZM272.8,209.7 274.6,209.2 273.6,207.5 271.8,208.1ZM291.1,205.4 292.9,205.0 291.9,204.1 290.0,204.2ZM309.4,197.4 311.2,196.7 310.1,195.0 308.3,195.8ZM318.6,196.1 320.4,195.5 319.2,194.3 317.4,194.8ZM322.2,194.8 324.1,194.4 322.9,193.3 321.0,193.8ZM324.1,194.4 325.9,194.0 324.7,192.8 322.9,193.3ZM325.9,194.0 327.7,193.4 326.5,192.2 324.7,192.8ZM281.1,209.3 282.9,208.6 281.9,207.0 280.1,207.6ZM282.9,208.6 284.8,208.0 283.8,206.5 281.9,207.0ZM284.8,208.0 286.6,207.3 285.6,206.1 283.8,206.5ZM286.6,207.3 288.4,206.8 287.4,205.7 285.6,206.1ZM292.1,206.6 294.0,206.3 292.9,205.0 291.1,205.4ZM299.5,204.3 301.3,203.6 300.2,202.0 298.4,202.8ZM301.3,203.6 303.2,202.9 302.1,201.3 300.2,202.0ZM303.2,202.9 305.0,202.3 303.9,200.6 302.1,201.3ZM305.0,202.3 306.9,201.7 305.7,199.8 303.9,200.6ZM306.9,201.7 308.7,200.9 307.6,198.6 305.7,199.8ZM325.3,194.9 327.1,194.8 325.9,194.0 324.1,194.4ZM327.1,194.8 328.9,194.6 327.7,193.4 325.9,194.0ZM328.9,194.6 330.8,194.2 329.6,192.8 327.7,193.4ZM362.1,186.7 363.9,185.6 362.5,184.1 360.7,184.9ZM282.1,211.0 283.9,210.3 282.9,208.6 281.1,209.3ZM287.6,208.7 289.5,208.2 288.4,206.8 286.6,207.3ZM295.0,207.6 296.9,207.3 295.8,205.7 294.0,206.3ZM296.9,207.3 298.7,206.7 297.6,205.0 295.8,205.7ZM298.7,206.7 300.6,206.0 299.5,204.3 297.6,205.0ZM300.6,206.0 302.4,205.3 301.3,203.6 299.5,204.3ZM359.7,189.3 361.6,188.8 360.2,187.7 358.4,188.2ZM303.5,207.3 305.4,206.3 304.3,204.6 302.4,205.3ZM271.0,218.4 272.9,217.8 271.9,216.4 270.1,216.9ZM272.9,217.8 274.7,217.3 273.8,215.8 271.9,216.4ZM336.3,198.4 338.2,197.7 336.9,196.5 335.1,197.0ZM338.2,197.7 340.0,197.2 338.8,196.0 336.9,196.5ZM364.3,191.1 366.2,190.0 364.8,188.7 362.9,189.4ZM366.2,190.0 368.0,189.2 366.7,187.9 364.8,188.7ZM300.1,213.8 301.9,213.0 300.9,211.6 299.0,212.1ZM326.3,206.0 328.2,205.3 327.0,203.0 325.1,204.3ZM335.7,200.9 337.6,199.9 336.3,198.4 334.5,199.2ZM337.6,199.9 339.4,199.1 338.2,197.7 336.3,198.4ZM367.5,191.3 369.4,190.5 368.0,189.2 366.2,190.0ZM288.0,218.3 289.8,217.4 288.8,215.9 286.9,216.5ZM289.8,217.4 291.7,216.7 290.7,215.2 288.8,215.9ZM291.7,216.7 293.6,216.2 292.6,214.6 290.7,215.2ZM297.4,215.4 299.3,215.0 298.2,214.1 296.3,214.2ZM308.7,210.5 310.5,210.4 309.4,208.5 307.6,209.6ZM318.1,209.2 320.0,208.5 318.8,207.3 316.9,207.8ZM336.9,202.9 338.8,201.7 337.6,199.9 335.7,200.9ZM338.8,201.7 340.7,200.7 339.4,199.1 337.6,199.9ZM353.8,195.5 355.7,195.7 354.4,195.0 352.5,195.5ZM368.9,192.3 370.8,191.7 369.4,190.5 367.5,191.3ZM275.7,223.5 277.6,223.1 276.7,221.9 274.8,222.4ZM277.6,223.1 279.5,222.7 278.5,221.4 276.7,221.9ZM279.5,222.7 281.4,222.3 280.4,221.0 278.5,221.4ZM285.2,221.8 287.1,221.1 286.1,219.3 284.2,220.2ZM290.9,219.1 292.7,218.4 291.7,216.7 289.8,217.4ZM296.5,217.2 298.4,216.7 297.4,215.4 295.5,215.8ZM343.8,200.8 345.7,200.4 344.4,199.5 342.5,200.0ZM345.7,200.4 347.6,200.0 346.3,199.0 344.4,199.5ZM276.7,224.4 278.6,224.3 277.6,223.1 275.7,223.5ZM288.1,223.8 290.0,222.3 289.0,220.0 287.1,221.1ZM291.9,220.9 293.8,220.2 292.7,218.4 290.9,219.1ZM299.5,218.3 301.4,217.6 300.3,215.9 298.4,216.7ZM301.4,217.6 303.3,216.8 302.2,215.0 300.3,215.9ZM303.3,216.8 305.2,216.0 304.1,213.9 302.2,215.0ZM318.5,212.1 320.4,211.5 319.2,210.2 317.3,210.8ZM320.4,211.5 322.3,210.9 321.1,209.6 319.2,210.2ZM345.0,201.3 346.9,201.2 345.7,200.4 343.8,200.8ZM281.4,225.6 283.3,225.0 282.4,223.8 280.5,224.1ZM292.9,222.4 294.8,221.9 293.8,220.2 291.9,220.9ZM342.5,205.2 344.4,204.2 343.2,202.0 341.3,203.2ZM332.2,211.9 334.1,211.5 332.9,211.7 331.0,211.2ZM341.8,208.4 343.7,207.5 342.5,205.2 340.6,206.8ZM316.1,219.7 318.0,218.5 316.9,216.7 315.0,217.5ZM318.0,218.5 319.9,217.5 318.8,215.9 316.9,216.7ZM333.4,213.1 335.3,212.5 334.1,211.5 332.2,211.9ZM341.1,210.6 343.0,209.9 341.8,208.4 339.9,209.3ZM280.5,234.2 282.4,233.0 281.4,230.7 279.5,231.8ZM294.0,228.1 295.9,227.3 294.9,225.8 293.0,226.4ZM297.9,226.5 299.8,225.9 298.8,224.6 296.8,225.2ZM317.2,222.1 319.1,220.8 318.0,218.5 316.1,219.7ZM369.4,202.7 371.3,202.0 370.0,201.1 368.0,201.5ZM371.3,202.0 373.2,201.3 371.9,200.7 370.0,201.1ZM283.3,234.7 285.3,233.9 284.3,232.1 282.4,233.0ZM289.2,232.6 291.1,231.7 290.1,229.9 288.2,230.7ZM308.6,226.0 310.5,225.1 309.5,223.4 307.5,224.2ZM312.5,224.1 314.4,223.2 313.3,221.9 311.4,222.5ZM316.4,222.7 318.3,222.4 317.2,222.1 315.3,222.1ZM322.2,220.7 324.1,220.0 323.0,218.5 321.1,219.3ZM347.4,213.7 349.4,212.7 348.1,211.1 346.2,212.0ZM351.3,211.6 353.2,210.7 352.0,209.2 350.0,210.1ZM372.7,203.3 374.6,202.5 373.2,201.3 371.3,202.0ZM374.6,202.5 376.5,201.7 375.2,200.7 373.2,201.3ZM284.3,236.4 286.2,235.7 285.3,233.9 283.3,234.7ZM288.2,235.0 290.1,234.2 289.2,232.6 287.2,233.3ZM315.5,224.4 317.4,223.7 316.4,222.7 314.4,223.2ZM333.1,219.1 335.0,218.3 333.8,216.9 331.9,217.5ZM344.8,217.1 346.7,215.9 345.5,214.7 343.5,215.2ZM368.2,206.8 370.1,206.0 368.8,204.7 366.8,205.4ZM370.1,206.0 372.1,205.2 370.7,204.0 368.8,204.7ZM372.1,205.2 374.0,204.4 372.7,203.3 370.7,204.0ZM374.0,204.4 375.9,203.5 374.6,202.5 372.7,203.3ZM375.9,203.5 377.9,202.7 376.5,201.7 374.6,202.5ZM377.9,202.7 379.9,202.1 378.5,201.1 376.5,201.7Z" fill="#0606a0" fill-opacity="0.14"/><path d="M304.6,164.2 306.3,163.7 305.1,162.7 303.4,163.0ZM255.4,177.9 257.1,176.8 256.1,174.7 254.5,175.5ZM257.1,176.8 258.8,175.9 257.8,174.1 256.1,174.7ZM329.4,161.9 331.0,161.2 329.7,160.4 328.0,160.7ZM253.0,180.5 254.7,180.1 253.7,178.8 252.1,179.2ZM285.1,173.2 286.8,172.5 285.7,170.8 284.0,171.5ZM325.6,165.7 327.3,164.5 326.0,163.0 324.3,163.7ZM330.7,163.3 332.4,162.6 331.0,161.2 329.4,161.9ZM332.4,162.6 334.1,161.8 332.7,160.4 331.0,161.2ZM334.1,161.8 335.8,161.1 334.4,159.6 332.7,160.4ZM282.8,175.1 284.5,174.7 283.4,173.9 281.7,174.0ZM254.9,182.8 256.6,182.4 255.6,180.9 254.0,181.3ZM295.8,174.0 297.5,173.5 296.4,172.3 294.7,172.7ZM306.1,170.4 307.8,170.6 306.6,169.9 304.9,170.1ZM312.9,171.0 314.6,170.2 313.4,168.8 311.7,169.4ZM305.6,172.1 307.3,171.6 306.1,170.4 304.4,171.0ZM319.3,169.1 321.0,168.0 319.7,165.6 318.0,166.9ZM327.8,167.9 329.5,168.0 328.2,167.5 326.5,167.7ZM329.5,168.0 331.3,167.9 329.9,167.0 328.2,167.5ZM336.4,167.1 338.1,166.3 336.8,165.2 335.1,165.8ZM341.5,163.7 343.3,163.7 341.9,163.1 340.2,163.4ZM299.9,176.9 301.6,175.9 300.4,174.2 298.7,175.0ZM317.1,172.7 318.8,172.3 317.5,170.4 315.8,171.5ZM339.5,167.9 341.2,167.1 339.8,164.9 338.1,166.3ZM339.1,169.7 340.8,169.0 339.5,167.9 337.7,168.5ZM279.6,185.1 281.3,184.8 280.2,183.4 278.5,183.9ZM283.0,184.4 284.8,183.7 283.7,182.1 282.0,182.8ZM338.7,171.5 340.4,170.8 339.1,169.7 337.4,170.2ZM285.8,185.4 287.6,184.6 286.5,182.8 284.8,183.7ZM305.1,181.6 306.8,180.9 305.6,179.2 303.9,180.1ZM260.6,193.9 262.3,193.2 261.4,191.8 259.6,192.2ZM306.2,183.0 308.0,182.4 306.8,180.9 305.1,181.6ZM337.8,173.8 339.6,173.8 338.3,173.2 336.5,173.5ZM261.5,196.1 263.3,195.0 262.3,193.2 260.6,193.9ZM270.3,192.1 272.1,192.0 271.1,191.1 269.4,191.3ZM272.1,192.0 273.9,191.8 272.9,190.7 271.1,191.1ZM290.8,188.3 292.6,188.2 291.5,187.3 289.8,187.5ZM332.9,181.1 334.7,180.5 333.4,179.3 331.6,179.9ZM345.4,178.7 347.1,178.4 345.8,178.5 344.0,178.2ZM267.9,201.4 269.7,200.5 268.8,198.4 267.0,199.4ZM348.5,179.1 350.3,178.7 348.9,178.0 347.1,178.4ZM263.5,204.5 265.3,204.1 264.4,203.0 262.6,203.4ZM268.9,203.0 270.7,202.3 269.7,200.5 267.9,201.4ZM281.5,200.0 283.3,199.0 282.3,197.1 280.5,198.0ZM288.7,196.7 290.5,196.0 289.4,194.6 287.6,195.1ZM295.9,193.8 297.7,193.6 296.6,192.7 294.8,193.1ZM306.7,193.0 308.5,192.6 307.3,191.8 305.5,192.1ZM346.2,180.5 348.0,180.1 346.7,179.4 344.9,179.8ZM278.9,203.7 280.7,202.8 279.7,201.1 277.9,201.8ZM282.5,201.8 284.3,201.0 283.3,199.0 281.5,200.0ZM306.0,194.2 307.8,193.7 306.7,193.0 304.9,193.2ZM309.0,194.6 310.8,194.3 309.6,193.3 307.8,193.7ZM341.6,186.0 343.4,185.3 342.1,184.3 340.3,184.8ZM279.1,205.8 280.9,205.3 279.9,204.2 278.1,204.6ZM280.9,205.3 282.7,204.9 281.7,203.6 279.9,204.2ZM302.8,199.1 304.6,198.1 303.5,196.7 301.7,197.4ZM330.2,190.9 332.0,190.2 330.7,189.2 328.9,189.7ZM332.0,190.2 333.8,189.6 332.5,188.7 330.7,189.2ZM337.4,188.3 339.3,187.9 338.0,187.2 336.2,187.7ZM341.1,187.7 342.9,187.1 341.6,186.0 339.8,186.7ZM302.1,201.3 303.9,200.6 302.8,199.1 301.0,199.9ZM303.9,200.6 305.7,199.8 304.6,198.1 302.8,199.1ZM320.4,195.5 322.2,194.8 321.0,193.8 319.2,194.3ZM327.7,193.4 329.6,192.8 328.3,191.5 326.5,192.2ZM329.6,192.8 331.4,192.0 330.2,190.9 328.3,191.5ZM331.4,192.0 333.2,191.3 332.0,190.2 330.2,190.9ZM338.7,188.6 340.5,188.5 339.3,187.9 337.4,188.3ZM294.0,206.3 295.8,205.7 294.7,204.3 292.9,205.0ZM295.8,205.7 297.6,205.0 296.6,203.6 294.7,204.3ZM297.6,205.0 299.5,204.3 298.4,202.8 296.6,203.6ZM317.9,198.1 319.7,197.1 318.6,196.1 316.7,196.6ZM283.9,210.3 285.8,209.5 284.8,208.0 282.9,208.6ZM285.8,209.5 287.6,208.7 286.6,207.3 284.8,208.0ZM322.8,197.5 324.6,196.6 323.4,195.3 321.6,196.1ZM305.4,206.3 307.2,205.3 306.1,204.0 304.3,204.6ZM310.9,203.7 312.8,203.3 311.7,202.2 309.8,202.7ZM361.1,190.0 362.9,189.4 361.6,188.8 359.7,189.3ZM346.3,199.0 348.2,198.1 346.9,197.1 345.0,197.6ZM361.4,194.7 363.3,194.2 361.9,194.0 360.0,194.1ZM273.8,224.1 275.7,223.5 274.8,222.4 272.9,222.8ZM289.0,220.0 290.9,219.1 289.8,217.4 288.0,218.3ZM298.4,216.7 300.3,215.9 299.3,215.0 297.4,215.4ZM315.4,211.3 317.3,210.8 316.2,209.9 314.3,210.3ZM319.2,210.2 321.1,209.6 320.0,208.5 318.1,209.2ZM347.6,200.0 349.5,199.3 348.2,198.1 346.3,199.0ZM290.0,222.3 291.9,220.9 290.9,219.1 289.0,220.0ZM283.3,225.0 285.2,224.3 284.3,223.7 282.4,223.8ZM285.2,224.3 287.2,224.0 286.2,224.1 284.3,223.7ZM280.5,227.5 282.4,226.7 281.4,225.6 279.5,226.0ZM335.3,212.5 337.3,211.9 336.1,211.1 334.1,211.5ZM371.9,200.7 373.8,200.2 372.5,199.8 370.5,200.2ZM278.5,235.7 280.5,234.2 279.5,231.8 277.6,233.1ZM295.9,227.3 297.9,226.5 296.8,225.2 294.9,225.8ZM319.1,220.8 321.1,219.3 319.9,217.5 318.0,218.5ZM291.1,231.7 293.1,230.7 292.1,229.1 290.1,229.9ZM295.0,229.6 296.9,228.9 295.9,227.3 294.0,228.1ZM310.5,225.1 312.5,224.1 311.4,222.5 309.5,223.4ZM349.4,212.7 351.3,211.6 350.0,210.1 348.1,211.1ZM282.3,237.1 284.3,236.4 283.3,234.7 281.4,235.7ZM290.1,234.2 292.1,233.3 291.1,231.7 289.2,232.6ZM317.4,223.7 319.4,223.1 318.3,222.4 316.4,222.7ZM321.4,222.6 323.3,222.0 322.2,220.7 320.2,221.6ZM335.0,218.3 336.9,217.3 335.8,216.2 333.8,216.9Z" fill="#0606a0" fill-opacity="0.28"/><path d="M308.0,163.0 309.6,162.5 308.4,161.4 306.7,162.0ZM298.6,170.3 300.3,169.7 299.1,168.4 297.4,169.1ZM274.3,176.2 276.0,175.5 275.0,174.2 273.3,174.7ZM286.2,174.3 287.9,173.9 286.8,172.5 285.1,173.2ZM293.0,173.0 294.7,172.7 293.5,172.3 291.8,172.3ZM299.8,171.4 301.5,171.0 300.3,169.7 298.6,170.3ZM256.6,182.4 258.3,181.8 257.3,180.1 255.6,180.9ZM275.4,177.9 277.1,177.1 276.0,175.5 274.3,176.2ZM297.5,173.5 299.2,172.9 298.1,171.8 296.4,172.3ZM299.2,172.9 300.9,172.4 299.8,171.4 298.1,171.8ZM340.2,163.4 341.9,163.1 340.5,162.4 338.8,162.9ZM298.7,175.0 300.4,174.2 299.2,172.9 297.5,173.5ZM300.4,174.2 302.1,173.5 300.9,172.4 299.2,172.9ZM302.1,173.5 303.8,172.8 302.7,171.8 300.9,172.4ZM314.1,172.0 315.8,171.5 314.6,170.2 312.9,171.0ZM301.6,175.9 303.3,174.9 302.1,173.5 300.4,174.2ZM342.6,168.2 344.3,167.4 342.9,166.3 341.2,167.1ZM276.1,186.5 277.8,185.8 276.8,184.5 275.0,185.0ZM302.2,181.5 303.9,180.1 302.7,178.0 301.0,179.2ZM277.1,188.1 278.9,187.3 277.8,185.8 276.1,186.5ZM278.9,187.3 280.6,186.6 279.6,185.1 277.8,185.8ZM340.0,172.7 341.8,171.9 340.4,170.8 338.7,171.5ZM276.4,189.9 278.1,189.5 277.1,188.1 275.4,188.8ZM266.8,192.7 268.6,192.2 267.6,191.3 265.8,191.6ZM282.7,190.0 284.5,189.2 283.4,188.1 281.7,188.6ZM289.8,187.5 291.5,187.3 290.4,186.3 288.7,186.8ZM305.6,185.0 307.4,184.5 306.2,183.0 304.5,183.9ZM330.3,178.5 332.1,177.6 330.8,176.0 329.1,177.1ZM282.0,192.2 283.7,191.4 282.7,190.0 280.9,190.6ZM264.4,203.0 266.2,202.3 265.2,200.5 263.4,201.4ZM266.2,202.3 267.9,201.4 267.0,199.4 265.2,200.5ZM265.3,204.1 267.1,203.7 266.2,202.3 264.4,203.0ZM267.1,203.7 268.9,203.0 267.9,201.4 266.2,202.3ZM290.5,196.0 292.3,195.1 291.2,194.1 289.4,194.6ZM312.1,191.1 313.9,190.4 312.7,189.0 310.9,189.9ZM342.6,182.0 344.4,181.2 343.1,180.3 341.3,180.9ZM344.4,181.2 346.2,180.5 344.9,179.8 343.1,180.3ZM280.7,202.8 282.5,201.8 281.5,200.0 279.7,201.1ZM307.8,193.7 309.6,193.3 308.5,192.6 306.7,193.0ZM311.4,192.8 313.2,192.3 312.1,191.1 310.3,191.9ZM305.3,195.9 307.1,195.1 306.0,194.2 304.2,194.7ZM307.1,195.1 309.0,194.6 307.8,193.7 306.0,194.2ZM333.8,189.6 335.6,188.8 334.4,188.2 332.5,188.7ZM346.6,185.3 348.4,184.9 347.1,185.1 345.3,185.0ZM300.2,202.0 302.1,201.3 301.0,199.9 299.2,200.8ZM319.1,199.7 320.9,198.6 319.7,197.1 317.9,198.1ZM361.6,188.8 363.4,187.8 362.1,186.7 360.2,187.7ZM363.4,187.8 365.3,186.8 363.9,185.6 362.1,186.7ZM309.1,204.3 310.9,203.7 309.8,202.7 308.0,203.4ZM364.8,188.7 366.7,187.9 365.3,186.8 363.4,187.8ZM363.8,193.4 365.7,192.4 364.3,191.1 362.4,192.1ZM365.7,192.4 367.5,191.3 366.2,190.0 364.3,191.1ZM287.1,221.1 289.0,220.0 288.0,218.3 286.1,219.3ZM306.0,212.9 307.9,212.2 306.8,210.8 304.9,211.7ZM317.3,210.8 319.2,210.2 318.1,209.2 316.2,209.9ZM341.9,201.4 343.8,200.8 342.5,200.0 340.7,200.7ZM351.4,198.1 353.3,197.1 352.0,195.8 350.1,196.8ZM274.8,224.9 276.7,224.4 275.7,223.5 273.8,224.1ZM290.1,224.0 292.0,224.0 291.0,223.1 289.1,223.7ZM337.3,211.9 339.2,211.2 338.0,210.3 336.1,211.1ZM339.2,211.2 341.1,210.6 339.9,209.3 338.0,210.3ZM373.2,201.3 375.2,200.7 373.8,200.2 371.9,200.7ZM375.2,200.7 377.1,200.0 375.7,199.5 373.8,200.2ZM377.1,200.0 379.0,199.4 377.7,198.6 375.7,199.5ZM293.1,230.7 295.0,229.6 294.0,228.1 292.1,229.1ZM280.4,237.4 282.3,237.1 281.4,235.7 279.5,236.6ZM292.1,233.3 294.0,232.3 293.1,230.7 291.1,231.7ZM294.0,232.3 296.0,231.3 295.0,229.6 293.1,230.7ZM307.7,228.1 309.6,227.1 308.6,226.0 306.6,226.6ZM313.6,225.2 315.5,224.4 314.4,223.2 312.5,224.1ZM319.4,223.1 321.4,222.6 320.2,221.6 318.3,222.4ZM336.9,217.3 338.9,216.4 337.7,215.6 335.8,216.2ZM354.5,211.3 356.5,210.7 355.2,210.0 353.2,210.7Z" fill="#0606a0" fill-opacity="0.42"/><path d="M306.3,163.7 308.0,163.0 306.7,162.0 305.1,162.7ZM336.1,159.1 337.8,158.9 336.4,158.4 334.7,158.8ZM261.4,176.1 263.1,175.9 262.1,175.0 260.5,175.4ZM295.2,171.8 296.9,171.1 295.7,169.9 294.1,170.6ZM284.5,174.7 286.2,174.3 285.1,173.2 283.4,173.9ZM325.2,167.8 326.9,167.0 325.6,165.7 323.9,166.6ZM258.3,181.8 260.0,181.0 259.0,178.8 257.3,180.1ZM260.0,181.0 261.7,179.8 260.7,177.1 259.0,178.8ZM300.9,172.4 302.7,171.8 301.5,171.0 299.8,171.4ZM336.8,165.2 338.5,164.3 337.1,163.5 335.4,164.0ZM303.3,174.9 305.0,173.8 303.8,172.8 302.1,173.5ZM306.7,172.9 308.5,172.4 307.3,171.6 305.6,172.1ZM340.8,169.0 342.6,168.2 341.2,167.1 339.5,167.9ZM277.8,185.8 279.6,185.1 278.5,183.9 276.8,184.5ZM284.8,183.7 286.5,182.8 285.4,181.5 283.7,182.1ZM286.5,182.8 288.3,182.0 287.2,181.1 285.4,181.5ZM284.5,189.2 286.2,188.6 285.2,187.7 283.4,188.1ZM288.0,188.0 289.8,187.5 288.7,186.8 286.9,187.3ZM303.9,185.5 305.6,185.0 304.5,183.9 302.7,184.6ZM289.1,188.7 290.8,188.3 289.8,187.5 288.0,188.0ZM292.3,195.1 294.1,194.4 293.0,193.5 291.2,194.1ZM294.1,194.4 295.9,193.8 294.8,193.1 293.0,193.5ZM309.6,193.3 311.4,192.8 310.3,191.9 308.5,192.6ZM278.1,204.6 279.9,204.2 278.9,203.7 277.1,204.0ZM281.7,203.6 283.5,203.2 282.5,201.8 280.7,202.8ZM335.6,188.8 337.4,188.3 336.2,187.7 334.4,188.2ZM342.9,187.1 344.7,186.2 343.4,185.3 341.6,186.0ZM344.7,186.2 346.6,185.3 345.3,185.0 343.4,185.3ZM348.4,184.9 350.2,184.8 348.9,184.9 347.1,185.1ZM350.2,184.8 352.0,184.8 350.7,184.1 348.9,184.9ZM292.9,205.0 294.7,204.3 293.7,203.7 291.9,204.1ZM305.7,199.8 307.6,198.6 306.4,197.0 304.6,198.1ZM307.6,198.6 309.4,197.4 308.3,195.8 306.4,197.0ZM333.2,191.3 335.0,190.4 333.8,189.6 332.0,190.2ZM323.4,195.3 325.3,194.9 324.1,194.4 322.2,194.8ZM320.9,198.6 322.8,197.5 321.6,196.1 319.7,197.1ZM307.2,205.3 309.1,204.3 308.0,203.4 306.1,204.0ZM362.9,189.4 364.8,188.7 363.4,187.8 361.6,188.8ZM304.6,209.6 306.5,207.8 305.4,206.3 303.5,207.3ZM310.2,204.1 312.1,204.3 310.9,203.7 309.1,204.3ZM307.6,209.6 309.4,208.5 308.3,205.5 306.5,207.8ZM367.0,192.9 368.9,192.3 367.5,191.3 365.7,192.4ZM343.2,202.0 345.0,201.3 343.8,200.8 341.9,201.4ZM282.4,226.7 284.3,225.9 283.3,225.0 281.4,225.6ZM288.1,224.2 290.1,224.0 289.1,223.7 287.2,224.0ZM373.8,200.2 375.7,199.5 374.4,198.9 372.5,199.8ZM281.4,235.7 283.3,234.7 282.4,233.0 280.5,234.2ZM309.6,227.1 311.6,226.1 310.5,225.1 308.6,226.0Z" fill="#0606a0" fill-opacity="0.57"/><path d="M331.0,161.2 332.7,160.4 331.4,159.9 329.7,160.4ZM296.9,171.1 298.6,170.3 297.4,169.1 295.7,169.9ZM254.0,181.3 255.6,180.9 254.7,180.1 253.0,180.5ZM294.7,172.7 296.4,172.3 295.2,171.8 293.5,172.3ZM298.1,171.8 299.8,171.4 298.6,170.3 296.9,171.1ZM313.4,168.8 315.0,167.7 313.8,166.7 312.1,167.4ZM318.4,165.5 320.1,165.5 318.9,165.5 317.2,165.7ZM319.7,165.6 321.4,165.3 320.1,165.5 318.4,165.5ZM338.5,164.3 340.2,163.4 338.8,162.9 337.1,163.5ZM303.8,172.8 305.6,172.1 304.4,171.0 302.7,171.8ZM340.4,170.8 342.2,169.8 340.8,169.0 339.1,169.7ZM345.6,167.6 347.4,167.2 346.0,166.9 344.3,167.4ZM262.3,193.2 264.1,192.3 263.1,191.5 261.4,191.8ZM274.6,190.3 276.4,189.9 275.4,188.8 273.6,189.6ZM329.1,177.1 330.8,176.0 329.5,174.9 327.8,175.7ZM263.3,195.0 265.1,193.8 264.1,192.3 262.3,193.2ZM265.1,193.8 266.8,192.7 265.8,191.6 264.1,192.3ZM286.2,188.6 288.0,188.0 286.9,187.3 285.2,187.7ZM283.7,191.4 285.5,190.4 284.5,189.2 282.7,190.0ZM287.3,189.4 289.1,188.7 288.0,188.0 286.2,188.6ZM308.5,192.6 310.3,191.9 309.1,190.9 307.3,191.8ZM310.3,191.9 312.1,191.1 310.9,189.9 309.1,190.9ZM304.6,198.1 306.4,197.0 305.3,195.9 303.5,196.7ZM298.4,202.8 300.2,202.0 299.2,200.8 297.3,201.8ZM336.9,189.4 338.7,188.6 337.4,188.3 335.6,188.8ZM319.7,197.1 321.6,196.1 320.4,195.5 318.6,196.1ZM301.9,213.0 303.8,211.9 302.7,210.8 300.9,211.6ZM299.3,215.0 301.1,214.1 300.1,213.8 298.2,214.1ZM352.0,195.8 353.8,195.5 352.5,195.5 350.7,196.0ZM363.3,194.2 365.1,193.6 363.8,193.4 361.9,194.0ZM300.3,215.9 302.2,215.0 301.1,214.1 299.3,215.0ZM349.5,199.3 351.4,198.1 350.1,196.8 348.2,198.1ZM331.8,210.7 333.7,210.6 332.5,210.4 330.6,211.0ZM284.3,225.9 286.2,225.0 285.2,224.3 283.3,225.0ZM286.2,225.0 288.1,224.2 287.2,224.0 285.2,224.3ZM375.7,199.5 377.7,198.6 376.3,197.7 374.4,198.9ZM311.6,226.1 313.6,225.2 312.5,224.1 310.5,225.1ZM352.6,212.1 354.5,211.3 353.2,210.7 351.3,211.6Z" fill="#0606a0" fill-opacity="0.71"/><path d="M332.7,160.4 334.4,159.6 333.0,159.4 331.4,159.9ZM334.4,159.6 336.1,159.1 334.7,158.8 333.0,159.4ZM254.7,180.1 256.4,179.2 255.4,177.9 253.7,178.8ZM256.4,179.2 258.1,178.0 257.1,176.8 255.4,177.9ZM258.1,178.0 259.8,176.8 258.8,175.9 257.1,176.8ZM259.8,176.8 261.4,176.1 260.5,175.4 258.8,175.9ZM255.6,180.9 257.3,180.1 256.4,179.2 254.7,180.1ZM257.3,180.1 259.0,178.8 258.1,178.0 256.4,179.2ZM259.0,178.8 260.7,177.1 259.8,176.8 258.1,178.0ZM260.7,177.1 262.4,176.0 261.4,176.1 259.8,176.8ZM262.4,176.0 264.1,176.0 263.1,175.9 261.4,176.1ZM296.4,172.3 298.1,171.8 296.9,171.1 295.2,171.8ZM315.0,167.7 316.7,166.4 315.5,166.1 313.8,166.7ZM316.7,166.4 318.4,165.5 317.2,165.7 315.5,166.1ZM326.9,167.0 328.6,165.9 327.3,164.5 325.6,165.7ZM302.7,171.8 304.4,171.0 303.2,170.5 301.5,171.0ZM304.4,171.0 306.1,170.4 304.9,170.1 303.2,170.5ZM314.6,170.2 316.3,168.7 315.0,167.7 313.4,168.8ZM316.3,168.7 318.0,166.9 316.7,166.4 315.0,167.7ZM318.0,166.9 319.7,165.6 318.4,165.5 316.7,166.4ZM326.5,167.7 328.2,167.5 326.9,167.0 325.2,167.8ZM328.2,167.5 329.9,167.0 328.6,165.9 326.9,167.0ZM315.8,171.5 317.5,170.4 316.3,168.7 314.6,170.2ZM317.5,170.4 319.3,169.1 318.0,166.9 316.3,168.7ZM338.1,166.3 339.8,164.9 338.5,164.3 336.8,165.2ZM339.8,164.9 341.5,163.7 340.2,163.4 338.5,164.3ZM305.0,173.8 306.7,172.9 305.6,172.1 303.8,172.8ZM342.2,169.8 343.9,168.6 342.6,168.2 340.8,169.0ZM343.9,168.6 345.6,167.6 344.3,167.4 342.6,168.2ZM301.6,184.2 303.3,183.0 302.2,181.5 300.4,182.8ZM303.3,183.0 305.1,181.6 303.9,180.1 302.2,181.5ZM329.5,174.9 331.3,173.6 330.0,173.2 328.3,173.8ZM331.3,173.6 333.0,172.9 331.7,172.7 330.0,173.2ZM341.8,171.9 343.5,170.6 342.2,169.8 340.4,170.8ZM343.5,170.6 345.3,168.9 343.9,168.6 342.2,169.8ZM345.3,168.9 347.0,167.2 345.6,167.6 343.9,168.6ZM347.0,167.2 348.8,166.7 347.4,167.2 345.6,167.6ZM264.1,192.3 265.8,191.6 264.9,191.4 263.1,191.5ZM265.8,191.6 267.6,191.3 266.6,191.5 264.9,191.4ZM267.6,191.3 269.4,191.3 268.4,191.6 266.6,191.5ZM269.4,191.3 271.1,191.1 270.1,191.2 268.4,191.6ZM271.1,191.1 272.9,190.7 271.9,190.4 270.1,191.2ZM272.9,190.7 274.6,190.3 273.6,189.6 271.9,190.4ZM302.7,184.6 304.5,183.9 303.3,183.0 301.6,184.2ZM304.5,183.9 306.2,183.0 305.1,181.6 303.3,183.0ZM330.8,176.0 332.6,174.0 331.3,173.6 329.5,174.9ZM332.6,174.0 334.3,173.0 333.0,172.9 331.3,173.6ZM332.1,177.6 333.9,176.2 332.6,174.0 330.8,176.0ZM285.5,190.4 287.3,189.4 286.2,188.6 284.5,189.2ZM347.1,178.4 348.9,178.0 347.6,178.2 345.8,178.5ZM348.9,178.0 350.7,177.4 349.3,177.7 347.6,178.2ZM350.7,177.4 352.5,177.0 351.1,177.3 349.3,177.7ZM352.5,177.0 354.3,176.5 352.9,176.8 351.1,177.3ZM279.9,204.2 281.7,203.6 280.7,202.8 278.9,203.7ZM306.4,197.0 308.3,195.8 307.1,195.1 305.3,195.9ZM308.3,195.8 310.1,195.0 309.0,194.6 307.1,195.1ZM294.7,204.3 296.6,203.6 295.5,202.9 293.7,203.7ZM296.6,203.6 298.4,202.8 297.3,201.8 295.5,202.9ZM335.0,190.4 336.9,189.4 335.6,188.8 333.8,189.6ZM321.6,196.1 323.4,195.3 322.2,194.8 320.4,195.5ZM306.5,207.8 308.3,205.5 307.2,205.3 305.4,206.3ZM308.3,205.5 310.2,204.1 309.1,204.3 307.2,205.3ZM303.8,211.9 305.7,210.7 304.6,209.6 302.7,210.8ZM305.7,210.7 307.6,209.6 306.5,207.8 304.6,209.6ZM301.1,214.1 303.0,213.0 301.9,213.0 300.1,213.8ZM303.0,213.0 304.9,211.7 303.8,211.9 301.9,213.0ZM304.9,211.7 306.8,210.8 305.7,210.7 303.8,211.9ZM306.8,210.8 308.7,210.5 307.6,209.6 305.7,210.7ZM348.2,198.1 350.1,196.8 348.8,196.6 346.9,197.1ZM350.1,196.8 352.0,195.8 350.7,196.0 348.8,196.6ZM365.1,193.6 367.0,192.9 365.7,192.4 363.8,193.4ZM302.2,215.0 304.1,213.9 303.0,213.0 301.1,214.1ZM304.1,213.9 306.0,212.9 304.9,211.7 303.0,213.0ZM332.5,210.4 334.3,208.4 333.1,206.2 331.3,208.3ZM334.3,208.4 336.2,206.3 335.0,204.4 333.1,206.2ZM336.2,206.3 338.1,204.4 336.9,202.9 335.0,204.4ZM338.1,204.4 340.0,202.7 338.8,201.7 336.9,202.9ZM340.0,202.7 341.9,201.4 340.7,200.7 338.8,201.7ZM333.7,210.6 335.6,209.3 334.3,208.4 332.5,210.4ZM335.6,209.3 337.5,207.3 336.2,206.3 334.3,208.4ZM337.5,207.3 339.4,205.1 338.1,204.4 336.2,206.3ZM339.4,205.1 341.3,203.2 340.0,202.7 338.1,204.4ZM341.3,203.2 343.2,202.0 341.9,201.4 340.0,202.7ZM287.2,224.0 289.1,223.7 288.1,223.8 286.2,224.1ZM289.1,223.7 291.0,223.1 290.0,222.3 288.1,223.8ZM291.0,223.1 292.9,222.4 291.9,220.9 290.0,222.3ZM334.9,211.6 336.8,210.5 335.6,209.3 333.7,210.6ZM336.8,210.5 338.7,208.7 337.5,207.3 335.6,209.3ZM338.7,208.7 340.6,206.8 339.4,205.1 337.5,207.3ZM340.6,206.8 342.5,205.2 341.3,203.2 339.4,205.1ZM334.1,211.5 336.1,211.1 334.9,211.6 332.9,211.7ZM336.1,211.1 338.0,210.3 336.8,210.5 334.9,211.6ZM338.0,210.3 339.9,209.3 338.7,208.7 336.8,210.5ZM339.9,209.3 341.8,208.4 340.6,206.8 338.7,208.7ZM279.5,236.6 281.4,235.7 280.5,234.2 278.5,235.7ZM318.3,222.4 320.2,221.6 319.1,220.8 317.2,222.1ZM320.2,221.6 322.2,220.7 321.1,219.3 319.1,220.8ZM346.7,215.9 348.7,214.2 347.4,213.7 345.5,214.7ZM348.7,214.2 350.6,213.1 349.4,212.7 347.4,213.7ZM350.6,213.1 352.6,212.1 351.3,211.6 349.4,212.7Z" fill="#0606a0" fill-opacity="0.85"/><path d="M252.8,176.3 254.5,175.5 253.5,173.0 251.8,173.4ZM271.2,170.8 272.8,170.3 271.8,167.7 270.1,168.3ZM277.9,170.1 279.5,170.0 278.4,168.2 276.8,168.3ZM279.5,170.0 281.2,169.7 280.1,168.0 278.4,168.2ZM287.9,168.5 289.6,168.4 288.4,166.4 286.8,166.7ZM316.3,162.9 318.0,162.7 316.7,161.2 315.0,161.4ZM318.0,162.7 319.7,162.5 318.4,161.0 316.7,161.2ZM319.7,162.5 321.3,162.3 320.0,160.6 318.4,161.0ZM324.7,161.4 326.3,161.0 325.0,159.0 323.4,159.5ZM329.7,160.4 331.4,159.9 330.0,158.3 328.3,158.7ZM334.7,158.8 336.4,158.4 335.0,156.7 333.3,157.0ZM272.2,173.0 273.9,172.6 272.8,170.3 271.2,170.8ZM282.3,172.1 284.0,171.5 282.9,169.4 281.2,169.7ZM294.1,170.6 295.7,169.9 294.6,167.8 292.9,168.3ZM300.8,167.8 302.5,167.3 301.3,165.2 299.6,165.7ZM302.5,167.3 304.1,166.8 302.9,164.7 301.3,165.2ZM304.1,166.8 305.8,166.4 304.6,164.2 302.9,164.7ZM317.6,164.4 319.3,164.3 318.0,162.7 316.3,162.9ZM322.6,164.4 324.3,163.7 323.0,161.9 321.3,162.3ZM251.3,180.4 253.0,180.5 252.1,179.2 250.4,178.9ZM276.6,174.0 278.3,173.9 277.3,172.2 275.6,172.3ZM281.7,174.0 283.4,173.9 282.3,172.1 280.6,172.3ZM305.4,168.6 307.0,168.3 305.8,166.4 304.1,166.8ZM318.9,165.5 320.6,165.7 319.3,164.3 317.6,164.4ZM337.4,160.7 339.1,160.4 337.8,158.9 336.1,159.1ZM277.7,175.3 279.4,175.3 278.3,173.9 276.6,174.0ZM279.4,175.3 281.1,175.3 280.0,173.9 278.3,173.9ZM308.3,169.7 310.0,169.6 308.7,168.2 307.0,168.3ZM333.7,164.5 335.4,164.0 334.1,161.8 332.4,162.6ZM266.8,178.1 268.5,178.1 267.5,177.0 265.8,176.6ZM268.5,178.1 270.2,178.3 269.2,177.1 267.5,177.0ZM270.2,178.3 272.0,178.6 270.9,177.1 269.2,177.1ZM280.5,176.9 282.2,176.9 281.1,175.3 279.4,175.3ZM309.5,171.0 311.2,171.1 310.0,169.6 308.3,169.7ZM311.2,171.1 312.9,171.0 311.7,169.4 310.0,169.6ZM324.8,167.0 326.5,167.7 325.2,167.8 323.5,167.1ZM261.0,183.4 262.7,182.9 261.7,179.8 260.0,181.0ZM278.1,179.1 279.8,178.7 278.8,176.8 277.1,177.1ZM281.6,178.6 283.3,178.4 282.2,176.9 280.5,176.9ZM310.7,172.0 312.4,172.1 311.2,171.1 309.5,171.0ZM326.1,167.6 327.8,167.9 326.5,167.7 324.8,167.0ZM262.0,185.4 263.7,185.1 262.7,182.9 261.0,183.4ZM263.7,185.1 265.4,184.7 264.4,182.3 262.7,182.9ZM265.4,184.7 267.1,184.2 266.1,181.5 264.4,182.3ZM267.1,184.2 268.8,183.6 267.8,180.6 266.1,181.5ZM280.9,180.4 282.6,180.1 281.6,178.6 279.8,178.7ZM294.7,178.1 296.4,177.9 295.3,176.1 293.6,176.4ZM296.4,177.9 298.1,177.6 297.0,175.6 295.3,176.1ZM320.5,171.6 322.2,170.9 321.0,168.0 319.3,169.1ZM330.9,169.2 332.6,169.2 331.3,167.9 329.5,168.0ZM332.6,169.2 334.3,169.1 333.0,167.8 331.3,167.9ZM264.7,186.9 266.4,186.6 265.4,184.7 263.7,185.1ZM266.4,186.6 268.1,186.4 267.1,184.2 265.4,184.7ZM268.1,186.4 269.9,186.1 268.8,183.6 267.1,184.2ZM275.0,185.0 276.8,184.5 275.7,182.3 274.0,182.7ZM278.5,183.9 280.2,183.4 279.2,181.0 277.5,181.6ZM280.2,183.4 282.0,182.8 280.9,180.4 279.2,181.0ZM282.0,182.8 283.7,182.1 282.6,180.1 280.9,180.4ZM294.1,180.1 295.8,180.0 294.7,178.1 293.0,178.4ZM299.3,180.1 301.0,179.2 299.9,176.9 298.1,177.6ZM307.9,175.2 309.7,174.5 308.5,172.4 306.7,172.9ZM316.6,174.1 318.3,174.1 317.1,172.7 315.4,172.8ZM260.4,189.9 262.2,189.5 261.2,187.5 259.5,187.9ZM262.2,189.5 263.9,189.3 262.9,187.2 261.2,187.5ZM269.1,188.6 270.9,188.1 269.9,186.1 268.1,186.4ZM293.5,181.9 295.2,181.7 294.1,180.1 292.4,180.4ZM305.6,179.2 307.4,178.6 306.2,176.1 304.5,177.0ZM319.6,175.7 321.3,175.4 320.0,173.8 318.3,174.1ZM324.8,174.5 326.5,174.2 325.2,172.5 323.5,172.9ZM326.5,174.2 328.3,173.8 327.0,172.1 325.2,172.5ZM331.7,172.7 333.5,172.6 332.2,171.1 330.4,171.3ZM333.5,172.6 335.2,172.4 333.9,170.9 332.2,171.1ZM335.2,172.4 337.0,172.0 335.6,170.6 333.9,170.9ZM257.9,192.5 259.6,192.2 258.7,190.2 256.9,190.6ZM259.6,192.2 261.4,191.8 260.4,189.9 258.7,190.2ZM261.4,191.8 263.1,191.5 262.2,189.5 260.4,189.9ZM270.1,191.2 271.9,190.4 270.9,188.1 269.1,188.6ZM294.6,183.6 296.3,183.4 295.2,181.7 293.5,181.9ZM310.3,179.9 312.1,179.4 310.9,177.4 309.1,178.1ZM312.1,179.4 313.8,179.0 312.6,176.8 310.9,177.4ZM320.8,177.4 322.5,177.0 321.3,175.4 319.6,175.7ZM324.3,176.6 326.0,176.2 324.8,174.5 323.0,174.9ZM326.0,176.2 327.8,175.7 326.5,174.2 324.8,174.5ZM281.7,188.6 283.4,188.1 282.4,186.3 280.6,186.6ZM283.4,188.1 285.2,187.7 284.1,186.0 282.4,186.3ZM288.7,186.8 290.4,186.3 289.3,183.9 287.6,184.6ZM295.7,185.3 297.5,185.0 296.3,183.4 294.6,183.6ZM297.5,185.0 299.2,184.8 298.1,183.4 296.3,183.4ZM315.0,180.7 316.8,180.3 315.6,178.5 313.8,179.0ZM316.8,180.3 318.5,179.8 317.3,178.1 315.6,178.5ZM318.5,179.8 320.3,179.4 319.1,177.8 317.3,178.1ZM320.3,179.4 322.0,179.0 320.8,177.4 319.1,177.8ZM260.7,199.7 262.5,198.9 261.5,196.1 259.8,196.9ZM267.8,195.3 269.6,194.6 268.6,192.2 266.8,192.7ZM271.3,194.2 273.1,193.8 272.1,192.0 270.3,192.1ZM273.1,193.8 274.9,193.5 273.9,191.8 272.1,192.0ZM274.9,193.5 276.7,193.3 275.6,191.5 273.9,191.8ZM276.7,193.3 278.4,193.1 277.4,191.3 275.6,191.5ZM294.4,188.2 296.2,188.4 295.1,187.0 293.3,187.2ZM296.2,188.4 297.9,188.3 296.8,186.8 295.1,187.0ZM297.9,188.3 299.7,188.1 298.6,186.5 296.8,186.8ZM347.6,178.2 349.3,177.7 348.0,176.6 346.2,176.7ZM267.0,199.4 268.8,198.4 267.8,195.3 266.0,196.4ZM306.2,189.1 308.0,188.5 306.8,186.5 305.0,187.0ZM336.5,180.1 338.2,179.9 336.9,178.3 335.2,178.7ZM340.0,179.6 341.8,179.3 340.5,177.9 338.7,178.1ZM341.8,179.3 343.6,179.0 342.3,178.0 340.5,177.9ZM271.5,199.7 273.3,199.3 272.3,196.8 270.5,197.5ZM285.8,195.7 287.6,195.1 286.6,192.9 284.8,193.6ZM287.6,195.1 289.4,194.6 288.4,192.3 286.6,192.9ZM289.4,194.6 291.2,194.1 290.1,191.8 288.4,192.3ZM296.6,192.7 298.4,192.4 297.3,190.6 295.5,190.8ZM298.4,192.4 300.2,192.1 299.0,190.3 297.3,190.6ZM336.0,182.0 337.7,181.6 336.5,180.1 334.7,180.5ZM337.7,181.6 339.5,181.3 338.2,179.9 336.5,180.1ZM301.3,193.4 303.1,193.3 302.0,192.0 300.2,192.1ZM303.1,193.3 304.9,193.2 303.7,192.1 302.0,192.0ZM335.4,184.3 337.2,183.8 336.0,182.0 334.2,182.6ZM337.2,183.8 339.0,183.3 337.7,181.6 336.0,182.0ZM339.0,183.3 340.8,182.7 339.5,181.3 337.7,181.6ZM293.4,197.5 295.2,196.9 294.1,194.4 292.3,195.1ZM302.4,195.1 304.2,194.7 303.1,193.3 301.3,193.4ZM343.9,183.8 345.8,183.3 344.4,181.2 342.6,182.0ZM353.0,181.3 354.8,180.9 353.4,179.6 351.6,179.8ZM267.2,207.4 269.0,207.0 268.1,205.0 266.3,205.3ZM287.2,202.2 289.0,201.6 287.9,199.3 286.1,200.1ZM299.9,198.0 301.7,197.4 300.6,195.5 298.8,195.9ZM348.9,184.9 350.7,184.1 349.4,182.0 347.6,182.7ZM354.3,182.9 356.1,182.4 354.8,180.9 353.0,181.3ZM266.3,209.7 268.2,209.3 267.2,207.4 265.4,207.7ZM286.4,204.4 288.2,204.2 287.2,202.2 285.4,202.8ZM295.5,202.9 297.3,201.8 296.2,199.4 294.4,200.2ZM313.7,195.2 315.6,195.2 314.4,193.8 312.6,194.1ZM289.2,205.5 291.1,205.4 290.0,204.2 288.2,204.2ZM342.4,188.7 344.2,188.7 342.9,187.1 341.1,187.7ZM344.2,188.7 346.0,188.4 344.7,186.2 342.9,187.1ZM358.9,185.7 360.7,184.9 359.3,183.2 357.5,183.8ZM316.1,198.7 317.9,198.1 316.7,196.6 314.9,196.8ZM345.5,190.3 347.3,190.0 346.0,188.4 344.2,188.7ZM347.3,190.0 349.2,189.5 347.9,187.9 346.0,188.4ZM349.2,189.5 351.0,189.0 349.7,187.4 347.9,187.9ZM351.0,189.0 352.9,188.5 351.5,187.0 349.7,187.4ZM291.3,207.9 293.2,207.8 292.1,206.6 290.3,206.6ZM315.4,201.1 317.2,200.5 316.1,198.7 314.2,199.1ZM330.2,196.1 332.0,195.8 330.8,194.2 328.9,194.6ZM332.0,195.8 333.9,195.4 332.6,193.6 330.8,194.2ZM333.9,195.4 335.7,195.0 334.5,193.1 332.6,193.6ZM335.7,195.0 337.5,194.5 336.3,192.4 334.5,193.1ZM346.8,191.9 348.6,191.4 347.3,190.0 345.5,190.3ZM354.2,189.9 356.0,189.5 354.7,188.2 352.9,188.5ZM283.1,213.0 284.9,212.5 283.9,210.3 282.1,211.0ZM297.9,209.3 299.8,208.8 298.7,206.7 296.9,207.3ZM299.8,208.8 301.7,208.1 300.6,206.0 298.7,206.7ZM316.5,202.7 318.4,202.3 317.2,200.5 315.4,201.1ZM318.4,202.3 320.2,201.9 319.1,199.7 317.2,200.5ZM333.2,197.5 335.1,197.0 333.9,195.4 332.0,195.8ZM335.1,197.0 336.9,196.5 335.7,195.0 333.9,195.4ZM340.7,195.5 342.5,195.0 341.2,193.4 339.4,193.9ZM342.5,195.0 344.4,194.4 343.1,192.9 341.2,193.4ZM344.4,194.4 346.2,193.9 344.9,192.4 343.1,192.9ZM355.5,191.2 357.4,190.8 356.0,189.5 354.2,189.9ZM357.4,190.8 359.2,190.4 357.9,189.4 356.0,189.5ZM284.1,214.9 285.9,214.4 284.9,212.5 283.1,213.0ZM285.9,214.4 287.8,214.0 286.8,212.0 284.9,212.5ZM287.8,214.0 289.7,213.5 288.7,211.6 286.8,212.0ZM289.7,213.5 291.5,213.0 290.5,211.1 288.7,211.6ZM291.5,213.0 293.4,212.6 292.4,210.6 290.5,211.1ZM312.1,204.3 313.9,204.7 312.8,203.3 310.9,203.7ZM330.7,200.6 332.6,199.9 331.4,198.0 329.5,198.5ZM355.0,193.1 356.8,192.8 355.5,191.2 353.7,191.7ZM362.4,192.1 364.3,191.1 362.9,189.4 361.1,190.0ZM272.0,220.5 273.8,220.0 272.9,217.8 271.0,218.4ZM279.5,218.7 281.3,218.2 280.3,216.0 278.5,216.5ZM281.3,218.2 283.2,217.6 282.2,215.4 280.3,216.0ZM283.2,217.6 285.1,217.0 284.1,214.9 282.2,215.4ZM285.1,217.0 286.9,216.5 285.9,214.4 284.1,214.9ZM286.9,216.5 288.8,215.9 287.8,214.0 285.9,214.4ZM292.6,214.6 294.4,214.3 293.4,212.6 291.5,213.0ZM356.3,194.5 358.2,194.2 356.8,192.8 355.0,193.1ZM295.5,215.8 297.4,215.4 296.3,214.2 294.4,214.3ZM342.5,200.0 344.4,199.5 343.2,198.1 341.3,198.5ZM309.8,211.8 311.7,211.7 310.5,210.4 308.7,210.5ZM311.7,211.7 313.5,211.6 312.4,210.5 310.5,210.4ZM323.0,209.3 324.9,209.1 323.7,208.2 321.8,208.2ZM358.9,197.0 360.8,196.6 359.5,195.2 357.6,195.6ZM282.4,223.8 284.3,223.7 283.3,222.0 281.4,222.3ZM314.7,213.2 316.6,212.7 315.4,211.3 313.5,211.6ZM328.0,209.7 329.9,210.0 328.7,210.1 326.8,209.3ZM329.9,210.0 331.8,210.7 330.6,211.0 328.7,210.1ZM348.8,201.2 350.7,201.0 349.5,199.3 347.6,200.0ZM350.7,201.0 352.6,200.6 351.4,198.1 349.5,199.3ZM360.2,198.6 362.1,198.0 360.8,196.6 358.9,197.0ZM275.7,226.1 277.6,226.1 276.7,224.4 274.8,224.9ZM279.5,226.0 281.4,225.6 280.5,224.1 278.6,224.3ZM306.2,218.0 308.1,217.4 307.1,215.2 305.2,216.0ZM308.1,217.4 310.1,216.8 309.0,214.6 307.1,215.2ZM313.9,215.6 315.8,215.0 314.7,213.2 312.8,213.6ZM315.8,215.0 317.7,214.4 316.6,212.7 314.7,213.2ZM327.2,211.3 329.1,211.0 328.0,209.7 326.1,209.9ZM332.9,211.7 334.9,211.6 333.7,210.6 331.8,210.7ZM352.0,202.4 353.9,202.0 352.6,200.6 350.7,201.0ZM363.5,199.4 365.4,198.9 364.0,197.4 362.1,198.0ZM365.4,198.9 367.3,198.5 365.9,196.8 364.0,197.4ZM373.0,196.7 374.9,195.9 373.5,194.3 371.6,194.9ZM278.6,228.1 280.5,227.5 279.5,226.0 277.6,226.1ZM309.2,219.1 311.1,218.7 310.1,216.8 308.1,217.4ZM313.1,218.2 315.0,217.5 313.9,215.6 312.0,216.2ZM330.3,212.3 332.2,211.9 331.0,211.2 329.1,211.0ZM351.4,204.6 353.3,203.9 352.0,202.4 350.1,202.8ZM362.9,201.2 364.8,200.8 363.5,199.4 361.6,199.9ZM294.9,225.8 296.8,225.2 295.8,223.6 293.9,223.9ZM310.3,220.7 312.2,220.4 311.1,218.7 309.2,219.1ZM345.0,209.2 346.9,208.5 345.6,206.7 343.7,207.5ZM346.9,208.5 348.8,207.9 347.5,206.0 345.6,206.7ZM348.8,207.9 350.7,207.2 349.5,205.3 347.5,206.0ZM350.7,207.2 352.6,206.5 351.4,204.6 349.5,205.3ZM352.6,206.5 354.6,205.8 353.3,203.9 351.4,204.6ZM354.6,205.8 356.5,205.2 355.2,203.3 353.3,203.9ZM360.3,203.9 362.3,203.3 361.0,201.7 359.0,202.2ZM362.3,203.3 364.2,202.7 362.9,201.2 361.0,201.7ZM364.2,202.7 366.1,202.1 364.8,200.8 362.9,201.2ZM284.3,232.1 286.3,231.4 285.3,228.9 283.4,229.7ZM290.1,229.9 292.1,229.1 291.1,226.8 289.1,227.4ZM301.7,225.6 303.7,225.3 302.6,223.5 300.7,224.1ZM303.7,225.3 305.6,224.8 304.5,222.8 302.6,223.5ZM305.6,224.8 307.5,224.2 306.5,222.1 304.5,222.8ZM311.4,222.5 313.3,221.9 312.2,220.4 310.3,220.7ZM336.5,214.0 338.5,213.5 337.3,211.9 335.3,212.5ZM355.8,207.8 357.8,207.0 356.5,205.2 354.6,205.8ZM357.8,207.0 359.7,206.2 358.4,204.5 356.5,205.2ZM296.9,228.9 298.9,228.5 297.9,226.5 295.9,227.3ZM304.7,227.1 306.6,226.6 305.6,224.8 303.7,225.3ZM337.7,215.6 339.7,215.2 338.5,213.5 336.5,214.0ZM345.5,214.7 347.4,213.7 346.2,212.0 344.3,212.6ZM296.0,231.3 297.9,230.9 296.9,228.9 295.0,229.6ZM303.8,230.0 305.8,229.0 304.7,227.1 302.8,227.5ZM358.4,210.4 360.4,210.2 359.1,208.5 357.1,209.3ZM360.4,210.2 362.3,209.7 361.0,207.7 359.1,208.5ZM362.3,209.7 364.2,208.9 362.9,206.9 361.0,207.7ZM364.2,208.9 366.2,207.9 364.9,206.1 362.9,206.9Z" fill="#4a6cff" fill-opacity="0.06"/><path d="M301.3,165.2 302.9,164.7 301.7,162.9 300.1,162.9ZM311.3,162.4 313.0,162.6 311.7,161.3 310.0,161.2ZM314.6,162.9 316.3,162.9 315.0,161.4 313.4,161.4ZM326.3,161.0 328.0,160.7 326.7,158.8 325.0,159.0ZM328.0,160.7 329.7,160.4 328.3,158.7 326.7,158.8ZM273.9,172.6 275.6,172.3 274.5,170.2 272.8,170.3ZM287.3,170.5 289.0,170.4 287.9,168.5 286.2,168.7ZM315.9,164.6 317.6,164.4 316.3,162.9 314.6,162.9ZM278.3,173.9 280.0,173.9 278.9,172.2 277.3,172.2ZM288.5,172.1 290.2,172.1 289.0,170.4 287.3,170.5ZM291.8,172.3 293.5,172.3 292.4,170.8 290.7,170.6ZM308.7,168.2 310.4,167.9 309.2,166.0 307.5,166.3ZM335.4,164.0 337.1,163.5 335.8,161.1 334.1,161.8ZM278.8,176.8 280.5,176.9 279.4,175.3 277.7,175.3ZM266.1,181.5 267.8,180.6 266.8,178.1 265.1,178.4ZM267.8,180.6 269.6,180.0 268.5,178.1 266.8,178.1ZM273.0,180.4 274.7,180.3 273.7,178.5 272.0,178.6ZM279.8,178.7 281.6,178.6 280.5,176.9 278.8,176.8ZM307.3,171.6 309.0,171.8 307.8,170.6 306.1,170.4ZM309.0,171.8 310.7,172.0 309.5,171.0 307.8,170.6ZM274.0,182.7 275.7,182.3 274.7,180.3 273.0,180.4ZM329.1,169.2 330.9,169.2 329.5,168.0 327.8,167.9ZM309.7,174.5 311.4,174.0 310.2,172.3 308.5,172.4ZM314.9,174.0 316.6,174.1 315.4,172.8 313.6,172.7ZM323.5,172.9 325.2,172.5 324.0,170.3 322.2,170.9ZM333.9,170.9 335.6,170.6 334.3,169.1 332.6,169.2ZM263.9,189.3 265.6,189.1 264.7,186.9 262.9,187.2ZM267.4,188.9 269.1,188.6 268.1,186.4 266.4,186.6ZM307.4,178.6 309.1,178.1 307.9,175.2 306.2,176.1ZM263.1,191.5 264.9,191.4 263.9,189.3 262.2,189.5ZM289.3,183.9 291.1,183.7 290.0,181.8 288.3,182.0ZM292.8,183.7 294.6,183.6 293.5,181.9 291.7,182.0ZM296.3,183.4 298.1,183.4 296.9,181.8 295.2,181.7ZM313.8,179.0 315.6,178.5 314.3,176.4 312.6,176.8ZM319.1,177.8 320.8,177.4 319.6,175.7 317.8,175.9ZM293.9,185.7 295.7,185.3 294.6,183.6 292.8,183.7ZM299.2,184.8 301.0,184.8 299.8,184.0 298.1,183.4ZM269.6,194.6 271.3,194.2 270.3,192.1 268.6,192.2ZM268.8,198.4 270.5,197.5 269.6,194.6 267.8,195.3ZM279.4,195.5 281.2,194.9 280.2,192.7 278.4,193.1ZM286.6,192.9 288.4,192.3 287.3,189.4 285.5,190.4ZM299.0,190.3 300.8,190.0 299.7,188.1 297.9,188.3ZM300.8,190.0 302.6,189.8 301.5,187.8 299.7,188.1ZM302.6,189.8 304.4,189.5 303.2,187.4 301.5,187.8ZM304.4,189.5 306.2,189.1 305.0,187.0 303.2,187.4ZM338.2,179.9 340.0,179.6 338.7,178.1 336.9,178.3ZM291.2,194.1 293.0,193.5 291.9,191.4 290.1,191.8ZM293.0,193.5 294.8,193.1 293.7,191.1 291.9,191.4ZM294.8,193.1 296.6,192.7 295.5,190.8 293.7,191.1ZM300.2,192.1 302.0,192.0 300.8,190.0 299.0,190.3ZM307.3,191.8 309.1,190.9 308.0,188.5 306.2,189.1ZM277.9,201.8 279.7,201.1 278.7,198.8 276.9,199.1ZM277.1,204.0 278.9,203.7 277.9,201.8 276.1,202.0ZM300.6,195.5 302.4,195.1 301.3,193.4 299.5,193.5ZM345.8,183.3 347.6,182.7 346.2,180.5 344.4,181.2ZM347.6,182.7 349.4,182.0 348.0,180.1 346.2,180.5ZM351.2,181.6 353.0,181.3 351.6,179.8 349.8,180.0ZM296.2,199.4 298.1,198.7 297.0,196.4 295.2,196.9ZM298.1,198.7 299.9,198.0 298.8,195.9 297.0,196.4ZM350.7,184.1 352.5,183.4 351.2,181.6 349.4,182.0ZM352.5,183.4 354.3,182.9 353.0,181.3 351.2,181.6ZM314.9,196.8 316.7,196.6 315.6,195.2 313.7,195.2ZM357.0,186.2 358.9,185.7 357.5,183.8 355.7,184.3ZM338.1,191.5 340.0,190.8 338.7,188.6 336.9,189.4ZM352.9,188.5 354.7,188.2 353.4,186.7 351.5,187.0ZM311.7,202.2 313.5,201.6 312.4,199.5 310.5,200.1ZM313.5,201.6 315.4,201.1 314.2,199.1 312.4,199.5ZM326.5,196.3 328.3,196.3 327.1,194.8 325.3,194.9ZM328.3,196.3 330.2,196.1 328.9,194.6 327.1,194.8ZM337.5,194.5 339.4,193.9 338.1,191.5 336.3,192.4ZM356.0,189.5 357.9,189.4 356.5,188.2 354.7,188.2ZM357.9,189.4 359.7,189.3 358.4,188.2 356.5,188.2ZM284.9,212.5 286.8,212.0 285.8,209.5 283.9,210.3ZM296.1,209.7 297.9,209.3 296.9,207.3 295.0,207.6ZM320.2,201.9 322.1,201.4 320.9,198.6 319.1,199.7ZM331.4,198.0 333.2,197.5 332.0,195.8 330.2,196.1ZM328.9,201.6 330.7,200.6 329.5,198.5 327.7,198.9ZM277.6,219.2 279.5,218.7 278.5,216.5 276.6,217.0ZM294.4,214.3 296.3,214.2 295.3,212.4 293.4,212.6ZM298.2,214.1 300.1,213.8 299.0,212.1 297.1,212.3ZM272.9,222.8 274.8,222.4 273.8,220.0 272.0,220.5ZM276.7,221.9 278.5,221.4 277.6,219.2 275.7,219.6ZM278.5,221.4 280.4,221.0 279.5,218.7 277.6,219.2ZM284.2,220.2 286.1,219.3 285.1,217.0 283.2,217.6ZM321.8,208.2 323.7,208.2 322.6,206.8 320.7,207.0ZM331.3,208.3 333.1,206.2 331.9,202.9 330.1,204.2ZM324.9,209.1 326.8,209.3 325.6,208.3 323.7,208.2ZM353.3,197.1 355.1,196.9 353.8,195.5 352.0,195.8ZM307.1,215.2 309.0,214.6 307.9,212.2 306.0,212.9ZM312.8,213.6 314.7,213.2 313.5,211.6 311.7,211.7ZM277.6,226.1 279.5,226.0 278.6,224.3 276.7,224.4ZM310.1,216.8 312.0,216.2 310.9,214.1 309.0,214.6ZM312.0,216.2 313.9,215.6 312.8,213.6 310.9,214.1ZM350.1,202.8 352.0,202.4 350.7,201.0 348.8,201.2ZM367.3,198.5 369.2,198.0 367.8,196.1 365.9,196.8ZM369.2,198.0 371.1,197.5 369.7,195.5 367.8,196.1ZM371.1,197.5 373.0,196.7 371.6,194.9 369.7,195.5ZM311.1,218.7 313.1,218.2 312.0,216.2 310.1,216.8ZM343.7,207.5 345.6,206.7 344.4,204.2 342.5,205.2ZM364.8,200.8 366.7,200.5 365.4,198.9 363.5,199.4ZM372.5,199.8 374.4,198.9 373.0,196.7 371.1,197.5ZM314.2,220.3 316.1,219.7 315.0,217.5 313.1,218.2ZM356.5,205.2 358.4,204.5 357.1,202.7 355.2,203.3ZM358.4,204.5 360.3,203.9 359.0,202.2 357.1,202.7ZM286.3,231.4 288.2,230.7 287.2,228.1 285.3,228.9ZM288.2,230.7 290.1,229.9 289.1,227.4 287.2,228.1ZM338.5,213.5 340.4,213.1 339.2,211.2 337.3,211.9ZM348.1,211.1 350.0,210.1 348.8,207.9 346.9,208.5ZM350.0,210.1 352.0,209.2 350.7,207.2 348.8,207.9ZM352.0,209.2 353.9,208.5 352.6,206.5 350.7,207.2ZM353.9,208.5 355.8,207.8 354.6,205.8 352.6,206.5ZM298.9,228.5 300.8,228.1 299.8,225.9 297.9,226.5ZM300.8,228.1 302.8,227.5 301.7,225.6 299.8,225.9ZM302.8,227.5 304.7,227.1 303.7,225.3 301.7,225.6Z" fill="#4a6cff" fill-opacity="0.13"/><path d="M289.6,168.4 291.2,168.4 290.1,166.0 288.4,166.4ZM294.6,167.8 296.3,167.1 295.1,164.1 293.4,164.8ZM296.3,167.1 297.9,166.3 296.7,163.5 295.1,164.1ZM297.9,166.3 299.6,165.7 298.4,163.1 296.7,163.5ZM299.6,165.7 301.3,165.2 300.1,162.9 298.4,163.1ZM313.0,162.6 314.6,162.9 313.4,161.4 311.7,161.3ZM252.1,179.2 253.7,178.8 252.8,176.3 251.1,176.6ZM275.6,172.3 277.3,172.2 276.2,170.2 274.5,170.2ZM277.3,172.2 278.9,172.2 277.9,170.1 276.2,170.2ZM280.6,172.3 282.3,172.1 281.2,169.7 279.5,170.0ZM319.3,164.3 320.9,164.4 319.7,162.5 318.0,162.7ZM320.9,164.4 322.6,164.4 321.3,162.3 319.7,162.5ZM280.0,173.9 281.7,174.0 280.6,172.3 278.9,172.2ZM290.2,172.1 291.8,172.3 290.7,170.6 289.0,170.4ZM307.0,168.3 308.7,168.2 307.5,166.3 305.8,166.4ZM337.1,163.5 338.8,162.9 337.4,160.7 335.8,161.1ZM338.8,162.9 340.5,162.4 339.1,160.4 337.4,160.7ZM323.1,165.9 324.8,167.0 323.5,167.1 321.8,166.0ZM262.7,182.9 264.4,182.3 263.4,178.9 261.7,179.8ZM321.0,168.0 322.7,167.4 321.4,165.3 319.7,165.6ZM327.4,169.4 329.1,169.2 327.8,167.9 326.1,167.6ZM269.9,186.1 271.6,185.7 270.6,183.1 268.8,183.6ZM273.3,185.4 275.0,185.0 274.0,182.7 272.3,182.9ZM311.4,174.0 313.1,173.9 311.9,172.4 310.2,172.3ZM313.1,173.9 314.9,174.0 313.6,172.7 311.9,172.4ZM325.2,172.5 327.0,172.1 325.7,169.8 324.0,170.3ZM327.0,172.1 328.7,171.6 327.4,169.4 325.7,169.8ZM332.2,171.1 333.9,170.9 332.6,169.2 330.9,169.2ZM265.6,189.1 267.4,188.9 266.4,186.6 264.7,186.9ZM295.2,181.7 296.9,181.8 295.8,180.0 294.1,180.1ZM317.8,175.9 319.6,175.7 318.3,174.1 316.6,174.1ZM299.8,184.0 301.6,184.2 300.4,182.8 298.7,182.5ZM315.6,178.5 317.3,178.1 316.1,176.1 314.3,176.4ZM317.3,178.1 319.1,177.8 317.8,175.9 316.1,176.1ZM290.4,186.3 292.2,186.0 291.1,183.7 289.3,183.9ZM346.6,172.0 348.4,171.0 347.0,167.2 345.3,168.9ZM270.5,197.5 272.3,196.8 271.3,194.2 269.6,194.6ZM278.7,198.8 280.5,198.0 279.4,195.5 277.7,195.9ZM295.2,196.9 297.0,196.4 295.9,193.8 294.1,194.4ZM349.4,182.0 351.2,181.6 349.8,180.0 348.0,180.1ZM265.4,207.7 267.2,207.4 266.3,205.3 264.4,205.4ZM289.0,201.6 290.8,201.2 289.7,198.7 287.9,199.3ZM290.8,201.2 292.6,200.8 291.6,198.1 289.7,198.7ZM292.6,200.8 294.4,200.2 293.4,197.5 291.6,198.1ZM294.4,200.2 296.2,199.4 295.2,196.9 293.4,197.5ZM345.3,185.0 347.1,185.1 345.8,183.3 343.9,183.8ZM347.1,185.1 348.9,184.9 347.6,182.7 345.8,183.3ZM293.7,203.7 295.5,202.9 294.4,200.2 292.6,200.8ZM311.2,196.7 313.1,196.6 311.9,195.0 310.1,195.0ZM346.0,188.4 347.9,187.9 346.6,185.3 344.7,186.2ZM358.4,188.2 360.2,187.7 358.9,185.7 357.0,186.2ZM344.9,192.4 346.8,191.9 345.5,190.3 343.7,190.5ZM286.8,212.0 288.7,211.6 287.6,208.7 285.8,209.5ZM322.1,201.4 323.9,200.6 322.8,197.5 320.9,198.6ZM293.4,212.6 295.3,212.4 294.2,210.1 292.4,210.6ZM300.9,211.6 302.7,210.8 301.7,208.1 299.8,208.8ZM313.9,204.7 315.8,204.9 314.7,203.0 312.8,203.3ZM327.0,203.0 328.9,201.6 327.7,198.9 325.8,199.7ZM273.8,220.0 275.7,219.6 274.7,217.3 272.9,217.8ZM275.7,219.6 277.6,219.2 276.6,217.0 274.7,217.3ZM358.2,194.2 360.0,194.1 358.7,192.7 356.8,192.8ZM360.0,194.1 361.9,194.0 360.6,192.6 358.7,192.7ZM274.8,222.4 276.7,221.9 275.7,219.6 273.8,220.0ZM280.4,221.0 282.3,220.6 281.3,218.2 279.5,218.7ZM282.3,220.6 284.2,220.2 283.2,217.6 281.3,218.2ZM323.7,208.2 325.6,208.3 324.4,206.5 322.6,206.8ZM357.0,197.0 358.9,197.0 357.6,195.6 355.7,195.7ZM344.4,204.2 346.3,203.5 345.0,201.3 343.2,202.0ZM349.5,205.3 351.4,204.6 350.1,202.8 348.2,203.2ZM293.0,226.4 294.9,225.8 293.9,223.9 292.0,224.0ZM301.8,230.9 303.8,230.0 302.8,227.5 300.8,228.1Z" fill="#4a6cff" fill-opacity="0.19"/><path d="M251.1,176.6 252.8,176.3 251.8,173.4 250.2,173.8ZM276.2,170.2 277.9,170.1 276.8,168.3 275.1,168.0ZM291.2,168.4 292.9,168.3 291.8,165.5 290.1,166.0ZM292.9,168.3 294.6,167.8 293.4,164.8 291.8,165.5ZM278.9,172.2 280.6,172.3 279.5,170.0 277.9,170.1ZM289.0,170.4 290.7,170.6 289.6,168.4 287.9,168.5ZM292.4,170.8 294.1,170.6 292.9,168.3 291.2,168.4ZM305.8,166.4 307.5,166.3 306.3,163.7 304.6,164.2ZM307.5,166.3 309.2,166.0 308.0,163.0 306.3,163.7ZM314.2,164.8 315.9,164.6 314.6,162.9 313.0,162.6ZM321.8,166.0 323.5,167.1 322.2,166.3 320.6,165.7ZM323.5,167.1 325.2,167.8 323.9,166.6 322.2,166.3ZM263.4,178.9 265.1,178.4 264.1,176.0 262.4,176.0ZM265.1,178.4 266.8,178.1 265.8,176.6 264.1,176.0ZM264.4,182.3 266.1,181.5 265.1,178.4 263.4,178.9ZM269.6,180.0 271.3,180.2 270.2,178.3 268.5,178.1ZM271.3,180.2 273.0,180.4 272.0,178.6 270.2,178.3ZM268.8,183.6 270.6,183.1 269.6,180.0 267.8,180.6ZM271.6,185.7 273.3,185.4 272.3,182.9 270.6,183.1ZM295.8,180.0 297.5,180.2 296.4,177.9 294.7,178.1ZM328.7,171.6 330.4,171.3 329.1,169.2 327.4,169.4ZM330.4,171.3 332.2,171.1 330.9,169.2 329.1,169.2ZM309.1,178.1 310.9,177.4 309.7,174.5 307.9,175.2ZM316.1,176.1 317.8,175.9 316.6,174.1 314.9,174.0ZM268.4,191.6 270.1,191.2 269.1,188.6 267.4,188.9ZM291.1,183.7 292.8,183.7 291.7,182.0 290.0,181.8ZM292.2,186.0 293.9,185.7 292.8,183.7 291.1,183.7ZM339.2,175.4 340.9,175.6 339.6,173.8 337.8,173.8ZM335.2,178.7 336.9,178.3 335.6,175.3 333.9,176.2ZM345.8,178.5 347.6,178.2 346.2,176.7 344.5,176.6ZM272.3,196.8 274.1,196.4 273.1,193.8 271.3,194.2ZM277.7,195.9 279.4,195.5 278.4,193.1 276.7,193.3ZM288.4,192.3 290.1,191.8 289.1,188.7 287.3,189.4ZM297.3,190.6 299.0,190.3 297.9,188.3 296.2,188.4ZM302.0,192.0 303.7,192.1 302.6,189.8 300.8,190.0ZM272.5,201.9 274.3,201.8 273.3,199.3 271.5,199.7ZM273.5,203.7 275.3,203.8 274.3,201.8 272.5,201.9ZM297.0,196.4 298.8,195.9 297.7,193.6 295.9,193.8ZM298.8,195.9 300.6,195.5 299.5,193.5 297.7,193.6ZM288.2,204.2 290.0,204.2 289.0,201.6 287.2,202.2ZM313.1,196.6 314.9,196.8 313.7,195.2 311.9,195.0ZM353.4,186.7 355.2,186.5 353.9,184.6 352.0,184.8ZM355.2,186.5 357.0,186.2 355.7,184.3 353.9,184.6ZM310.5,200.1 312.4,199.5 311.2,196.7 309.4,197.4ZM343.7,190.5 345.5,190.3 344.2,188.7 342.4,188.7ZM354.7,188.2 356.5,188.2 355.2,186.5 353.4,186.7ZM339.4,193.9 341.2,193.4 340.0,190.8 338.1,191.5ZM294.2,210.1 296.1,209.7 295.0,207.6 293.2,207.8ZM323.9,200.6 325.8,199.7 324.6,196.6 322.8,197.5ZM329.5,198.5 331.4,198.0 330.2,196.1 328.3,196.3ZM315.8,204.9 317.7,204.8 316.5,202.7 314.7,203.0ZM356.8,192.8 358.7,192.7 357.4,190.8 355.5,191.2ZM360.6,192.6 362.4,192.1 361.1,190.0 359.2,190.4ZM296.3,214.2 298.2,214.1 297.1,212.3 295.3,212.4ZM322.6,206.8 324.4,206.5 323.3,204.9 321.4,204.8ZM314.3,210.3 316.2,209.9 315.1,208.1 313.2,208.1ZM286.2,224.1 288.1,223.8 287.1,221.1 285.2,221.8ZM309.0,214.6 310.9,214.1 309.8,211.8 307.9,212.2ZM310.9,214.1 312.8,213.6 311.7,211.7 309.8,211.8ZM358.3,199.1 360.2,198.6 358.9,197.0 357.0,197.0ZM329.1,211.0 331.0,211.2 329.9,210.0 328.0,209.7ZM276.6,228.7 278.6,228.1 277.6,226.1 275.7,226.1ZM345.6,206.7 347.5,206.0 346.3,203.5 344.4,204.2ZM347.5,206.0 349.5,205.3 348.2,203.2 346.3,203.5ZM366.7,200.5 368.6,200.3 367.3,198.5 365.4,198.9ZM281.4,230.7 283.4,229.7 282.4,226.7 280.5,227.5ZM283.4,229.7 285.3,228.9 284.3,225.9 282.4,226.7ZM285.3,228.9 287.2,228.1 286.2,225.0 284.3,225.9ZM312.2,220.4 314.2,220.3 313.1,218.2 311.1,218.7ZM315.3,222.1 317.2,222.1 316.1,219.7 314.2,220.3ZM340.4,213.1 342.3,212.9 341.1,210.6 339.2,211.2ZM346.2,212.0 348.1,211.1 346.9,208.5 345.0,209.2Z" fill="#4a6cff" fill-opacity="0.26"/><path d="M249.4,176.5 251.1,176.6 250.2,173.8 248.5,173.9ZM272.8,170.3 274.5,170.2 273.5,167.7 271.8,167.7ZM309.2,166.0 310.9,165.5 309.6,162.5 308.0,163.0ZM320.6,165.7 322.2,166.3 320.9,164.4 319.3,164.3ZM324.4,167.4 326.1,167.6 324.8,167.0 323.1,165.9ZM322.2,170.9 324.0,170.3 322.7,167.4 321.0,168.0ZM325.7,169.8 327.4,169.4 326.1,167.6 324.4,167.4ZM297.5,180.2 299.3,180.1 298.1,177.6 296.4,177.9ZM310.9,177.4 312.6,176.8 311.4,174.0 309.7,174.5ZM314.3,176.4 316.1,176.1 314.9,174.0 313.1,173.9ZM264.9,191.4 266.6,191.5 265.6,189.1 263.9,189.3ZM274.1,196.4 275.9,196.2 274.9,193.5 273.1,193.8ZM275.9,196.2 277.7,195.9 276.7,193.3 274.9,193.5ZM273.3,199.3 275.1,199.2 274.1,196.4 272.3,196.8ZM305.5,192.1 307.3,191.8 306.2,189.1 304.4,189.5ZM275.3,203.8 277.1,204.0 276.1,202.0 274.3,201.8ZM351.5,187.0 353.4,186.7 352.0,184.8 350.2,184.8ZM314.2,199.1 316.1,198.7 314.9,196.8 313.1,196.6ZM340.0,190.8 341.8,190.6 340.5,188.5 338.7,188.6ZM356.5,188.2 358.4,188.2 357.0,186.2 355.2,186.5ZM341.2,193.4 343.1,192.9 341.8,190.6 340.0,190.8ZM343.1,192.9 344.9,192.4 343.7,190.5 341.8,190.6ZM288.7,211.6 290.5,211.1 289.5,208.2 287.6,208.7ZM292.4,210.6 294.2,210.1 293.2,207.8 291.3,207.9ZM295.3,212.4 297.1,212.3 296.1,209.7 294.2,210.1ZM299.0,212.1 300.9,211.6 299.8,208.8 297.9,209.3ZM317.7,204.8 319.5,204.7 318.4,202.3 316.5,202.7ZM325.1,204.3 327.0,203.0 325.8,199.7 323.9,200.6ZM358.7,192.7 360.6,192.6 359.2,190.4 357.4,190.8ZM309.4,208.5 311.3,208.0 310.2,204.1 308.3,205.5ZM310.5,210.4 312.4,210.5 311.3,208.0 309.4,208.5ZM355.1,196.9 357.0,197.0 355.7,195.7 353.8,195.5ZM284.3,223.7 286.2,224.1 285.2,221.8 283.3,222.0ZM352.6,200.6 354.5,200.1 353.3,197.1 351.4,198.1ZM346.3,203.5 348.2,203.2 346.9,201.2 345.0,201.3ZM348.2,203.2 350.1,202.8 348.8,201.2 346.9,201.2ZM368.6,200.3 370.5,200.2 369.2,198.0 367.3,198.5ZM370.5,200.2 372.5,199.8 371.1,197.5 369.2,198.0ZM279.5,231.8 281.4,230.7 280.5,227.5 278.6,228.1ZM287.2,228.1 289.1,227.4 288.1,224.2 286.2,225.0ZM313.3,221.9 315.3,222.1 314.2,220.3 312.2,220.4ZM342.3,212.9 344.3,212.6 343.0,209.9 341.1,210.6ZM339.7,215.2 341.6,215.2 340.4,213.1 338.5,213.5ZM343.5,215.2 345.5,214.7 344.3,212.6 342.3,212.9Z" fill="#4a6cff" fill-opacity="0.32"/><path d="M274.5,170.2 276.2,170.2 275.1,168.0 273.5,167.7ZM250.4,178.9 252.1,179.2 251.1,176.6 249.4,176.5ZM290.7,170.6 292.4,170.8 291.2,168.4 289.6,168.4ZM310.9,165.5 312.5,165.1 311.3,162.4 309.6,162.5ZM312.5,165.1 314.2,164.8 313.0,162.6 311.3,162.4ZM322.2,166.3 323.9,166.6 322.6,164.4 320.9,164.4ZM322.7,167.4 324.4,167.4 323.1,165.9 321.4,165.3ZM270.6,183.1 272.3,182.9 271.3,180.2 269.6,180.0ZM272.3,182.9 274.0,182.7 273.0,180.4 271.3,180.2ZM324.0,170.3 325.7,169.8 324.4,167.4 322.7,167.4ZM342.9,166.3 344.6,166.1 343.3,163.7 341.5,163.7ZM296.9,181.8 298.7,182.5 297.5,180.2 295.8,180.0ZM298.7,182.5 300.4,182.8 299.3,180.1 297.5,180.2ZM312.6,176.8 314.3,176.4 313.1,173.9 311.4,174.0ZM266.6,191.5 268.4,191.6 267.4,188.9 265.6,189.1ZM298.1,183.4 299.8,184.0 298.7,182.5 296.9,181.8ZM348.4,171.0 350.1,170.5 348.8,166.7 347.0,167.2ZM335.6,175.3 337.4,175.3 336.1,173.5 334.3,173.0ZM337.4,175.3 339.2,175.4 337.8,173.8 336.1,173.5ZM340.9,175.6 342.7,176.1 341.4,173.7 339.6,173.8ZM342.7,176.1 344.5,176.6 343.1,173.5 341.4,173.7ZM344.5,176.6 346.2,176.7 344.9,172.9 343.1,173.5ZM346.2,176.7 348.0,176.6 346.6,172.0 344.9,172.9ZM348.0,176.6 349.8,176.3 348.4,171.0 346.6,172.0ZM349.8,176.3 351.5,175.9 350.1,170.5 348.4,171.0ZM336.9,178.3 338.7,178.1 337.4,175.3 335.6,175.3ZM338.7,178.1 340.5,177.9 339.2,175.4 337.4,175.3ZM340.5,177.9 342.3,178.0 340.9,175.6 339.2,175.4ZM342.3,178.0 344.0,178.2 342.7,176.1 340.9,175.6ZM344.0,178.2 345.8,178.5 344.5,176.6 342.7,176.1ZM290.1,191.8 291.9,191.4 290.8,188.3 289.1,188.7ZM291.9,191.4 293.7,191.1 292.6,188.2 290.8,188.3ZM293.7,191.1 295.5,190.8 294.4,188.2 292.6,188.2ZM295.5,190.8 297.3,190.6 296.2,188.4 294.4,188.2ZM275.1,199.2 276.9,199.1 275.9,196.2 274.1,196.4ZM276.9,199.1 278.7,198.8 277.7,195.9 275.9,196.2ZM303.7,192.1 305.5,192.1 304.4,189.5 302.6,189.8ZM274.3,201.8 276.1,202.0 275.1,199.2 273.3,199.3ZM276.1,202.0 277.9,201.8 276.9,199.1 275.1,199.2ZM290.0,204.2 291.9,204.1 290.8,201.2 289.0,201.6ZM291.9,204.1 293.7,203.7 292.6,200.8 290.8,201.2ZM347.9,187.9 349.7,187.4 348.4,184.9 346.6,185.3ZM349.7,187.4 351.5,187.0 350.2,184.8 348.4,184.9ZM312.4,199.5 314.2,199.1 313.1,196.6 311.2,196.7ZM341.8,190.6 343.7,190.5 342.4,188.7 340.5,188.5ZM290.5,211.1 292.4,210.6 291.3,207.9 289.5,208.2ZM325.8,199.7 327.7,198.9 326.5,196.3 324.6,196.6ZM327.7,198.9 329.5,198.5 328.3,196.3 326.5,196.3ZM297.1,212.3 299.0,212.1 297.9,209.3 296.1,209.7ZM319.5,204.7 321.4,204.8 320.2,201.9 318.4,202.3ZM321.4,204.8 323.3,204.9 322.1,201.4 320.2,201.9ZM323.3,204.9 325.1,204.3 323.9,200.6 322.1,201.4ZM311.3,208.0 313.2,208.1 312.1,204.3 310.2,204.1ZM313.2,208.1 315.1,208.1 313.9,204.7 312.1,204.3ZM315.1,208.1 316.9,207.8 315.8,204.9 313.9,204.7ZM316.9,207.8 318.8,207.3 317.7,204.8 315.8,204.9ZM318.8,207.3 320.7,207.0 319.5,204.7 317.7,204.8ZM320.7,207.0 322.6,206.8 321.4,204.8 319.5,204.7ZM312.4,210.5 314.3,210.3 313.2,208.1 311.3,208.0ZM325.6,208.3 327.5,208.8 326.3,206.0 324.4,206.5ZM327.5,208.8 329.4,209.3 328.2,205.3 326.3,206.0ZM329.4,209.3 331.3,208.3 330.1,204.2 328.2,205.3ZM326.8,209.3 328.7,210.1 327.5,208.8 325.6,208.3ZM328.7,210.1 330.6,211.0 329.4,209.3 327.5,208.8ZM354.5,200.1 356.4,199.6 355.1,196.9 353.3,197.1ZM356.4,199.6 358.3,199.1 357.0,197.0 355.1,196.9ZM331.0,211.2 332.9,211.7 331.8,210.7 329.9,210.0ZM277.6,233.1 279.5,231.8 278.6,228.1 276.6,228.7ZM289.1,227.4 291.1,226.8 290.1,224.0 288.1,224.2ZM291.1,226.8 293.0,226.4 292.0,224.0 290.1,224.0ZM344.3,212.6 346.2,212.0 345.0,209.2 343.0,209.9ZM341.6,215.2 343.5,215.2 342.3,212.9 340.4,213.1ZM297.9,230.9 299.9,231.1 298.9,228.5 296.9,228.9ZM299.9,231.1 301.8,230.9 300.8,228.1 298.9,228.5ZM340.9,216.2 342.8,216.9 341.6,215.2 339.7,215.2ZM342.8,216.9 344.8,217.1 343.5,215.2 341.6,215.2Z" fill="#4a6cff" fill-opacity="0.38"/></g>
<g filter="url(#bl1)">
<path d="M283,176 L289,180 L290,192 L284,194 Z" fill="#0808a0" opacity="0.8"/>
<path d="M349,176 L355,182 L356,196 L350,197 Z" fill="#0808a0" opacity="0.8"/>
<path d="M290,205 L300,208 L304,214 L296,213 Z" fill="#60d0ff" opacity="0.7"/>
<path d="M292,212 L305,214 L312,222 L300,220 Z" fill="#0808a0" opacity="0.6"/>
</g></g>
<path d="M262,173.5 L267,172 L268,187 L263,185 Z" fill="#4868ff" opacity="0.6" filter="url(#bl1)"/>
<path d="M282,176 L288,182 L290,193 L284,194 L281,188 Z" fill="#0606a0" opacity="0.9" filter="url(#bl1)"/>
<g mask="url(#b3Lm)"><path d="M268.19,172.90 C268.85,171.32 269.58,169.73 270.39,169.40 C271.20,169.07 271.86,170.32 273.03,170.90 C274.20,171.48 275.98,171.57 277.43,172.90 C278.88,174.23 281.17,176.58 281.74,178.90 C282.31,181.22 281.64,185.03 280.86,186.80 C280.08,188.57 278.24,188.80 277.08,189.50 C275.92,190.20 275.08,191.17 273.91,191.00 C272.74,190.83 271.20,189.83 270.04,188.50 C268.88,187.17 267.56,184.60 266.96,183.00 C266.36,181.40 266.23,180.58 266.43,178.90 C266.63,177.22 267.53,174.48 268.19,172.90Z" fill="url(#b3Lg)" filter="url(#bl07)"/>
<path d="M268.19,172.90 C268.85,171.32 269.58,169.73 270.39,169.40 C271.20,169.07 271.86,170.32 273.03,170.90 C274.20,171.48 275.98,171.57 277.43,172.90 C278.88,174.23 281.17,176.58 281.74,178.90 C282.31,181.22 281.64,185.03 280.86,186.80 C280.08,188.57 278.24,188.80 277.08,189.50 C275.92,190.20 275.08,191.17 273.91,191.00 C272.74,190.83 271.20,189.83 270.04,188.50 C268.88,187.17 267.56,184.60 266.96,183.00 C266.36,181.40 266.23,180.58 266.43,178.90 C266.63,177.22 267.53,174.48 268.19,172.90Z" fill="url(#b3Lh)" filter="url(#bl05)"/></g>
<path d="M348,177 L355,183 L357,196 L350,197 Z" fill="#0606a0" opacity="0.85" filter="url(#bl1)"/>
<g mask="url(#b3Dm)"><path d="M330.70,182.00 C330.48,179.75 331.07,176.83 331.58,175.50 C332.09,174.17 332.97,174.17 333.78,174.00 C334.59,173.83 335.63,174.18 336.42,174.50 C337.21,174.82 337.80,175.95 338.53,175.90 C339.26,175.85 340.07,174.68 340.82,174.20 C341.57,173.72 342.23,172.77 343.02,173.00 C343.81,173.23 344.84,174.27 345.57,175.60 C346.30,176.93 346.91,179.37 347.42,181.00 C347.93,182.63 348.50,183.73 348.65,185.40 C348.80,187.07 348.46,189.43 348.30,191.00 C348.14,192.57 348.63,193.97 347.68,194.80 C346.73,195.63 344.31,196.00 342.58,196.00 C340.85,196.00 338.91,195.97 337.30,194.80 C335.69,193.63 334.00,191.13 332.90,189.00 C331.80,186.87 330.92,184.25 330.70,182.00Z" fill="url(#b3Dg)" filter="url(#bl07)"/>
<path d="M330.70,182.00 C330.48,179.75 331.07,176.83 331.58,175.50 C332.09,174.17 332.97,174.17 333.78,174.00 C334.59,173.83 335.63,174.18 336.42,174.50 C337.21,174.82 337.80,175.95 338.53,175.90 C339.26,175.85 340.07,174.68 340.82,174.20 C341.57,173.72 342.23,172.77 343.02,173.00 C343.81,173.23 344.84,174.27 345.57,175.60 C346.30,176.93 346.91,179.37 347.42,181.00 C347.93,182.63 348.50,183.73 348.65,185.40 C348.80,187.07 348.46,189.43 348.30,191.00 C348.14,192.57 348.63,193.97 347.68,194.80 C346.73,195.63 344.31,196.00 342.58,196.00 C340.85,196.00 338.91,195.97 337.30,194.80 C335.69,193.63 334.00,191.13 332.90,189.00 C331.80,186.87 330.92,184.25 330.70,182.00Z" fill="url(#b3Dh)" filter="url(#bl05)"/></g>
<polyline points="247.5,174.8 279.8,239 382.2,204.4" fill="none" stroke="#aaa" stroke-width="0.6"/>
<line x1="246.2" y1="176.5" x2="248.4" y2="176.5" stroke="#999" stroke-width="0.5"/>
<line x1="253.7" y1="191.5" x2="255.9" y2="191.5" stroke="#999" stroke-width="0.5"/>
<line x1="262.3" y1="208.5" x2="264.5" y2="208.5" stroke="#999" stroke-width="0.5"/>
<line x1="272.8" y1="229.5" x2="275" y2="229.5" stroke="#999" stroke-width="0.5"/>
<line x1="263.9" y1="153.5" x2="275.2" y2="171.2" stroke="#c81818" stroke-width="1.1"/>
<circle cx="275.2" cy="171.2" r="2.1" fill="#d01818"/>
<line x1="344" y1="153.5" x2="338.8" y2="171.2" stroke="#c81818" stroke-width="1.1"/>
<circle cx="338.8" cy="171.2" r="2.1" fill="#d01818"/>
<text x="263" y="151.2" font-size="8.5" font-weight="bold" text-anchor="middle" fill="#111" stroke="#111" stroke-width="0.18" ><tspan font-size="6.4">L</tspan>–Ribulose</text>
<text x="344.5" y="151.2" font-size="8.5" font-weight="bold" text-anchor="middle" fill="#111" stroke="#111" stroke-width="0.18" ><tspan font-size="6.4">D</tspan>–Ribulose</text>
<text x="234.1" y="178.9" font-size="8" font-weight="bold" text-anchor="middle" fill="#111" stroke="#111" stroke-width="0.18" >2.2</text>
<text x="240.3" y="194.3" font-size="8" font-weight="bold" text-anchor="middle" fill="#111" stroke="#111" stroke-width="0.18" >2.1</text>
<text x="249.5" y="211.4" font-size="8" font-weight="bold" text-anchor="middle" fill="#111" stroke="#111" stroke-width="0.18" >2.0</text>
<text x="259.5" y="232.3" font-size="8" font-weight="bold" text-anchor="middle" fill="#111" stroke="#111" stroke-width="0.18" >1.9</text>
<text x="217.6" y="211.5" font-size="7.7" font-weight="bold" text-anchor="middle" fill="#111" stroke="#111" stroke-width="0.18" >2D RT (s)</text>
<text x="284.3" y="249.9" font-size="8" font-weight="bold" text-anchor="middle" fill="#111" stroke="#111" stroke-width="0.18" >17.0</text>
<text x="332.6" y="233.6" font-size="8" font-weight="bold" text-anchor="middle" fill="#111" stroke="#111" stroke-width="0.18" >17.8</text>
<text x="376.3" y="218.2" font-size="8" font-weight="bold" text-anchor="middle" fill="#111" stroke="#111" stroke-width="0.18" >18.7</text>
<text x="345.6" y="247.4" font-size="7.7" font-weight="bold" text-anchor="middle" fill="#111" stroke="#111" stroke-width="0.18" >1D RT (min)</text>
<path d="M247.10,315.00 L258.00,312.50 L269.80,309.50 L286.00,305.50 L302.00,301.90 L314.00,299.30 L324.10,297.10 L336.00,306.00 L348.00,315.50 L360.00,326.00 L372.60,340.40 L372.60,342.60 L356.00,348.50 L339.30,354.50 L327.00,359.00 L314.50,364.00 L302.00,368.00 L289.70,371.60 L276.60,375.60Z" fill="url(#c3base)"/>
<g clip-path="url(#c3c)">
<g filter="url(#bl2)"><ellipse cx="249.55" cy="305.22" rx="5.36" ry="3.61" fill="#1c14ec" opacity="0.5"/><ellipse cx="367.73" cy="339.89" rx="7.27" ry="3.31" fill="#2018f2" opacity="0.5"/><ellipse cx="252.17" cy="300.97" rx="4.39" ry="3.04" fill="#2018f2" opacity="0.5"/><ellipse cx="299.98" cy="377.7" rx="3.56" ry="1.45" fill="#2824ff" opacity="0.5"/><ellipse cx="291.03" cy="312.89" rx="5.35" ry="3.42" fill="#1c14ec" opacity="0.5"/><ellipse cx="274.5" cy="313.79" rx="6.51" ry="4.03" fill="#1c14ec" opacity="0.5"/><ellipse cx="353.67" cy="325.15" rx="4.22" ry="3.1" fill="#2824ff" opacity="0.5"/><ellipse cx="251.83" cy="356.27" rx="8.21" ry="5.42" fill="#1c14ec" opacity="0.5"/><ellipse cx="274.18" cy="331.46" rx="5.2" ry="2.77" fill="#1c14ec" opacity="0.5"/><ellipse cx="308.74" cy="317.6" rx="4.76" ry="2.99" fill="#2824ff" opacity="0.5"/><ellipse cx="329.49" cy="364.57" rx="8.77" ry="6.93" fill="#1c14ec" opacity="0.5"/><ellipse cx="347.52" cy="321.12" rx="4.06" ry="2.64" fill="#2018f2" opacity="0.5"/><ellipse cx="353.63" cy="320.2" rx="4.04" ry="1.66" fill="#2018f2" opacity="0.5"/><ellipse cx="295.22" cy="374.48" rx="7.02" ry="3.61" fill="#2824ff" opacity="0.5"/><ellipse cx="329.82" cy="377.32" rx="4.18" ry="2.43" fill="#2824ff" opacity="0.5"/><ellipse cx="304.03" cy="360.69" rx="6.37" ry="2.85" fill="#1c14ec" opacity="0.5"/><ellipse cx="358.01" cy="348.24" rx="8.76" ry="4.21" fill="#1c14ec" opacity="0.5"/><ellipse cx="337.9" cy="366.04" rx="5.85" ry="3.51" fill="#2018f2" opacity="0.5"/><ellipse cx="283.03" cy="326.54" rx="6.68" ry="4.37" fill="#1c14ec" opacity="0.5"/><ellipse cx="355.67" cy="335.8" rx="7.78" ry="5" fill="#2824ff" opacity="0.5"/><ellipse cx="370.62" cy="358.94" rx="4.53" ry="3.2" fill="#2824ff" opacity="0.5"/><ellipse cx="291.94" cy="296.92" rx="5.25" ry="2.69" fill="#1c14ec" opacity="0.5"/><ellipse cx="373.14" cy="306.84" rx="6.4" ry="4.13" fill="#2018f2" opacity="0.5"/><ellipse cx="359.74" cy="360.69" rx="8.68" ry="6.48" fill="#2018f2" opacity="0.5"/><ellipse cx="271.16" cy="333.3" rx="7.17" ry="4.37" fill="#2018f2" opacity="0.5"/><ellipse cx="298.58" cy="338.97" rx="7.3" ry="4.27" fill="#2018f2" opacity="0.5"/><ellipse cx="351.23" cy="322.73" rx="5.23" ry="3.19" fill="#2824ff" opacity="0.5"/><ellipse cx="341.85" cy="373.31" rx="7.14" ry="4.51" fill="#1c14ec" opacity="0.5"/><ellipse cx="253.29" cy="350.78" rx="7.4" ry="3.57" fill="#1c14ec" opacity="0.5"/><ellipse cx="295.97" cy="321.19" rx="5.55" ry="3.8" fill="#2018f2" opacity="0.5"/><ellipse cx="322" cy="371.38" rx="4.62" ry="3.58" fill="#1c14ec" opacity="0.5"/><ellipse cx="252.15" cy="346.41" rx="8.37" ry="4.22" fill="#1c14ec" opacity="0.5"/><ellipse cx="302.79" cy="353.57" rx="4.26" ry="1.76" fill="#2824ff" opacity="0.5"/><ellipse cx="296.4" cy="312.27" rx="4.29" ry="2.31" fill="#2018f2" opacity="0.5"/><ellipse cx="368.88" cy="305.21" rx="4.3" ry="3.38" fill="#2018f2" opacity="0.5"/><ellipse cx="335.39" cy="368.84" rx="5.71" ry="3.77" fill="#2018f2" opacity="0.5"/><ellipse cx="270.88" cy="298.77" rx="5.89" ry="3.06" fill="#2824ff" opacity="0.5"/><ellipse cx="352.82" cy="376.46" rx="4.66" ry="2.37" fill="#2824ff" opacity="0.5"/><ellipse cx="285.86" cy="370.83" rx="6.48" ry="3.64" fill="#1c14ec" opacity="0.5"/><ellipse cx="278.12" cy="307.68" rx="6.8" ry="4.81" fill="#1c14ec" opacity="0.5"/></g>
<g filter="url(#bl1)"><path d="M285.2,309.0 287.1,308.2 285.6,306.1 283.7,306.8ZM318.2,300.4 320.1,299.6 318.3,297.7 316.4,298.4ZM320.1,299.6 322.1,298.8 320.2,296.9 318.3,297.7ZM265.1,315.5 267.0,314.9 265.7,312.7 263.8,313.4ZM294.1,311.0 296.0,310.4 294.5,308.6 292.5,309.1ZM289.6,314.7 291.6,314.1 290.1,312.2 288.1,312.8ZM323.6,306.2 325.6,305.6 323.8,303.8 321.8,304.5ZM321.3,308.9 323.3,308.3 321.6,306.7 319.6,307.3ZM325.4,307.9 327.4,307.3 325.6,305.6 323.6,306.2ZM255.9,328.0 258.0,327.6 256.8,325.7 254.8,326.1ZM270.2,324.5 272.2,323.9 270.9,321.9 268.9,322.4ZM288.5,319.7 290.5,319.0 289.1,317.1 287.1,317.7ZM294.6,317.5 296.6,317.0 295.1,315.3 293.1,315.8ZM317.0,312.4 319.0,311.8 317.3,310.4 315.3,310.8ZM277.6,324.5 279.7,324.1 278.3,322.3 276.3,322.8ZM285.8,322.8 287.9,322.2 286.5,320.3 284.4,320.8ZM266.5,330.7 268.6,330.0 267.4,327.9 265.3,328.6ZM330.7,314.0 332.8,313.3 331.0,311.7 328.9,312.3ZM271.9,331.6 274.0,330.8 272.7,328.4 270.7,329.3ZM274.0,330.8 276.1,330.0 274.8,327.6 272.7,328.4ZM338.5,315.4 340.6,314.8 338.8,313.2 336.7,313.8ZM325.5,321.5 327.6,320.9 325.9,319.2 323.8,319.9ZM288.6,334.5 290.7,333.6 289.3,331.5 287.2,332.3ZM290.7,333.6 292.9,332.8 291.5,330.7 289.3,331.5ZM292.9,332.8 295.0,332.0 293.6,330.0 291.5,330.7ZM301.5,330.4 303.6,330.0 302.1,328.9 300.0,329.1ZM325.0,324.0 327.2,323.3 325.5,321.5 323.4,322.3ZM320.2,327.4 322.4,326.9 320.8,325.3 318.6,326.0ZM344.0,320.6 346.2,319.7 344.3,318.1 342.2,318.8ZM304.4,334.7 306.6,333.9 305.1,332.0 302.9,332.7ZM306.6,333.9 308.8,333.1 307.3,331.2 305.1,332.0ZM311.0,332.3 313.1,331.5 311.6,329.6 309.4,330.4ZM345.9,322.3 348.0,321.5 346.2,319.7 344.0,320.6ZM292.7,340.9 294.9,340.2 293.5,338.2 291.3,338.9ZM303.7,337.1 305.9,336.5 304.4,334.7 302.2,335.4ZM330.1,329.9 332.3,329.0 330.6,327.1 328.4,328.0ZM347.7,324.0 349.9,323.2 348.0,321.5 345.9,322.3ZM334.0,330.6 336.2,329.9 334.5,328.2 332.3,329.0ZM273.1,351.8 275.3,351.0 274.1,349.0 271.9,349.7ZM275.3,351.0 277.6,350.3 276.3,348.2 274.1,349.0ZM277.6,350.3 279.8,349.5 278.6,347.4 276.3,348.2ZM329.0,334.6 331.2,333.8 329.6,332.1 327.3,332.8ZM317.1,340.5 319.4,339.9 317.8,338.2 315.6,338.8ZM337.4,333.5 339.6,332.9 337.9,331.4 335.7,332.1ZM295.9,350.3 298.2,349.5 296.8,347.5 294.6,348.2ZM298.2,349.5 300.5,348.6 299.1,346.7 296.8,347.5ZM300.5,348.6 302.7,347.9 301.3,346.0 299.1,346.7ZM330.0,339.2 332.3,338.3 330.6,336.4 328.4,337.3ZM283.5,357.4 285.8,356.4 284.6,354.1 282.3,355.0ZM306.4,348.7 308.7,348.2 307.3,346.6 305.0,347.2ZM308.7,348.2 311.0,347.6 309.6,345.8 307.3,346.6ZM317.9,345.0 320.2,344.1 318.6,342.0 316.4,343.0ZM277.9,362.3 280.2,361.6 279.0,359.5 276.7,360.3ZM281.4,364.2 283.7,363.0 282.5,360.6 280.2,361.6ZM286.0,361.8 288.4,360.9 287.1,358.6 284.8,359.6ZM350.0,344.7 352.3,343.8 350.6,342.1 348.2,343.0ZM357.1,341.8 359.4,341.0 357.6,339.6 355.3,340.4ZM277.8,372.3 280.2,371.3 279.1,369.3 276.7,370.1ZM285.0,369.6 287.4,368.9 286.1,366.8 283.8,367.7ZM311.2,361.7 313.6,360.8 312.1,358.7 309.8,359.7ZM295.8,369.9 298.2,368.5 296.9,366.1 294.5,367.2ZM310.2,364.1 312.6,363.4 311.2,361.7 308.8,362.4ZM312.6,363.4 315.0,362.7 313.6,360.8 311.2,361.7ZM315.0,362.7 317.4,361.8 316.0,360.0 313.6,360.8ZM324.6,358.9 327.0,357.9 325.5,356.0 323.1,357.0Z" fill="#0606a0" fill-opacity="0.06"/><path d="M261.1,316.8 263.1,316.2 261.8,314.1 259.9,314.7ZM325.9,299.7 327.8,299.1 326.0,297.6 324.0,298.1ZM296.0,310.4 298.0,309.8 296.4,308.0 294.5,308.6ZM287.6,315.2 289.6,314.7 288.1,312.8 286.1,313.5ZM293.1,315.8 295.1,315.3 293.6,313.6 291.6,314.1ZM262.0,327.5 264.1,327.0 262.9,325.1 260.8,325.6ZM268.1,325.2 270.2,324.5 268.9,322.4 266.9,323.1ZM321.1,311.1 323.1,310.6 321.3,308.9 319.3,309.6ZM257.1,330.0 259.1,329.4 258.0,327.6 255.9,328.0ZM289.9,321.5 292.0,320.9 290.5,319.0 288.5,319.7ZM317.9,320.5 320.0,319.9 318.3,318.5 316.2,318.9ZM336.4,316.0 338.5,315.4 336.7,313.8 334.6,314.5ZM287.2,332.3 289.3,331.5 288.0,329.8 285.8,330.3ZM308.8,333.1 311.0,332.3 309.4,330.4 307.3,331.2ZM294.9,340.2 297.1,339.4 295.7,337.5 293.5,338.2ZM283.0,346.0 285.2,345.5 283.9,343.7 281.7,344.4ZM327.3,332.8 329.6,332.1 327.9,330.7 325.7,331.3ZM351.7,325.0 353.9,324.0 352.1,322.2 349.9,323.2ZM266.4,354.5 268.6,353.5 267.5,351.3 265.3,352.1ZM335.7,332.1 337.9,331.4 336.2,329.9 334.0,330.6ZM312.6,342.3 314.9,341.3 313.3,339.6 311.1,340.3ZM311.8,345.1 314.1,344.1 312.6,342.3 310.3,343.1ZM279.0,359.5 281.2,358.5 280.0,356.1 277.7,357.2ZM295.0,353.1 297.3,352.2 295.9,350.3 293.7,351.1ZM313.3,346.9 315.6,346.1 314.1,344.1 311.8,345.1ZM284.8,359.6 287.1,358.6 285.8,356.4 283.5,357.4ZM283.7,363.0 286.0,361.8 284.8,359.6 282.5,360.6ZM287.3,363.9 289.6,363.0 288.4,360.9 286.0,361.8ZM343.6,345.0 345.9,343.9 344.2,342.0 341.9,343.1ZM338.1,349.5 340.5,348.7 338.9,347.2 336.5,347.9ZM347.6,345.7 350.0,344.7 348.2,343.0 345.9,343.9ZM352.3,343.8 354.7,342.8 352.9,341.2 350.6,342.1ZM280.2,371.3 282.6,370.5 281.4,368.6 279.1,369.3ZM308.8,362.4 311.2,361.7 309.8,359.7 307.4,360.7ZM351.0,348.8 353.4,348.0 351.7,346.4 349.3,347.3Z" fill="#0606a0" fill-opacity="0.12"/><path d="M263.1,316.2 265.1,315.5 263.8,313.4 261.8,314.1ZM284.7,311.7 286.6,311.0 285.2,309.0 283.2,309.7ZM289.1,317.1 291.1,316.5 289.6,314.7 287.6,315.2ZM253.9,328.6 255.9,328.0 254.8,326.1 252.8,326.6ZM287.9,322.2 289.9,321.5 288.5,319.7 286.5,320.3ZM268.6,330.0 270.7,329.3 269.4,327.1 267.4,327.9ZM276.9,326.8 279.0,326.3 277.6,324.5 275.6,325.0ZM332.8,313.3 334.9,312.5 333.1,311.0 331.0,311.7ZM337.0,311.9 339.0,311.2 337.2,309.6 335.1,310.3ZM332.2,317.3 334.3,316.7 332.5,315.2 330.4,315.9ZM334.3,316.7 336.4,316.0 334.6,314.5 332.5,315.2ZM322.9,324.7 325.0,324.0 323.4,322.3 321.2,323.1ZM344.3,318.1 346.5,317.3 344.6,315.9 342.5,316.5ZM297.1,339.4 299.3,338.6 297.9,336.8 295.7,337.5ZM301.5,337.8 303.7,337.1 302.2,335.4 300.1,336.1ZM265.3,352.1 267.5,351.3 266.3,349.2 264.1,350.0ZM267.5,351.3 269.7,350.5 268.5,348.5 266.3,349.2ZM269.7,350.5 271.9,349.7 270.7,347.8 268.5,348.5ZM271.9,349.7 274.1,349.0 272.9,347.1 270.7,347.8ZM268.6,353.5 270.9,352.6 269.7,350.5 267.5,351.3ZM270.9,352.6 273.1,351.8 271.9,349.7 269.7,350.5ZM331.2,333.8 333.5,332.9 331.8,331.4 329.6,332.1ZM314.9,341.3 317.1,340.5 315.6,338.8 313.3,339.6ZM336.8,335.9 339.1,335.1 337.4,333.5 335.1,334.3ZM272.1,361.3 274.4,360.8 273.2,358.8 270.9,359.6ZM304.1,349.2 306.4,348.7 305.0,347.2 302.7,347.9ZM296.3,355.2 298.6,354.2 297.3,352.2 295.0,353.1ZM338.9,347.2 341.2,346.2 339.5,344.3 337.2,345.3ZM354.7,342.8 357.1,341.8 355.3,340.4 352.9,341.2ZM282.6,370.5 285.0,369.6 283.8,367.7 281.4,368.6ZM342.2,350.6 344.5,349.4 342.9,347.7 340.5,348.7ZM349.3,347.3 351.7,346.4 350.0,344.7 347.6,345.7ZM276.6,375.4 279.0,374.3 277.8,372.3 275.5,373.2ZM283.8,372.3 286.2,371.5 285.0,369.6 282.6,370.5ZM298.2,368.5 300.6,367.2 299.3,365.1 296.9,366.1ZM317.4,361.8 319.8,360.9 318.3,359.1 316.0,360.0Z" fill="#0606a0" fill-opacity="0.17"/><path d="M286.6,311.0 288.6,310.2 287.1,308.2 285.2,309.0ZM321.9,301.7 323.9,300.7 322.1,298.8 320.1,299.6ZM288.1,312.8 290.1,312.2 288.6,310.2 286.6,311.0ZM325.6,305.6 327.6,304.8 325.7,303.0 323.8,303.8ZM329.6,303.9 331.6,303.0 329.7,301.3 327.7,302.1ZM262.9,325.1 264.9,324.1 263.6,321.7 261.6,322.6ZM264.9,324.1 266.9,323.1 265.6,320.8 263.6,321.7ZM291.1,316.5 293.1,315.8 291.6,314.1 289.6,314.7ZM290.5,319.0 292.6,318.3 291.1,316.5 289.1,317.1ZM255.0,330.6 257.1,330.0 255.9,328.0 253.9,328.6ZM275.6,325.0 277.6,324.5 276.3,322.8 274.3,323.4ZM270.7,329.3 272.7,328.4 271.5,326.4 269.4,327.1ZM334.9,312.5 337.0,311.9 335.1,310.3 333.1,311.0ZM328.4,316.5 330.4,315.9 328.7,314.6 326.6,315.1ZM315.4,323.4 317.5,322.4 315.8,321.0 313.7,321.5ZM330.1,317.9 332.2,317.3 330.4,315.9 328.4,316.5ZM323.4,322.3 325.5,321.5 323.8,319.9 321.7,320.6ZM318.1,327.9 320.2,327.4 318.6,326.0 316.5,326.6ZM299.3,338.6 301.5,337.8 300.1,336.1 297.9,336.8ZM274.1,349.0 276.3,348.2 275.1,346.4 272.9,347.1ZM331.8,331.4 334.0,330.6 332.3,329.0 330.1,329.9ZM333.5,332.9 335.7,332.1 334.0,330.6 331.8,331.4ZM330.6,336.4 332.9,335.4 331.2,333.8 329.0,334.6ZM281.2,358.5 283.5,357.4 282.3,355.0 280.0,356.1ZM336.2,339.1 338.5,337.9 336.8,335.9 334.5,337.1ZM356.3,335.2 358.7,334.1 356.8,332.7 354.5,333.5ZM358.2,336.9 360.5,335.9 358.7,334.1 356.3,335.2ZM362.8,334.6 365.1,333.5 363.3,331.9 361.0,332.9ZM280.2,367.4 282.6,366.3 281.4,364.2 279.0,365.1ZM341.2,346.2 343.6,345.0 341.9,343.1 339.5,344.3ZM286.1,366.8 288.5,366.0 287.3,363.9 284.9,365.0ZM346.9,348.3 349.3,347.3 347.6,345.7 345.2,346.7ZM351.7,346.4 354.1,345.3 352.3,343.8 350.0,344.7ZM322.2,359.9 324.6,358.9 323.1,357.0 320.7,358.1ZM353.4,348.0 355.8,347.0 354.1,345.3 351.7,346.4Z" fill="#0606a0" fill-opacity="0.23"/><path d="M256.0,315.5 258.0,315.1 256.7,313.8 254.8,313.9ZM265.7,312.7 267.7,312.3 266.4,310.5 264.4,311.1ZM286.1,313.5 288.1,312.8 286.6,311.0 284.7,311.7ZM327.6,304.8 329.6,303.9 327.7,302.1 325.7,303.0ZM317.3,310.4 319.3,309.6 317.6,308.0 315.6,308.7ZM327.4,307.3 329.4,306.5 327.6,304.8 325.6,305.6ZM292.6,318.3 294.6,317.5 293.1,315.8 291.1,316.5ZM263.3,329.0 265.3,328.6 264.1,327.0 262.0,327.5ZM269.4,327.1 271.5,326.4 270.2,324.5 268.1,325.2ZM271.5,326.4 273.5,325.7 272.2,323.9 270.2,324.5ZM273.5,325.7 275.6,325.0 274.3,323.4 272.2,323.9ZM338.8,313.2 340.9,312.5 339.0,311.2 337.0,311.9ZM329.6,332.1 331.8,331.4 330.1,329.9 327.9,330.7ZM315.6,346.1 317.9,345.0 316.4,343.0 314.1,344.1ZM333.9,340.4 336.2,339.1 334.5,337.1 332.3,338.3ZM282.5,360.6 284.8,359.6 283.5,357.4 281.2,358.5ZM279.1,369.3 281.4,368.6 280.2,367.4 277.9,367.7ZM345.2,346.7 347.6,345.7 345.9,343.9 343.6,345.0ZM279.0,374.3 281.4,373.3 280.2,371.3 277.8,372.3ZM281.4,373.3 283.8,372.3 282.6,370.5 280.2,371.3ZM319.8,360.9 322.2,359.9 320.7,358.1 318.3,359.1Z" fill="#0606a0" fill-opacity="0.29"/><path d="M258.0,315.1 259.9,314.7 258.6,313.4 256.7,313.8ZM259.9,314.7 261.8,314.1 260.6,312.8 258.6,313.4ZM261.8,314.1 263.8,313.4 262.5,311.9 260.6,312.8ZM263.8,313.4 265.7,312.7 264.4,311.1 262.5,311.9ZM323.9,300.7 325.9,299.7 324.0,298.1 322.1,298.8ZM319.3,309.6 321.3,308.9 319.6,307.3 317.6,308.0ZM329.4,306.5 331.4,305.5 329.6,303.9 327.6,304.8ZM331.4,305.5 333.4,304.6 331.6,303.0 329.6,303.9ZM264.1,327.0 266.1,326.1 264.9,324.1 262.9,325.1ZM266.1,326.1 268.1,325.2 266.9,323.1 264.9,324.1ZM319.0,311.8 321.1,311.1 319.3,309.6 317.3,310.4ZM265.3,328.6 267.4,327.9 266.1,326.1 264.1,327.0ZM267.4,327.9 269.4,327.1 268.1,325.2 266.1,326.1ZM272.7,328.4 274.8,327.6 273.5,325.7 271.5,326.4ZM274.8,327.6 276.9,326.8 275.6,325.0 273.5,325.7ZM320.0,319.9 322.1,319.1 320.4,317.7 318.3,318.5ZM322.1,319.1 324.2,318.2 322.5,316.7 320.4,317.7ZM324.2,318.2 326.3,317.3 324.5,315.8 322.5,316.7ZM326.3,317.3 328.4,316.5 326.6,315.1 324.5,315.8ZM330.4,315.9 332.5,315.2 330.7,314.0 328.7,314.6ZM332.5,315.2 334.6,314.5 332.8,313.3 330.7,314.0ZM334.6,314.5 336.7,313.8 334.9,312.5 332.8,313.3ZM336.7,313.8 338.8,313.2 337.0,311.9 334.9,312.5ZM317.5,322.4 319.6,321.5 317.9,320.5 315.8,321.0ZM319.6,321.5 321.7,320.6 320.0,319.9 317.9,320.5ZM321.7,320.6 323.8,319.9 322.1,319.1 320.0,319.9ZM323.8,319.9 325.9,319.2 324.2,318.2 322.1,319.1ZM325.9,319.2 328.0,318.5 326.3,317.3 324.2,318.2ZM328.0,318.5 330.1,317.9 328.4,316.5 326.3,317.3ZM289.3,331.5 291.5,330.7 290.1,329.3 288.0,329.8ZM291.5,330.7 293.6,330.0 292.2,328.9 290.1,329.3ZM293.6,330.0 295.7,329.5 294.3,328.6 292.2,328.9ZM295.7,329.5 297.8,329.2 296.4,328.4 294.3,328.6ZM297.8,329.2 300.0,329.1 298.5,328.3 296.4,328.4ZM300.0,329.1 302.1,328.9 300.6,328.0 298.5,328.3ZM302.1,328.9 304.2,328.6 302.7,327.6 300.6,328.0ZM304.2,328.6 306.4,328.1 304.8,326.9 302.7,327.6ZM306.4,328.1 308.5,327.5 306.9,326.2 304.8,326.9ZM308.5,327.5 310.6,326.9 309.0,325.6 306.9,326.2ZM310.6,326.9 312.7,326.3 311.1,324.9 309.0,325.6ZM312.7,326.3 314.9,325.6 313.2,324.2 311.1,324.9ZM314.9,325.6 317.0,324.8 315.4,323.4 313.2,324.2ZM317.0,324.8 319.1,323.9 317.5,322.4 315.4,323.4ZM319.1,323.9 321.2,323.1 319.6,321.5 317.5,322.4ZM321.2,323.1 323.4,322.3 321.7,320.6 319.6,321.5ZM303.6,330.0 305.7,329.6 304.2,328.6 302.1,328.9ZM305.7,329.6 307.9,329.0 306.4,328.1 304.2,328.6ZM307.9,329.0 310.0,328.4 308.5,327.5 306.4,328.1ZM310.0,328.4 312.2,327.8 310.6,326.9 308.5,327.5ZM312.2,327.8 314.3,327.2 312.7,326.3 310.6,326.9ZM314.3,327.2 316.5,326.6 314.9,325.6 312.7,326.3ZM316.5,326.6 318.6,326.0 317.0,324.8 314.9,325.6ZM318.6,326.0 320.8,325.3 319.1,323.9 317.0,324.8ZM320.8,325.3 322.9,324.7 321.2,323.1 319.1,323.9ZM307.3,331.2 309.4,330.4 307.9,329.0 305.7,329.6ZM309.4,330.4 311.6,329.6 310.0,328.4 307.9,329.0ZM311.6,329.6 313.8,328.9 312.2,327.8 310.0,328.4ZM313.8,328.9 315.9,328.4 314.3,327.2 312.2,327.8ZM315.9,328.4 318.1,327.9 316.5,326.6 314.3,327.2ZM346.2,319.7 348.4,318.6 346.5,317.3 344.3,318.1ZM348.0,321.5 350.2,320.5 348.4,318.6 346.2,319.7ZM349.9,323.2 352.1,322.2 350.2,320.5 348.0,321.5ZM276.3,348.2 278.6,347.4 277.3,345.7 275.1,346.4ZM278.6,347.4 280.8,346.6 279.5,345.0 277.3,345.7ZM280.8,346.6 283.0,346.0 281.7,344.4 279.5,345.0ZM332.9,335.4 335.1,334.3 333.5,332.9 331.2,333.8ZM335.1,334.3 337.4,333.5 335.7,332.1 333.5,332.9ZM314.1,344.1 316.4,343.0 314.9,341.3 312.6,342.3ZM316.4,343.0 318.6,342.0 317.1,340.5 314.9,341.3ZM332.3,338.3 334.5,337.1 332.9,335.4 330.6,336.4ZM334.5,337.1 336.8,335.9 335.1,334.3 332.9,335.4ZM269.8,362.0 272.1,361.3 270.9,359.6 268.7,360.4ZM297.3,352.2 299.6,351.1 298.2,349.5 295.9,350.3ZM299.6,351.1 301.9,349.9 300.5,348.6 298.2,349.5ZM301.9,349.9 304.1,349.2 302.7,347.9 300.5,348.6ZM280.2,361.6 282.5,360.6 281.2,358.5 279.0,359.5ZM298.6,354.2 300.9,352.9 299.6,351.1 297.3,352.2ZM300.9,352.9 303.2,351.5 301.9,349.9 299.6,351.1ZM303.2,351.5 305.6,350.6 304.1,349.2 301.9,349.9ZM358.7,334.1 361.0,332.9 359.1,331.9 356.8,332.7ZM361.0,332.9 363.3,331.9 361.4,331.1 359.1,331.9ZM360.5,335.9 362.8,334.6 361.0,332.9 358.7,334.1ZM282.6,366.3 284.9,365.0 283.7,363.0 281.4,364.2ZM284.9,365.0 287.3,363.9 286.0,361.8 283.7,363.0ZM281.4,368.6 283.8,367.7 282.6,366.3 280.2,367.4ZM283.8,367.7 286.1,366.8 284.9,365.0 282.6,366.3ZM340.5,348.7 342.9,347.7 341.2,346.2 338.9,347.2ZM342.9,347.7 345.2,346.7 343.6,345.0 341.2,346.2ZM344.5,349.4 346.9,348.3 345.2,346.7 342.9,347.7ZM354.1,345.3 356.4,344.0 354.7,342.8 352.3,343.8ZM356.4,344.0 358.8,342.8 357.1,341.8 354.7,342.8ZM358.8,342.8 361.2,342.1 359.4,341.0 357.1,341.8ZM341.4,353.0 343.8,352.0 342.2,350.6 339.8,351.4ZM343.8,352.0 346.2,350.8 344.5,349.4 342.2,350.6ZM346.2,350.8 348.6,349.7 346.9,348.3 344.5,349.4ZM348.6,349.7 351.0,348.8 349.3,347.3 346.9,348.3ZM355.8,347.0 358.2,345.7 356.4,344.0 354.1,345.3ZM358.2,345.7 360.6,344.5 358.8,342.8 356.4,344.0Z" fill="#0606a0" fill-opacity="0.35"/><path d="M252.1,316.3 254.1,315.9 252.9,314.0 250.9,313.9ZM298.8,304.8 300.7,304.2 299.1,301.9 297.2,302.5ZM269.0,314.5 270.9,314.2 269.6,312.0 267.7,312.3ZM270.9,314.2 272.9,313.8 271.6,311.7 269.6,312.0ZM278.8,312.5 280.8,312.2 279.3,310.2 277.4,310.5ZM312.1,304.5 314.1,304.1 312.4,302.1 310.4,302.5ZM314.1,304.1 316.1,303.6 314.3,301.6 312.4,302.1ZM254.5,321.0 256.4,320.7 255.3,318.2 253.3,318.7ZM258.4,320.3 260.4,319.8 259.2,317.3 257.2,317.8ZM268.3,317.3 270.3,316.9 269.0,314.5 267.0,314.9ZM272.3,316.4 274.3,316.0 272.9,313.8 270.9,314.2ZM282.2,314.2 284.2,313.9 282.7,312.1 280.8,312.2ZM307.9,307.7 309.9,307.3 308.2,305.3 306.3,305.7ZM313.9,306.6 315.8,306.1 314.1,304.1 312.1,304.5ZM299.6,311.9 301.6,311.4 300.0,309.3 298.0,309.8ZM303.6,311.0 305.6,310.5 304.0,308.6 302.0,309.0ZM309.6,309.6 311.6,309.2 309.9,307.3 307.9,307.7ZM258.0,327.6 260.0,327.4 258.8,325.6 256.8,325.7ZM323.1,310.6 325.1,310.3 323.3,308.3 321.3,308.9ZM294.0,320.5 296.1,320.0 294.6,317.5 292.6,318.3ZM302.3,318.6 304.3,318.0 302.7,316.0 300.7,316.4ZM304.3,318.0 306.4,317.6 304.8,315.5 302.7,316.0ZM306.4,317.6 308.4,317.1 306.8,315.0 304.8,315.5ZM318.7,314.6 320.7,313.9 319.0,311.8 317.0,312.4ZM257.3,336.0 259.4,335.4 258.2,332.8 256.2,333.4ZM263.6,334.2 265.7,333.6 264.5,331.3 262.4,331.7ZM278.2,329.3 280.3,328.7 279.0,326.3 276.9,326.8ZM288.0,329.8 290.1,329.3 288.7,327.2 286.6,327.6ZM292.1,336.1 294.3,335.4 292.9,332.8 290.7,333.6ZM302.9,332.7 305.1,332.0 303.6,330.0 301.5,330.4ZM305.2,339.3 307.4,338.7 305.9,336.5 303.7,337.1ZM307.4,338.7 309.6,338.1 308.1,335.9 305.9,336.5ZM309.6,338.1 311.8,337.5 310.3,335.3 308.1,335.9ZM311.8,337.5 314.0,336.8 312.5,334.6 310.3,335.3ZM314.0,336.8 316.3,336.2 314.7,334.0 312.5,334.6ZM316.3,336.2 318.5,335.5 316.9,333.3 314.7,334.0ZM318.5,335.5 320.7,334.8 319.1,332.7 316.9,333.3ZM320.7,334.8 322.9,334.2 321.3,332.2 319.1,332.7ZM282.0,348.8 284.3,348.3 283.0,346.0 280.8,346.6ZM299.9,343.9 302.2,343.2 300.7,340.8 298.5,341.5ZM302.2,343.2 304.4,342.4 302.9,340.0 300.7,340.8ZM269.8,356.6 272.0,355.5 270.9,352.6 268.6,353.5ZM341.9,332.5 344.2,332.1 342.4,330.3 340.2,330.9ZM282.3,355.0 284.6,354.1 283.3,351.6 281.0,352.3ZM284.6,354.1 286.8,353.3 285.6,351.0 283.3,351.6ZM320.9,341.5 323.2,341.2 321.6,339.3 319.4,339.9ZM323.2,341.2 325.5,340.7 323.9,338.7 321.6,339.3ZM338.5,337.9 340.8,337.2 339.1,335.1 336.8,335.9ZM333.3,343.8 335.6,342.9 333.9,340.4 331.6,341.4ZM272.1,366.3 274.4,365.8 273.2,363.5 270.9,364.1ZM300.0,357.1 302.3,356.0 300.9,352.9 298.6,354.2ZM302.3,356.0 304.6,354.7 303.2,351.5 300.9,352.9ZM341.9,343.1 344.2,342.0 342.5,339.7 340.2,340.5ZM346.5,341.1 348.9,340.2 347.1,338.4 344.8,339.0ZM273.2,368.6 275.5,368.0 274.4,365.8 272.1,366.3ZM294.3,361.4 296.6,360.8 295.3,358.5 293.0,359.2ZM320.1,352.6 322.4,351.8 320.9,349.7 318.6,350.4ZM322.4,351.8 324.8,351.0 323.3,348.9 320.9,349.7ZM324.8,351.0 327.1,350.3 325.6,348.3 323.3,348.9ZM327.1,350.3 329.5,349.6 327.9,347.7 325.6,348.3ZM334.2,348.5 336.5,347.9 334.9,346.1 332.6,346.7ZM314.5,357.8 316.9,356.8 315.4,354.4 313.1,355.3ZM287.4,368.9 289.8,368.4 288.5,366.0 286.1,366.8ZM335.0,352.6 337.4,352.1 335.8,350.1 333.4,350.8ZM367.8,343.0 370.2,342.3 368.4,340.6 366.0,341.3Z" fill="#4050ff" fill-opacity="0.03"/><path d="M308.5,302.8 310.4,302.5 308.7,300.5 306.8,300.9ZM300.4,307.1 302.3,306.6 300.7,304.2 298.8,304.8ZM310.2,304.9 312.1,304.5 310.4,302.5 308.5,302.8ZM270.3,316.9 272.3,316.4 270.9,314.2 269.0,314.5ZM301.6,311.4 303.6,311.0 302.0,309.0 300.0,309.3ZM260.8,325.6 262.9,325.1 261.6,322.6 259.6,323.1ZM327.2,310.0 329.2,309.4 327.4,307.3 325.4,307.9ZM331.0,311.7 333.1,311.0 331.2,308.7 329.2,309.4ZM333.1,311.0 335.1,310.3 333.3,307.8 331.2,308.7ZM256.2,333.4 258.2,332.8 257.1,330.0 255.0,330.6ZM259.4,335.4 261.5,334.8 260.3,332.2 258.2,332.8ZM261.5,334.8 263.6,334.2 262.4,331.7 260.3,332.2ZM277.4,332.6 279.5,331.9 278.2,329.3 276.1,330.0ZM290.1,329.3 292.2,328.9 290.7,326.8 288.7,327.2ZM311.1,324.9 313.2,324.2 311.6,322.0 309.5,322.5ZM317.5,330.3 319.7,329.9 318.1,327.9 315.9,328.4ZM326.2,328.7 328.4,328.0 326.7,325.8 324.6,326.4ZM325.7,331.3 327.9,330.7 326.2,328.7 324.0,329.2ZM304.4,342.4 306.6,341.7 305.2,339.3 302.9,340.0ZM308.9,341.0 311.1,340.3 309.6,338.1 307.4,338.7ZM272.0,355.5 274.3,354.6 273.1,351.8 270.9,352.6ZM268.7,360.4 270.9,359.6 269.8,356.6 267.5,357.6ZM327.1,342.9 329.3,342.2 327.7,340.0 325.5,340.7ZM279.0,365.1 281.4,364.2 280.2,361.6 277.9,362.3ZM295.3,358.5 297.7,357.8 296.3,355.2 294.0,356.1ZM318.6,350.4 320.9,349.7 319.4,347.4 317.1,348.2ZM334.9,346.1 337.2,345.3 335.6,342.9 333.3,343.8ZM317.8,353.5 320.1,352.6 318.6,350.4 316.3,351.1ZM329.5,349.6 331.8,349.0 330.2,347.2 327.9,347.7ZM331.8,349.0 334.2,348.5 332.6,346.7 330.2,347.2ZM337.4,352.1 339.8,351.4 338.1,349.5 335.8,350.1Z" fill="#4050ff" fill-opacity="0.07"/><path d="M281.3,310.0 283.2,309.7 281.8,307.4 279.8,307.7ZM308.2,305.3 310.2,304.9 308.5,302.8 306.5,303.2ZM256.4,320.7 258.4,320.3 257.2,317.8 255.3,318.2ZM309.9,307.3 311.9,307.0 310.2,304.9 308.2,305.3ZM311.9,307.0 313.9,306.6 312.1,304.5 310.2,304.9ZM313.3,311.0 315.3,310.8 313.6,309.0 311.6,309.2ZM260.0,327.4 262.0,327.5 260.8,325.6 258.8,325.6ZM308.4,317.1 310.5,316.7 308.8,314.4 306.8,315.0ZM303.8,320.9 305.9,320.4 304.3,318.0 302.3,318.6ZM286.6,327.6 288.7,327.2 287.2,324.9 285.2,325.4ZM285.8,330.3 288.0,329.8 286.6,327.6 284.5,327.9ZM304.8,326.9 306.9,326.2 305.4,323.7 303.3,324.4ZM312.5,334.6 314.7,334.0 313.1,331.5 311.0,332.3ZM306.6,341.7 308.9,341.0 307.4,338.7 305.2,339.3ZM280.0,356.1 282.3,355.0 281.0,352.3 278.8,353.0ZM339.1,335.1 341.4,334.8 339.6,332.9 337.4,333.5ZM345.4,336.4 347.7,335.8 345.9,334.0 343.6,334.5ZM319.4,347.4 321.7,346.7 320.2,344.1 317.9,345.0ZM316.3,351.1 318.6,350.4 317.1,348.2 314.8,348.8ZM320.9,349.7 323.3,348.9 321.7,346.7 319.4,347.4ZM344.2,342.0 346.5,341.1 344.8,339.0 342.5,339.7ZM298.0,362.9 300.3,362.3 299.0,360.3 296.6,360.8ZM302.7,361.9 305.1,361.4 303.7,359.2 301.3,359.8Z" fill="#4050ff" fill-opacity="0.10"/><path d="M300.7,304.2 302.6,303.8 301.0,301.5 299.1,301.9ZM306.5,303.2 308.5,302.8 306.8,300.9 304.9,301.1ZM280.8,312.2 282.7,312.1 281.3,310.0 279.3,310.2ZM302.3,306.6 304.3,306.1 302.6,303.8 300.7,304.2ZM306.3,305.7 308.2,305.3 306.5,303.2 304.6,303.5ZM255.6,323.4 257.6,323.2 256.4,320.7 254.5,321.0ZM259.6,323.1 261.6,322.6 260.4,319.8 258.4,320.3ZM313.6,309.0 315.6,308.7 313.9,306.6 311.9,307.0ZM325.1,310.3 327.2,310.0 325.4,307.9 323.3,308.3ZM316.6,315.3 318.7,314.6 317.0,312.4 314.9,312.9ZM335.1,310.3 337.2,309.6 335.3,306.9 333.3,307.8ZM291.4,323.9 293.5,323.4 292.0,320.9 289.9,321.5ZM301.7,321.5 303.8,320.9 302.3,318.6 300.2,319.1ZM288.7,327.2 290.7,326.8 289.3,324.4 287.2,324.9ZM292.2,328.9 294.3,328.6 292.8,326.5 290.7,326.8ZM302.7,327.6 304.8,326.9 303.3,324.4 301.2,325.0ZM306.9,326.2 309.0,325.6 307.5,323.1 305.4,323.7ZM294.3,335.4 296.4,334.8 295.0,332.0 292.9,332.8ZM267.5,357.6 269.8,356.6 268.6,353.5 266.4,354.5ZM274.3,354.6 276.5,353.8 275.3,351.0 273.1,351.8ZM287.8,350.4 290.1,349.8 288.7,347.6 286.5,348.0ZM270.9,359.6 273.2,358.8 272.0,355.5 269.8,356.6ZM343.6,334.5 345.9,334.0 344.2,332.1 341.9,332.5ZM331.0,344.5 333.3,343.8 331.6,341.4 329.3,342.2ZM297.7,357.8 300.0,357.1 298.6,354.2 296.3,355.2ZM327.9,347.7 330.2,347.2 328.6,345.2 326.3,345.7ZM315.4,354.4 317.8,353.5 316.3,351.1 313.9,351.8Z" fill="#4050ff" fill-opacity="0.14"/><path d="M279.3,310.2 281.3,310.0 279.8,307.7 277.9,308.0ZM304.3,306.1 306.3,305.7 304.6,303.5 302.6,303.8ZM311.6,309.2 313.6,309.0 311.9,307.0 309.9,307.3ZM300.2,319.1 302.3,318.6 300.7,316.4 298.7,316.7ZM328.9,312.3 331.0,311.7 329.2,309.4 327.2,310.0ZM258.2,332.8 260.3,332.2 259.1,329.4 257.1,330.0ZM262.4,331.7 264.5,331.3 263.3,329.0 261.2,329.1ZM305.9,320.4 308.0,319.9 306.4,317.6 304.3,318.0ZM322.5,316.7 324.5,315.8 322.8,313.3 320.7,313.9ZM326.6,315.1 328.7,314.6 326.9,312.6 324.8,312.9ZM280.3,328.7 282.4,328.3 281.0,325.9 279.0,326.3ZM284.5,327.9 286.6,327.6 285.2,325.4 283.1,325.7ZM313.7,321.5 315.8,321.0 314.2,319.2 312.1,319.3ZM279.5,331.9 281.6,331.3 280.3,328.7 278.2,329.3ZM309.0,325.6 311.1,324.9 309.5,322.5 307.5,323.1ZM300.8,333.4 302.9,332.7 301.5,330.4 299.3,330.8ZM319.7,329.9 321.9,329.5 320.2,327.4 318.1,327.9ZM314.7,334.0 316.9,333.3 315.3,330.8 313.1,331.5ZM288.7,347.6 291.0,346.9 289.6,344.4 287.4,345.0ZM276.5,353.8 278.8,353.0 277.6,350.3 275.3,351.0ZM278.8,353.0 281.0,352.3 279.8,349.5 277.6,350.3ZM328.6,345.2 331.0,344.5 329.3,342.2 327.1,342.9ZM323.3,348.9 325.6,348.3 324.0,346.2 321.7,346.7ZM325.6,348.3 327.9,347.7 326.3,345.7 324.0,346.2ZM330.2,347.2 332.6,346.7 331.0,344.5 328.6,345.2ZM332.6,346.7 334.9,346.1 333.3,343.8 331.0,344.5ZM300.3,362.3 302.7,361.9 301.3,359.8 299.0,360.3Z" fill="#4050ff" fill-opacity="0.18"/><path d="M248.2,317.1 250.2,316.7 249.0,313.9 247.1,314.0ZM250.2,316.7 252.1,316.3 250.9,313.9 249.0,313.9ZM302.6,303.8 304.6,303.5 302.9,301.3 301.0,301.5ZM304.6,303.5 306.5,303.2 304.9,301.1 302.9,301.3ZM257.6,323.2 259.6,323.1 258.4,320.3 256.4,320.7ZM256.8,325.7 258.8,325.6 257.6,323.2 255.6,323.4ZM258.8,325.6 260.8,325.6 259.6,323.1 257.6,323.2ZM296.1,320.0 298.2,319.6 296.6,317.0 294.6,317.5ZM298.2,319.6 300.2,319.1 298.7,316.7 296.6,317.0ZM310.5,316.7 312.5,316.3 310.9,313.9 308.8,314.4ZM312.5,316.3 314.6,315.9 312.9,313.4 310.9,313.9ZM314.6,315.9 316.6,315.3 314.9,312.9 312.9,313.4ZM322.8,313.3 324.8,312.9 323.1,310.6 321.1,311.1ZM324.8,312.9 326.9,312.6 325.1,310.3 323.1,310.6ZM326.9,312.6 328.9,312.3 327.2,310.0 325.1,310.3ZM260.3,332.2 262.4,331.7 261.2,329.1 259.1,329.4ZM293.5,323.4 295.5,323.0 294.0,320.5 292.0,320.9ZM295.5,323.0 297.6,322.6 296.1,320.0 294.0,320.5ZM297.6,322.6 299.7,322.1 298.2,319.6 296.1,320.0ZM299.7,322.1 301.7,321.5 300.2,319.1 298.2,319.6ZM308.0,319.9 310.0,319.5 308.4,317.1 306.4,317.6ZM310.0,319.5 312.1,319.3 310.5,316.7 308.4,317.1ZM312.1,319.3 314.2,319.2 312.5,316.3 310.5,316.7ZM314.2,319.2 316.2,318.9 314.6,315.9 312.5,316.3ZM316.2,318.9 318.3,318.5 316.6,315.3 314.6,315.9ZM318.3,318.5 320.4,317.7 318.7,314.6 316.6,315.3ZM320.4,317.7 322.5,316.7 320.7,313.9 318.7,314.6ZM324.5,315.8 326.6,315.1 324.8,312.9 322.8,313.3ZM282.4,328.3 284.5,327.9 283.1,325.7 281.0,325.9ZM290.7,326.8 292.8,326.5 291.4,323.9 289.3,324.4ZM292.8,326.5 294.9,326.2 293.5,323.4 291.4,323.9ZM294.9,326.2 297.0,325.9 295.5,323.0 293.5,323.4ZM297.0,325.9 299.1,325.6 297.6,322.6 295.5,323.0ZM299.1,325.6 301.2,325.0 299.7,322.1 297.6,322.6ZM301.2,325.0 303.3,324.4 301.7,321.5 299.7,322.1ZM303.3,324.4 305.4,323.7 303.8,320.9 301.7,321.5ZM305.4,323.7 307.5,323.1 305.9,320.4 303.8,320.9ZM307.5,323.1 309.5,322.5 308.0,319.9 305.9,320.4ZM309.5,322.5 311.6,322.0 310.0,319.5 308.0,319.9ZM311.6,322.0 313.7,321.5 312.1,319.3 310.0,319.5ZM281.6,331.3 283.7,330.8 282.4,328.3 280.3,328.7ZM283.7,330.8 285.8,330.3 284.5,327.9 282.4,328.3ZM294.3,328.6 296.4,328.4 294.9,326.2 292.8,326.5ZM296.4,328.4 298.5,328.3 297.0,325.9 294.9,326.2ZM298.5,328.3 300.6,328.0 299.1,325.6 297.0,325.9ZM300.6,328.0 302.7,327.6 301.2,325.0 299.1,325.6ZM296.4,334.8 298.6,334.1 297.2,331.3 295.0,332.0ZM298.6,334.1 300.8,333.4 299.3,330.8 297.2,331.3ZM321.9,329.5 324.0,329.2 322.4,326.9 320.2,327.4ZM324.0,329.2 326.2,328.7 324.6,326.4 322.4,326.9ZM316.9,333.3 319.1,332.7 317.5,330.3 315.3,330.8ZM319.1,332.7 321.3,332.2 319.7,329.9 317.5,330.3ZM321.3,332.2 323.5,331.7 321.9,329.5 319.7,329.9ZM323.5,331.7 325.7,331.3 324.0,329.2 321.9,329.5ZM284.3,348.3 286.5,348.0 285.2,345.5 283.0,346.0ZM286.5,348.0 288.7,347.6 287.4,345.0 285.2,345.5ZM281.0,352.3 283.3,351.6 282.0,348.8 279.8,349.5ZM283.3,351.6 285.6,351.0 284.3,348.3 282.0,348.8ZM285.6,351.0 287.8,350.4 286.5,348.0 284.3,348.3ZM273.2,358.8 275.5,358.0 274.3,354.6 272.0,355.5ZM275.5,358.0 277.7,357.2 276.5,353.8 274.3,354.6ZM277.7,357.2 280.0,356.1 278.8,353.0 276.5,353.8ZM341.4,334.8 343.6,334.5 341.9,332.5 339.6,332.9ZM320.2,344.1 322.5,343.7 320.9,341.5 318.6,342.0ZM322.5,343.7 324.8,343.4 323.2,341.2 320.9,341.5ZM324.8,343.4 327.1,342.9 325.5,340.7 323.2,341.2ZM340.8,337.2 343.1,336.9 341.4,334.8 339.1,335.1ZM343.1,336.9 345.4,336.4 343.6,334.5 341.4,334.8ZM321.7,346.7 324.0,346.2 322.5,343.7 320.2,344.1ZM324.0,346.2 326.3,345.7 324.8,343.4 322.5,343.7ZM326.3,345.7 328.6,345.2 327.1,342.9 324.8,343.4ZM340.2,340.5 342.5,339.7 340.8,337.2 338.5,337.9ZM342.5,339.7 344.8,339.0 343.1,336.9 340.8,337.2ZM344.8,339.0 347.1,338.4 345.4,336.4 343.1,336.9ZM274.4,365.8 276.7,365.5 275.5,362.9 273.2,363.5ZM276.7,365.5 279.0,365.1 277.9,362.3 275.5,362.9ZM304.6,354.7 307.0,353.8 305.6,350.6 303.2,351.5ZM307.0,353.8 309.3,353.1 307.9,350.2 305.6,350.6ZM309.3,353.1 311.6,352.5 310.2,349.8 307.9,350.2ZM311.6,352.5 313.9,351.8 312.5,349.3 310.2,349.8ZM313.9,351.8 316.3,351.1 314.8,348.8 312.5,349.3ZM275.5,368.0 277.9,367.7 276.7,365.5 274.4,365.8ZM277.9,367.7 280.2,367.4 279.0,365.1 276.7,365.5ZM296.6,360.8 299.0,360.3 297.7,357.8 295.3,358.5ZM299.0,360.3 301.3,359.8 300.0,357.1 297.7,357.8ZM301.3,359.8 303.7,359.2 302.3,356.0 300.0,357.1ZM303.7,359.2 306.0,358.3 304.6,354.7 302.3,356.0ZM306.0,358.3 308.4,357.3 307.0,353.8 304.6,354.7ZM308.4,357.3 310.7,356.3 309.3,353.1 307.0,353.8ZM310.7,356.3 313.1,355.3 311.6,352.5 309.3,353.1ZM313.1,355.3 315.4,354.4 313.9,351.8 311.6,352.5ZM364.7,337.0 367.0,336.2 365.1,333.5 362.8,334.6ZM289.8,368.4 292.1,368.0 290.9,365.3 288.5,366.0ZM292.1,368.0 294.5,367.2 293.2,364.5 290.9,365.3ZM288.6,370.9 291.0,370.7 289.8,368.4 287.4,368.9ZM291.0,370.7 293.4,370.7 292.1,368.0 289.8,368.4ZM293.4,370.7 295.8,369.9 294.5,367.2 292.1,368.0ZM363.0,343.8 365.4,343.4 363.6,341.7 361.2,342.1ZM365.4,343.4 367.8,343.0 366.0,341.3 363.6,341.7Z" fill="#4050ff" fill-opacity="0.21"/></g>
<g filter="url(#bl1)">
<path d="M279,318 L287,324 L288,338 L281,339 Z" fill="#0808a0" opacity="0.75"/>
<path d="M346,312 L354,320 L355,338 L348,339 Z" fill="#0808a0" opacity="0.75"/>
</g></g>
<g filter="url(#bl2)"><ellipse cx="274" cy="337" rx="9" ry="4" fill="#60c8ff" opacity="0.8"/><ellipse cx="337" cy="337" rx="10" ry="4" fill="#60c8ff" opacity="0.8"/></g>
<g mask="url(#c3Lm)"><path d="M267.00,346.10 C266.75,345.27 265.83,342.93 265.50,341.10 C265.17,339.27 265.02,336.93 265.00,335.10 C264.98,333.27 265.17,331.92 265.40,330.10 C265.63,328.28 266.00,326.42 266.40,324.20 C266.80,321.98 267.30,319.28 267.80,316.80 C268.30,314.32 269.00,311.17 269.40,309.30 C269.80,307.43 269.93,306.47 270.20,305.60 C270.47,304.73 270.72,304.10 271.00,304.10 C271.28,304.10 271.53,304.73 271.90,305.60 C272.27,306.47 272.32,307.43 273.20,309.30 C274.08,311.17 275.90,314.32 277.20,316.80 C278.50,319.28 279.87,321.98 281.00,324.20 C282.13,326.42 283.25,328.28 284.00,330.10 C284.75,331.92 285.25,333.27 285.50,335.10 C285.75,336.93 285.92,339.27 285.50,341.10 C285.08,342.93 283.42,345.27 283.00,346.10Z" fill="url(#c3Lg)" filter="url(#bl05)"/>
<path d="M267.00,346.10 C266.75,345.27 265.83,342.93 265.50,341.10 C265.17,339.27 265.02,336.93 265.00,335.10 C264.98,333.27 265.17,331.92 265.40,330.10 C265.63,328.28 266.00,326.42 266.40,324.20 C266.80,321.98 267.30,319.28 267.80,316.80 C268.30,314.32 269.00,311.17 269.40,309.30 C269.80,307.43 269.93,306.47 270.20,305.60 C270.47,304.73 270.72,304.10 271.00,304.10 C271.28,304.10 271.53,304.73 271.90,305.60 C272.27,306.47 272.32,307.43 273.20,309.30 C274.08,311.17 275.90,314.32 277.20,316.80 C278.50,319.28 279.87,321.98 281.00,324.20 C282.13,326.42 283.25,328.28 284.00,330.10 C284.75,331.92 285.25,333.27 285.50,335.10 C285.75,336.93 285.92,339.27 285.50,341.10 C285.08,342.93 283.42,345.27 283.00,346.10Z" fill="url(#c3Lh)" filter="url(#bl05)"/></g>
<g mask="url(#c3Dm)"><path d="M330.50,345.60 C330.00,344.77 328.17,342.43 327.50,340.60 C326.83,338.77 326.72,336.33 326.50,334.60 C326.28,332.87 326.13,331.68 326.20,330.20 C326.27,328.72 326.28,327.43 326.90,325.70 C327.52,323.97 328.90,322.03 329.90,319.80 C330.90,317.57 331.92,314.53 332.90,312.30 C333.88,310.07 335.03,307.82 335.80,306.40 C336.57,304.98 337.05,304.43 337.50,303.80 C337.95,303.17 338.20,302.60 338.50,302.60 C338.80,302.60 339.00,303.17 339.30,303.80 C339.60,304.43 339.77,304.98 340.30,306.40 C340.83,307.82 341.75,310.07 342.50,312.30 C343.25,314.53 344.23,317.57 344.80,319.80 C345.37,322.03 345.53,323.97 345.90,325.70 C346.27,327.43 346.57,328.72 347.00,330.20 C347.43,331.68 348.17,332.87 348.50,334.60 C348.83,336.33 349.17,338.77 349.00,340.60 C348.83,342.43 347.75,344.77 347.50,345.60Z" fill="url(#c3Dg)" filter="url(#bl05)"/>
<path d="M330.50,345.60 C330.00,344.77 328.17,342.43 327.50,340.60 C326.83,338.77 326.72,336.33 326.50,334.60 C326.28,332.87 326.13,331.68 326.20,330.20 C326.27,328.72 326.28,327.43 326.90,325.70 C327.52,323.97 328.90,322.03 329.90,319.80 C330.90,317.57 331.92,314.53 332.90,312.30 C333.88,310.07 335.03,307.82 335.80,306.40 C336.57,304.98 337.05,304.43 337.50,303.80 C337.95,303.17 338.20,302.60 338.50,302.60 C338.80,302.60 339.00,303.17 339.30,303.80 C339.60,304.43 339.77,304.98 340.30,306.40 C340.83,307.82 341.75,310.07 342.50,312.30 C343.25,314.53 344.23,317.57 344.80,319.80 C345.37,322.03 345.53,323.97 345.90,325.70 C346.27,327.43 346.57,328.72 347.00,330.20 C347.43,331.68 348.17,332.87 348.50,334.60 C348.83,336.33 349.17,338.77 349.00,340.60 C348.83,342.43 347.75,344.77 347.50,345.60Z" fill="url(#c3Dh)" filter="url(#bl05)"/></g>
<polyline points="246,316.5 275.8,377.2 373.3,344" fill="none" stroke="#aaa" stroke-width="0.6"/>
<line x1="247.2" y1="323.5" x2="249.4" y2="323.5" stroke="#999" stroke-width="0.5"/>
<line x1="253.6" y1="336.5" x2="255.8" y2="336.5" stroke="#999" stroke-width="0.5"/>
<line x1="261" y1="351.5" x2="263.2" y2="351.5" stroke="#999" stroke-width="0.5"/>
<line x1="269.8" y1="369.5" x2="272" y2="369.5" stroke="#999" stroke-width="0.5"/>
<line x1="263.6" y1="294.4" x2="268" y2="301.9" stroke="#c81818" stroke-width="1.1"/>
<circle cx="268" cy="301.9" r="2.1" fill="#d01818"/>
<line x1="344.5" y1="292.4" x2="341.5" y2="299.2" stroke="#c81818" stroke-width="1.1"/>
<circle cx="341.5" cy="299.2" r="2.1" fill="#d01818"/>
<text x="263" y="291.6" font-size="8.5" font-weight="bold" text-anchor="middle" fill="#111" stroke="#111" stroke-width="0.18" ><tspan font-size="6.4">L</tspan>–Ribulose</text>
<text x="344" y="291.6" font-size="8.5" font-weight="bold" text-anchor="middle" fill="#111" stroke="#111" stroke-width="0.18" ><tspan font-size="6.4">D</tspan>–Ribulose</text>
<text x="232.9" y="326.2" font-size="8" font-weight="bold" text-anchor="middle" fill="#111" stroke="#111" stroke-width="0.18" >2.3</text>
<text x="240.3" y="338.9" font-size="8" font-weight="bold" text-anchor="middle" fill="#111" stroke="#111" stroke-width="0.18" >2.2</text>
<text x="246.8" y="353.5" font-size="8" font-weight="bold" text-anchor="middle" fill="#111" stroke="#111" stroke-width="0.18" >2.1</text>
<text x="257.2" y="371.6" font-size="8" font-weight="bold" text-anchor="middle" fill="#111" stroke="#111" stroke-width="0.18" >2.0</text>
<text x="217.8" y="351" font-size="7.7" font-weight="bold" text-anchor="middle" fill="#111" stroke="#111" stroke-width="0.18" >2D RT (s)</text>
<text x="285.3" y="386.9" font-size="8" font-weight="bold" text-anchor="middle" fill="#111" stroke="#111" stroke-width="0.18" >16.7</text>
<text x="331.3" y="371.6" font-size="8" font-weight="bold" text-anchor="middle" fill="#111" stroke="#111" stroke-width="0.18" >17.5</text>
<text x="372" y="355.1" font-size="8" font-weight="bold" text-anchor="middle" fill="#111" stroke="#111" stroke-width="0.18" >18.3</text>
<text x="344.8" y="385.9" font-size="7.7" font-weight="bold" text-anchor="middle" fill="#111" stroke="#111" stroke-width="0.18" >1D RT (min)</text>
<line x1="452.4" y1="98.3" x2="452.4" y2="94.9" stroke="#555" stroke-width="0.8"/>
<line x1="453.4" y1="98.3" x2="453.4" y2="96.5" stroke="#555" stroke-width="0.8"/>
<line x1="458.1" y1="98.3" x2="458.1" y2="96.5" stroke="#555" stroke-width="0.8"/>
<line x1="466.4" y1="98.3" x2="466.4" y2="97" stroke="#555" stroke-width="0.8"/>
<line x1="473.5" y1="98.3" x2="473.5" y2="90.7" stroke="#555" stroke-width="0.8"/>
<line x1="476.3" y1="98.3" x2="476.3" y2="94.2" stroke="#555" stroke-width="0.8"/>
<line x1="479.5" y1="98.3" x2="479.5" y2="93.1" stroke="#555" stroke-width="0.8"/>
<line x1="484.5" y1="98.3" x2="484.5" y2="91" stroke="#555" stroke-width="0.8"/>
<line x1="487.3" y1="98.3" x2="487.3" y2="95.9" stroke="#555" stroke-width="0.8"/>
<line x1="499.5" y1="98.3" x2="499.5" y2="89" stroke="#555" stroke-width="0.8"/>
<line x1="503.5" y1="98.3" x2="503.5" y2="94.8" stroke="#555" stroke-width="0.8"/>
<line x1="505" y1="98.3" x2="505" y2="94.4" stroke="#555" stroke-width="0.8"/>
<line x1="506.5" y1="98.3" x2="506.5" y2="95.5" stroke="#555" stroke-width="0.8"/>
<line x1="507.8" y1="98.3" x2="507.8" y2="96" stroke="#555" stroke-width="0.8"/>
<line x1="512" y1="98.3" x2="512" y2="97" stroke="#555" stroke-width="0.8"/>
<line x1="516" y1="98.3" x2="516" y2="96.5" stroke="#555" stroke-width="0.8"/>
<line x1="519.5" y1="98.3" x2="519.5" y2="97" stroke="#555" stroke-width="0.8"/>
<line x1="522" y1="98.3" x2="522" y2="97" stroke="#555" stroke-width="0.8"/>
<line x1="526.3" y1="98.3" x2="526.3" y2="85.8" stroke="#555" stroke-width="0.8"/>
<line x1="530.2" y1="98.3" x2="530.2" y2="96.5" stroke="#555" stroke-width="0.8"/>
<line x1="482.3" y1="98.3" x2="482.3" y2="51" stroke="#666" stroke-width="1.3"/>
<line x1="481.1" y1="98.3" x2="481.1" y2="20.5" stroke="#666" stroke-width="0.8"/>
<line x1="445" y1="18.3" x2="445" y2="98.7" stroke="#444" stroke-width="0.8"/>
<line x1="444.6" y1="98.3" x2="534.5" y2="98.3" stroke="#333" stroke-width="0.9"/>
<line x1="443" y1="98.3" x2="445" y2="98.3" stroke="#444" stroke-width="0.6"/>
<line x1="443.8" y1="90.52" x2="445" y2="90.52" stroke="#444" stroke-width="0.6"/>
<line x1="443" y1="82.74" x2="445" y2="82.74" stroke="#444" stroke-width="0.6"/>
<line x1="443.8" y1="74.96" x2="445" y2="74.96" stroke="#444" stroke-width="0.6"/>
<line x1="443" y1="67.18" x2="445" y2="67.18" stroke="#444" stroke-width="0.6"/>
<line x1="443.8" y1="59.4" x2="445" y2="59.4" stroke="#444" stroke-width="0.6"/>
<line x1="443" y1="51.62" x2="445" y2="51.62" stroke="#444" stroke-width="0.6"/>
<line x1="443.8" y1="43.84" x2="445" y2="43.84" stroke="#444" stroke-width="0.6"/>
<line x1="443" y1="36.06" x2="445" y2="36.06" stroke="#444" stroke-width="0.6"/>
<line x1="443.8" y1="28.28" x2="445" y2="28.28" stroke="#444" stroke-width="0.6"/>
<line x1="443" y1="20.5" x2="445" y2="20.5" stroke="#444" stroke-width="0.6"/>
<line x1="445.4" y1="98.3" x2="445.4" y2="100.3" stroke="#444" stroke-width="0.6"/>
<line x1="457.94" y1="98.3" x2="457.94" y2="100.3" stroke="#444" stroke-width="0.6"/>
<line x1="470.48" y1="98.3" x2="470.48" y2="100.3" stroke="#444" stroke-width="0.6"/>
<line x1="483.02" y1="98.3" x2="483.02" y2="100.3" stroke="#444" stroke-width="0.6"/>
<line x1="495.56" y1="98.3" x2="495.56" y2="100.3" stroke="#444" stroke-width="0.6"/>
<line x1="508.1" y1="98.3" x2="508.1" y2="100.3" stroke="#444" stroke-width="0.6"/>
<line x1="520.64" y1="98.3" x2="520.64" y2="100.3" stroke="#444" stroke-width="0.6"/>
<line x1="533.18" y1="98.3" x2="533.18" y2="100.3" stroke="#444" stroke-width="0.6"/>
<text x="441.6" y="85.84" font-size="8.8" text-anchor="end" fill="#222">20</text>
<text x="441.6" y="70.28" font-size="8.8" text-anchor="end" fill="#222">40</text>
<text x="441.6" y="54.72" font-size="8.8" text-anchor="end" fill="#222">60</text>
<text x="441.6" y="39.16" font-size="8.8" text-anchor="end" fill="#222">80</text>
<text x="441.6" y="23.6" font-size="8.8" text-anchor="end" fill="#222">100</text>
<text x="457.94" y="108.7" font-size="8.8" text-anchor="middle" fill="#222">60</text>
<text x="483.02" y="108.7" font-size="8.8" text-anchor="middle" fill="#222">100</text>
<text x="508.1" y="108.7" font-size="8.8" text-anchor="middle" fill="#222">140</text>
<text x="533.6" y="108.7" font-size="9" font-style="italic" text-anchor="middle" fill="#222" stroke="#222" stroke-width="0.25">m/z</text>
<text transform="translate(425,59.5) rotate(-90)" font-size="8" font-weight="bold" text-anchor="middle" fill="#222">Relative intensity</text>
<text x="489.9" y="120.7" font-size="8.5" font-weight="bold" text-anchor="middle" fill="#111"><tspan font-size="6.4">L</tspan>–Ribulose</text>
<text x="482.7" y="19.3" font-size="8.4" font-weight="bold" text-anchor="middle" fill="#111">97</text>
<text x="492.5" y="41" font-size="8.4" font-weight="bold" text-anchor="middle" fill="#111">98</text>
<text x="500.5" y="86.6" font-size="8.4" font-weight="bold" text-anchor="middle" fill="#111">126</text>
<text x="529.7" y="80.3" font-size="8.4" font-weight="bold" text-anchor="middle" fill="#111">168</text>
<line x1="483.2" y1="50" x2="488.6" y2="42.5" stroke="#555" stroke-width="0.6"/>
<line x1="526.3" y1="85" x2="529.2" y2="81.4" stroke="#555" stroke-width="0.6"/>
<line x1="594.4" y1="98.3" x2="594.4" y2="95.4" stroke="#555" stroke-width="0.8"/>
<rect x="596.3" y="90.2" width="2.3" height="8.1" fill="#999"/>
<line x1="599.4" y1="98.3" x2="599.4" y2="77.2" stroke="#666" stroke-width="0.8"/>
<line x1="600.6" y1="98.3" x2="600.6" y2="96.5" stroke="#555" stroke-width="0.8"/>
<line x1="603.5" y1="98.3" x2="603.5" y2="94.9" stroke="#555" stroke-width="0.8"/>
<line x1="609.5" y1="98.3" x2="609.5" y2="96" stroke="#555" stroke-width="0.8"/>
<rect x="611" y="90.7" width="1.6" height="7.6" fill="#aaa"/>
<rect x="614.7" y="91" width="1.6" height="7.3" fill="#999"/>
<rect x="622.8" y="75.1" width="1.2" height="23.2" fill="#888"/>
<line x1="626.5" y1="98.3" x2="626.5" y2="85.5" stroke="#555" stroke-width="0.8"/>
<line x1="625.7" y1="98.3" x2="625.7" y2="90.2" stroke="#555" stroke-width="0.8"/>
<line x1="629.2" y1="98.3" x2="629.2" y2="92.8" stroke="#555" stroke-width="0.8"/>
<line x1="634.5" y1="98.3" x2="634.5" y2="91.8" stroke="#555" stroke-width="0.8"/>
<line x1="635.5" y1="98.3" x2="635.5" y2="93.3" stroke="#555" stroke-width="0.8"/>
<line x1="636.8" y1="98.3" x2="636.8" y2="93.3" stroke="#555" stroke-width="0.8"/>
<line x1="642.5" y1="98.3" x2="642.5" y2="80.3" stroke="#333" stroke-width="0.8"/>
<line x1="649.5" y1="98.3" x2="649.5" y2="96" stroke="#555" stroke-width="0.8"/>
<line x1="651.5" y1="98.3" x2="651.5" y2="96" stroke="#555" stroke-width="0.8"/>
<line x1="656" y1="98.3" x2="656" y2="96.5" stroke="#555" stroke-width="0.8"/>
<line x1="659" y1="98.3" x2="659" y2="96.5" stroke="#555" stroke-width="0.8"/>
<line x1="668" y1="98.3" x2="668" y2="89.7" stroke="#555" stroke-width="0.8"/>
<line x1="672.7" y1="98.3" x2="672.7" y2="97" stroke="#555" stroke-width="0.8"/>
<line x1="625.1" y1="98.3" x2="625.1" y2="40.3" stroke="#666" stroke-width="1.3"/>
<line x1="624.2" y1="98.3" x2="624.2" y2="20.5" stroke="#666" stroke-width="0.8"/>
<rect x="623.5" y="96.5" width="2" height="1.8" fill="#111"/>
<line x1="587.6" y1="18.3" x2="587.6" y2="98.7" stroke="#444" stroke-width="0.8"/>
<line x1="587.2" y1="98.3" x2="677.1" y2="98.3" stroke="#333" stroke-width="0.9"/>
<line x1="585.6" y1="98.3" x2="587.6" y2="98.3" stroke="#444" stroke-width="0.6"/>
<line x1="586.4" y1="90.52" x2="587.6" y2="90.52" stroke="#444" stroke-width="0.6"/>
<line x1="585.6" y1="82.74" x2="587.6" y2="82.74" stroke="#444" stroke-width="0.6"/>
<line x1="586.4" y1="74.96" x2="587.6" y2="74.96" stroke="#444" stroke-width="0.6"/>
<line x1="585.6" y1="67.18" x2="587.6" y2="67.18" stroke="#444" stroke-width="0.6"/>
<line x1="586.4" y1="59.4" x2="587.6" y2="59.4" stroke="#444" stroke-width="0.6"/>
<line x1="585.6" y1="51.62" x2="587.6" y2="51.62" stroke="#444" stroke-width="0.6"/>
<line x1="586.4" y1="43.84" x2="587.6" y2="43.84" stroke="#444" stroke-width="0.6"/>
<line x1="585.6" y1="36.06" x2="587.6" y2="36.06" stroke="#444" stroke-width="0.6"/>
<line x1="586.4" y1="28.28" x2="587.6" y2="28.28" stroke="#444" stroke-width="0.6"/>
<line x1="585.6" y1="20.5" x2="587.6" y2="20.5" stroke="#444" stroke-width="0.6"/>
<line x1="588" y1="98.3" x2="588" y2="100.3" stroke="#444" stroke-width="0.6"/>
<line x1="600.54" y1="98.3" x2="600.54" y2="100.3" stroke="#444" stroke-width="0.6"/>
<line x1="613.08" y1="98.3" x2="613.08" y2="100.3" stroke="#444" stroke-width="0.6"/>
<line x1="625.62" y1="98.3" x2="625.62" y2="100.3" stroke="#444" stroke-width="0.6"/>
<line x1="638.16" y1="98.3" x2="638.16" y2="100.3" stroke="#444" stroke-width="0.6"/>
<line x1="650.7" y1="98.3" x2="650.7" y2="100.3" stroke="#444" stroke-width="0.6"/>
<line x1="663.24" y1="98.3" x2="663.24" y2="100.3" stroke="#444" stroke-width="0.6"/>
<line x1="675.78" y1="98.3" x2="675.78" y2="100.3" stroke="#444" stroke-width="0.6"/>
<text x="584.2" y="85.84" font-size="8.8" text-anchor="end" fill="#222">20</text>
<text x="584.2" y="70.28" font-size="8.8" text-anchor="end" fill="#222">40</text>
<text x="584.2" y="54.72" font-size="8.8" text-anchor="end" fill="#222">60</text>
<text x="584.2" y="39.16" font-size="8.8" text-anchor="end" fill="#222">80</text>
<text x="584.2" y="23.6" font-size="8.8" text-anchor="end" fill="#222">100</text>
<text x="600.54" y="108.7" font-size="8.8" text-anchor="middle" fill="#222">60</text>
<text x="625.62" y="108.7" font-size="8.8" text-anchor="middle" fill="#222">100</text>
<text x="650.7" y="108.7" font-size="8.8" text-anchor="middle" fill="#222">140</text>
<text x="676.2" y="108.7" font-size="9" font-style="italic" text-anchor="middle" fill="#222" stroke="#222" stroke-width="0.25">m/z</text>
<text transform="translate(567.6,59.5) rotate(-90)" font-size="8" font-weight="bold" text-anchor="middle" fill="#222">Relative intensity</text>
<text x="632.5" y="120.7" font-size="8.5" font-weight="bold" text-anchor="middle" fill="#111"><tspan font-size="6.4">D</tspan>–Ribulose</text>
<text x="624.5" y="19.3" font-size="8.4" font-weight="bold" text-anchor="middle" fill="#111">97</text>
<text x="634.7" y="31.7" font-size="8.4" font-weight="bold" text-anchor="middle" fill="#111">98</text>
<text x="641.5" y="78.8" font-size="8.4" font-weight="bold" text-anchor="middle" fill="#111">126</text>
<text x="672.2" y="84" font-size="8.4" font-weight="bold" text-anchor="middle" fill="#111">168</text>
<line x1="625.4" y1="40" x2="631" y2="33.3" stroke="#555" stroke-width="0.6"/>
<line x1="668.5" y1="89.2" x2="671.7" y2="85" stroke="#555" stroke-width="0.6"/>
<rect x="452.9" y="234.4" width="1" height="3.9" fill="#222"/>
<line x1="454.3" y1="238.3" x2="454.3" y2="230.7" stroke="#555" stroke-width="0.8"/>
<line x1="456.3" y1="238.3" x2="456.3" y2="222.7" stroke="#555" stroke-width="0.8"/>
<line x1="458.4" y1="238.3" x2="458.4" y2="233.9" stroke="#555" stroke-width="0.8"/>
<line x1="461.5" y1="238.3" x2="461.5" y2="236" stroke="#555" stroke-width="0.8"/>
<line x1="469.4" y1="238.3" x2="469.4" y2="235.4" stroke="#555" stroke-width="0.8"/>
<line x1="472.5" y1="238.3" x2="472.5" y2="229.7" stroke="#555" stroke-width="0.8"/>
<line x1="474.3" y1="238.3" x2="474.3" y2="225" stroke="#aaa" stroke-width="0.8"/>
<line x1="476.3" y1="238.3" x2="476.3" y2="233.9" stroke="#555" stroke-width="0.8"/>
<line x1="479.5" y1="238.3" x2="479.5" y2="233.9" stroke="#555" stroke-width="0.8"/>
<rect x="480.5" y="224" width="2.1" height="14.3" fill="#888"/>
<line x1="483.6" y1="238.3" x2="483.6" y2="230.7" stroke="#555" stroke-width="0.8"/>
<line x1="486.6" y1="238.3" x2="486.6" y2="226" stroke="#555" stroke-width="0.8"/>
<line x1="487.8" y1="238.3" x2="487.8" y2="230.2" stroke="#555" stroke-width="0.8"/>
<line x1="496.3" y1="238.3" x2="496.3" y2="236" stroke="#555" stroke-width="0.8"/>
<line x1="501.5" y1="238.3" x2="501.5" y2="234" stroke="#555" stroke-width="0.8"/>
<line x1="502.8" y1="238.3" x2="502.8" y2="233.9" stroke="#555" stroke-width="0.8"/>
<line x1="504.5" y1="238.3" x2="504.5" y2="230.7" stroke="#555" stroke-width="0.8"/>
<line x1="505.7" y1="238.3" x2="505.7" y2="234" stroke="#555" stroke-width="0.8"/>
<line x1="515.3" y1="238.3" x2="515.3" y2="234.4" stroke="#555" stroke-width="0.8"/>
<line x1="517.7" y1="238.3" x2="517.7" y2="236.5" stroke="#555" stroke-width="0.8"/>
<rect x="524.5" y="231.3" width="0.8" height="7" fill="#aaa"/>
<line x1="529.5" y1="238.3" x2="529.5" y2="236" stroke="#555" stroke-width="0.8"/>
<line x1="532.6" y1="238.3" x2="532.6" y2="234.9" stroke="#555" stroke-width="0.8"/>
<line x1="482.5" y1="238.3" x2="482.5" y2="182.5" stroke="#666" stroke-width="1.3"/>
<line x1="481.1" y1="238.3" x2="481.1" y2="160.9" stroke="#666" stroke-width="0.8"/>
<rect x="481" y="230.7" width="1.6" height="7.6" fill="#111"/>
<line x1="445" y1="158.3" x2="445" y2="238.7" stroke="#444" stroke-width="0.8"/>
<line x1="444.6" y1="238.3" x2="534.5" y2="238.3" stroke="#333" stroke-width="0.9"/>
<line x1="443" y1="238.3" x2="445" y2="238.3" stroke="#444" stroke-width="0.6"/>
<line x1="443.8" y1="230.52" x2="445" y2="230.52" stroke="#444" stroke-width="0.6"/>
<line x1="443" y1="222.74" x2="445" y2="222.74" stroke="#444" stroke-width="0.6"/>
<line x1="443.8" y1="214.96" x2="445" y2="214.96" stroke="#444" stroke-width="0.6"/>
<line x1="443" y1="207.18" x2="445" y2="207.18" stroke="#444" stroke-width="0.6"/>
<line x1="443.8" y1="199.4" x2="445" y2="199.4" stroke="#444" stroke-width="0.6"/>
<line x1="443" y1="191.62" x2="445" y2="191.62" stroke="#444" stroke-width="0.6"/>
<line x1="443.8" y1="183.84" x2="445" y2="183.84" stroke="#444" stroke-width="0.6"/>
<line x1="443" y1="176.06" x2="445" y2="176.06" stroke="#444" stroke-width="0.6"/>
<line x1="443.8" y1="168.28" x2="445" y2="168.28" stroke="#444" stroke-width="0.6"/>
<line x1="443" y1="160.5" x2="445" y2="160.5" stroke="#444" stroke-width="0.6"/>
<line x1="445.4" y1="238.3" x2="445.4" y2="240.3" stroke="#444" stroke-width="0.6"/>
<line x1="457.94" y1="238.3" x2="457.94" y2="240.3" stroke="#444" stroke-width="0.6"/>
<line x1="470.48" y1="238.3" x2="470.48" y2="240.3" stroke="#444" stroke-width="0.6"/>
<line x1="483.02" y1="238.3" x2="483.02" y2="240.3" stroke="#444" stroke-width="0.6"/>
<line x1="495.56" y1="238.3" x2="495.56" y2="240.3" stroke="#444" stroke-width="0.6"/>
<line x1="508.1" y1="238.3" x2="508.1" y2="240.3" stroke="#444" stroke-width="0.6"/>
<line x1="520.64" y1="238.3" x2="520.64" y2="240.3" stroke="#444" stroke-width="0.6"/>
<line x1="533.18" y1="238.3" x2="533.18" y2="240.3" stroke="#444" stroke-width="0.6"/>
<text x="441.6" y="225.84" font-size="8.8" text-anchor="end" fill="#222">20</text>
<text x="441.6" y="210.28" font-size="8.8" text-anchor="end" fill="#222">40</text>
<text x="441.6" y="194.72" font-size="8.8" text-anchor="end" fill="#222">60</text>
<text x="441.6" y="179.16" font-size="8.8" text-anchor="end" fill="#222">80</text>
<text x="441.6" y="163.6" font-size="8.8" text-anchor="end" fill="#222">100</text>
<text x="457.94" y="248.7" font-size="8.8" text-anchor="middle" fill="#222">60</text>
<text x="483.02" y="248.7" font-size="8.8" text-anchor="middle" fill="#222">100</text>
<text x="508.1" y="248.7" font-size="8.8" text-anchor="middle" fill="#222">140</text>
<text x="533.6" y="248.7" font-size="9" font-style="italic" text-anchor="middle" fill="#222" stroke="#222" stroke-width="0.25">m/z</text>
<text transform="translate(425,199.5) rotate(-90)" font-size="8" font-weight="bold" text-anchor="middle" fill="#222">Relative intensity</text>
<text x="489.9" y="260.7" font-size="8.5" font-weight="bold" text-anchor="middle" fill="#111"><tspan font-size="6.4">L</tspan>–Ribulose</text>
<text x="482" y="158.1" font-size="8.4" font-weight="bold" text-anchor="middle" fill="#111">97</text>
<text x="492.5" y="173.3" font-size="8.4" font-weight="bold" text-anchor="middle" fill="#111">98</text>
<line x1="483.2" y1="181.6" x2="488.8" y2="174.8" stroke="#555" stroke-width="0.6"/>
<line x1="594.2" y1="238.8" x2="594.2" y2="227.3" stroke="#555" stroke-width="0.8"/>
<line x1="595.8" y1="238.8" x2="595.8" y2="230.2" stroke="#555" stroke-width="0.8"/>
<rect x="598.5" y="232" width="3.2" height="6.8" fill="#aaa"/>
<line x1="604.3" y1="238.8" x2="604.3" y2="226.6" stroke="#555" stroke-width="0.8"/>
<line x1="610.5" y1="238.8" x2="610.5" y2="234.9" stroke="#555" stroke-width="0.8"/>
<line x1="611.6" y1="238.8" x2="611.6" y2="234.9" stroke="#555" stroke-width="0.8"/>
<line x1="615.2" y1="238.8" x2="615.2" y2="220.3" stroke="#555" stroke-width="0.8"/>
<line x1="616.3" y1="238.8" x2="616.3" y2="229.7" stroke="#555" stroke-width="0.8"/>
<line x1="618.3" y1="238.8" x2="618.3" y2="236.5" stroke="#555" stroke-width="0.8"/>
<rect x="622.5" y="213" width="1.3" height="25.8" fill="#888"/>
<line x1="626.5" y1="238.8" x2="626.5" y2="227.6" stroke="#555" stroke-width="0.8"/>
<line x1="628.6" y1="238.8" x2="628.6" y2="231.8" stroke="#555" stroke-width="0.8"/>
<line x1="634" y1="238.8" x2="634" y2="236" stroke="#555" stroke-width="0.8"/>
<line x1="637.5" y1="238.8" x2="637.5" y2="233.3" stroke="#555" stroke-width="0.8"/>
<line x1="642.3" y1="238.8" x2="642.3" y2="224" stroke="#333" stroke-width="0.8"/>
<line x1="643.3" y1="238.8" x2="643.3" y2="233.3" stroke="#555" stroke-width="0.8"/>
<line x1="649" y1="238.8" x2="649" y2="235.4" stroke="#555" stroke-width="0.8"/>
<line x1="650.8" y1="238.8" x2="650.8" y2="235.4" stroke="#555" stroke-width="0.8"/>
<line x1="657" y1="238.8" x2="657" y2="236.5" stroke="#555" stroke-width="0.8"/>
<line x1="659" y1="238.8" x2="659" y2="236.5" stroke="#555" stroke-width="0.8"/>
<line x1="665" y1="238.8" x2="665" y2="233.3" stroke="#555" stroke-width="0.8"/>
<line x1="666.5" y1="238.8" x2="666.5" y2="233.3" stroke="#555" stroke-width="0.8"/>
<line x1="668.6" y1="238.8" x2="668.6" y2="225.5" stroke="#555" stroke-width="0.8"/>
<line x1="669.4" y1="238.8" x2="669.4" y2="233.3" stroke="#555" stroke-width="0.8"/>
<line x1="672" y1="238.8" x2="672" y2="236.5" stroke="#555" stroke-width="0.8"/>
<line x1="674" y1="238.8" x2="674" y2="236.5" stroke="#555" stroke-width="0.8"/>
<line x1="675.8" y1="238.8" x2="675.8" y2="236.5" stroke="#555" stroke-width="0.8"/>
<line x1="624.3" y1="238.8" x2="624.3" y2="174.8" stroke="#666" stroke-width="1.3"/>
<line x1="623.4" y1="238.8" x2="623.4" y2="160.5" stroke="#666" stroke-width="0.8"/>
<rect x="593.5" y="234" width="1.5" height="4.8" fill="#111"/>
<line x1="587.6" y1="158.8" x2="587.6" y2="239.2" stroke="#444" stroke-width="0.8"/>
<line x1="587.2" y1="238.8" x2="677.1" y2="238.8" stroke="#333" stroke-width="0.9"/>
<line x1="585.6" y1="238.8" x2="587.6" y2="238.8" stroke="#444" stroke-width="0.6"/>
<line x1="586.4" y1="231.02" x2="587.6" y2="231.02" stroke="#444" stroke-width="0.6"/>
<line x1="585.6" y1="223.24" x2="587.6" y2="223.24" stroke="#444" stroke-width="0.6"/>
<line x1="586.4" y1="215.46" x2="587.6" y2="215.46" stroke="#444" stroke-width="0.6"/>
<line x1="585.6" y1="207.68" x2="587.6" y2="207.68" stroke="#444" stroke-width="0.6"/>
<line x1="586.4" y1="199.9" x2="587.6" y2="199.9" stroke="#444" stroke-width="0.6"/>
<line x1="585.6" y1="192.12" x2="587.6" y2="192.12" stroke="#444" stroke-width="0.6"/>
<line x1="586.4" y1="184.34" x2="587.6" y2="184.34" stroke="#444" stroke-width="0.6"/>
<line x1="585.6" y1="176.56" x2="587.6" y2="176.56" stroke="#444" stroke-width="0.6"/>
<line x1="586.4" y1="168.78" x2="587.6" y2="168.78" stroke="#444" stroke-width="0.6"/>
<line x1="585.6" y1="161" x2="587.6" y2="161" stroke="#444" stroke-width="0.6"/>
<line x1="588" y1="238.8" x2="588" y2="240.8" stroke="#444" stroke-width="0.6"/>
<line x1="600.54" y1="238.8" x2="600.54" y2="240.8" stroke="#444" stroke-width="0.6"/>
<line x1="613.08" y1="238.8" x2="613.08" y2="240.8" stroke="#444" stroke-width="0.6"/>
<line x1="625.62" y1="238.8" x2="625.62" y2="240.8" stroke="#444" stroke-width="0.6"/>
<line x1="638.16" y1="238.8" x2="638.16" y2="240.8" stroke="#444" stroke-width="0.6"/>
<line x1="650.7" y1="238.8" x2="650.7" y2="240.8" stroke="#444" stroke-width="0.6"/>
<line x1="663.24" y1="238.8" x2="663.24" y2="240.8" stroke="#444" stroke-width="0.6"/>
<line x1="675.78" y1="238.8" x2="675.78" y2="240.8" stroke="#444" stroke-width="0.6"/>
<text x="584.2" y="226.34" font-size="8.8" text-anchor="end" fill="#222">20</text>
<text x="584.2" y="210.78" font-size="8.8" text-anchor="end" fill="#222">40</text>
<text x="584.2" y="195.22" font-size="8.8" text-anchor="end" fill="#222">60</text>
<text x="584.2" y="179.66" font-size="8.8" text-anchor="end" fill="#222">80</text>
<text x="584.2" y="164.1" font-size="8.8" text-anchor="end" fill="#222">100</text>
<text x="600.54" y="249.2" font-size="8.8" text-anchor="middle" fill="#222">60</text>
<text x="625.62" y="249.2" font-size="8.8" text-anchor="middle" fill="#222">100</text>
<text x="650.7" y="249.2" font-size="8.8" text-anchor="middle" fill="#222">140</text>
<text x="676.2" y="249.2" font-size="9" font-style="italic" text-anchor="middle" fill="#222" stroke="#222" stroke-width="0.25">m/z</text>
<text transform="translate(567.6,200) rotate(-90)" font-size="8" font-weight="bold" text-anchor="middle" fill="#222">Relative intensity</text>
<text x="632.5" y="261.2" font-size="8.5" font-weight="bold" text-anchor="middle" fill="#111"><tspan font-size="6.4">D</tspan>–Ribulose</text>
<text x="623.3" y="158" font-size="8.4" font-weight="bold" text-anchor="middle" fill="#111">97</text>
<text x="634.7" y="165.5" font-size="8.4" font-weight="bold" text-anchor="middle" fill="#111">98</text>
<text x="642.5" y="220.8" font-size="8.4" font-weight="bold" text-anchor="middle" fill="#111">126</text>
<text x="672.5" y="219.3" font-size="8.4" font-weight="bold" text-anchor="middle" fill="#111">168</text>
<line x1="624.8" y1="174.8" x2="631" y2="167.3" stroke="#555" stroke-width="0.6"/>
<line x1="668.8" y1="224.5" x2="671.9" y2="220.3" stroke="#555" stroke-width="0.6"/>
<line x1="453.6" y1="378" x2="453.6" y2="374.9" stroke="#555" stroke-width="0.8"/>
<line x1="454.4" y1="378" x2="454.4" y2="374.9" stroke="#555" stroke-width="0.8"/>
<line x1="455.3" y1="378" x2="455.3" y2="365.8" stroke="#555" stroke-width="0.8"/>
<line x1="456" y1="378" x2="456" y2="370.2" stroke="#555" stroke-width="0.8"/>
<line x1="456.5" y1="378" x2="456.5" y2="372.8" stroke="#555" stroke-width="0.8"/>
<line x1="461.5" y1="378" x2="461.5" y2="375.5" stroke="#555" stroke-width="0.8"/>
<line x1="464.4" y1="378" x2="464.4" y2="375.5" stroke="#555" stroke-width="0.8"/>
<line x1="466.1" y1="378" x2="466.1" y2="374.5" stroke="#555" stroke-width="0.8"/>
<line x1="470.1" y1="378" x2="470.1" y2="375.5" stroke="#555" stroke-width="0.8"/>
<line x1="472.4" y1="378" x2="472.4" y2="370.7" stroke="#555" stroke-width="0.8"/>
<line x1="473.5" y1="378" x2="473.5" y2="370.7" stroke="#555" stroke-width="0.8"/>
<line x1="477" y1="378" x2="477" y2="376" stroke="#555" stroke-width="0.8"/>
<rect x="480.4" y="359.3" width="1.2" height="18.7" fill="#888"/>
<line x1="482.4" y1="378" x2="482.4" y2="373.3" stroke="#555" stroke-width="0.8"/>
<line x1="483.4" y1="378" x2="483.4" y2="366.9" stroke="#555" stroke-width="0.8"/>
<line x1="486.7" y1="378" x2="486.7" y2="375.5" stroke="#555" stroke-width="0.8"/>
<line x1="491.3" y1="378" x2="491.3" y2="375.4" stroke="#555" stroke-width="0.8"/>
<line x1="499.3" y1="378" x2="499.3" y2="366.6" stroke="#333" stroke-width="0.8"/>
<line x1="506.8" y1="378" x2="506.8" y2="373.3" stroke="#555" stroke-width="0.8"/>
<line x1="512" y1="378" x2="512" y2="375.5" stroke="#555" stroke-width="0.8"/>
<line x1="516.1" y1="378" x2="516.1" y2="375.5" stroke="#555" stroke-width="0.8"/>
<line x1="524.5" y1="378" x2="524.5" y2="369.7" stroke="#555" stroke-width="0.8"/>
<line x1="525.2" y1="378" x2="525.2" y2="371" stroke="#555" stroke-width="0.8"/>
<line x1="482.3" y1="378" x2="482.3" y2="322.5" stroke="#666" stroke-width="1.3"/>
<line x1="481.1" y1="378" x2="481.1" y2="300.9" stroke="#666" stroke-width="0.8"/>
<line x1="445" y1="298" x2="445" y2="378.4" stroke="#444" stroke-width="0.8"/>
<line x1="444.6" y1="378" x2="534.5" y2="378" stroke="#333" stroke-width="0.9"/>
<line x1="443" y1="378" x2="445" y2="378" stroke="#444" stroke-width="0.6"/>
<line x1="443.8" y1="370.22" x2="445" y2="370.22" stroke="#444" stroke-width="0.6"/>
<line x1="443" y1="362.44" x2="445" y2="362.44" stroke="#444" stroke-width="0.6"/>
<line x1="443.8" y1="354.66" x2="445" y2="354.66" stroke="#444" stroke-width="0.6"/>
<line x1="443" y1="346.88" x2="445" y2="346.88" stroke="#444" stroke-width="0.6"/>
<line x1="443.8" y1="339.1" x2="445" y2="339.1" stroke="#444" stroke-width="0.6"/>
<line x1="443" y1="331.32" x2="445" y2="331.32" stroke="#444" stroke-width="0.6"/>
<line x1="443.8" y1="323.54" x2="445" y2="323.54" stroke="#444" stroke-width="0.6"/>
<line x1="443" y1="315.76" x2="445" y2="315.76" stroke="#444" stroke-width="0.6"/>
<line x1="443.8" y1="307.98" x2="445" y2="307.98" stroke="#444" stroke-width="0.6"/>
<line x1="443" y1="300.2" x2="445" y2="300.2" stroke="#444" stroke-width="0.6"/>
<line x1="445.4" y1="378" x2="445.4" y2="380" stroke="#444" stroke-width="0.6"/>
<line x1="457.94" y1="378" x2="457.94" y2="380" stroke="#444" stroke-width="0.6"/>
<line x1="470.48" y1="378" x2="470.48" y2="380" stroke="#444" stroke-width="0.6"/>
<line x1="483.02" y1="378" x2="483.02" y2="380" stroke="#444" stroke-width="0.6"/>
<line x1="495.56" y1="378" x2="495.56" y2="380" stroke="#444" stroke-width="0.6"/>
<line x1="508.1" y1="378" x2="508.1" y2="380" stroke="#444" stroke-width="0.6"/>
<line x1="520.64" y1="378" x2="520.64" y2="380" stroke="#444" stroke-width="0.6"/>
<line x1="533.18" y1="378" x2="533.18" y2="380" stroke="#444" stroke-width="0.6"/>
<text x="441.6" y="365.54" font-size="8.8" text-anchor="end" fill="#222">20</text>
<text x="441.6" y="349.98" font-size="8.8" text-anchor="end" fill="#222">40</text>
<text x="441.6" y="334.42" font-size="8.8" text-anchor="end" fill="#222">60</text>
<text x="441.6" y="318.86" font-size="8.8" text-anchor="end" fill="#222">80</text>
<text x="441.6" y="303.3" font-size="8.8" text-anchor="end" fill="#222">100</text>
<text x="457.94" y="388.4" font-size="8.8" text-anchor="middle" fill="#222">60</text>
<text x="483.02" y="388.4" font-size="8.8" text-anchor="middle" fill="#222">100</text>
<text x="508.1" y="388.4" font-size="8.8" text-anchor="middle" fill="#222">140</text>
<text x="533.6" y="388.4" font-size="9" font-style="italic" text-anchor="middle" fill="#222" stroke="#222" stroke-width="0.25">m/z</text>
<text transform="translate(425,339.2) rotate(-90)" font-size="8" font-weight="bold" text-anchor="middle" fill="#222">Relative intensity</text>
<text x="489.9" y="400.4" font-size="8.5" font-weight="bold" text-anchor="middle" fill="#111"><tspan font-size="6.4">L</tspan>–Ribulose</text>
<text x="481.5" y="297.4" font-size="8.4" font-weight="bold" text-anchor="middle" fill="#111">97</text>
<text x="492.5" y="313.3" font-size="8.4" font-weight="bold" text-anchor="middle" fill="#111">98</text>
<text x="499.5" y="363.4" font-size="8.4" font-weight="bold" text-anchor="middle" fill="#111">126</text>
<text x="529.7" y="364.5" font-size="8.4" font-weight="bold" text-anchor="middle" fill="#111">168</text>
<line x1="483.2" y1="321.6" x2="488.8" y2="314.6" stroke="#555" stroke-width="0.6"/>
<line x1="525.3" y1="369.2" x2="528.8" y2="365.5" stroke="#555" stroke-width="0.6"/>
<line x1="595.4" y1="378" x2="595.4" y2="376" stroke="#555" stroke-width="0.8"/>
<line x1="597.3" y1="378" x2="597.3" y2="376" stroke="#555" stroke-width="0.8"/>
<line x1="598.3" y1="378" x2="598.3" y2="365" stroke="#555" stroke-width="0.8"/>
<line x1="599.2" y1="378" x2="599.2" y2="372.8" stroke="#555" stroke-width="0.8"/>
<line x1="603" y1="378" x2="603" y2="376.5" stroke="#555" stroke-width="0.8"/>
<line x1="607.4" y1="378" x2="607.4" y2="376" stroke="#555" stroke-width="0.8"/>
<line x1="609.5" y1="378" x2="609.5" y2="375.7" stroke="#555" stroke-width="0.8"/>
<line x1="614.6" y1="378" x2="614.6" y2="372.8" stroke="#555" stroke-width="0.8"/>
<line x1="615.6" y1="378" x2="615.6" y2="372.8" stroke="#555" stroke-width="0.8"/>
<line x1="616.6" y1="378" x2="616.6" y2="372.8" stroke="#555" stroke-width="0.8"/>
<line x1="620.4" y1="378" x2="620.4" y2="376" stroke="#555" stroke-width="0.8"/>
<rect x="623" y="361.9" width="1.1" height="16.1" fill="#888"/>
<line x1="625.6" y1="378" x2="625.6" y2="373.3" stroke="#555" stroke-width="0.8"/>
<line x1="626.7" y1="378" x2="626.7" y2="367.6" stroke="#555" stroke-width="0.8"/>
<line x1="634.5" y1="378" x2="634.5" y2="376" stroke="#555" stroke-width="0.8"/>
<line x1="642.5" y1="378" x2="642.5" y2="366.6" stroke="#333" stroke-width="0.8"/>
<line x1="646.7" y1="378" x2="646.7" y2="376" stroke="#555" stroke-width="0.8"/>
<line x1="649" y1="378" x2="649" y2="373.9" stroke="#555" stroke-width="0.8"/>
<line x1="658.1" y1="378" x2="658.1" y2="376.5" stroke="#555" stroke-width="0.8"/>
<line x1="668.3" y1="378" x2="668.3" y2="367.6" stroke="#555" stroke-width="0.8"/>
<line x1="625.1" y1="378" x2="625.1" y2="324.1" stroke="#666" stroke-width="1.3"/>
<line x1="624.2" y1="378" x2="624.2" y2="300.5" stroke="#666" stroke-width="0.8"/>
<line x1="587.6" y1="298" x2="587.6" y2="378.4" stroke="#444" stroke-width="0.8"/>
<line x1="587.2" y1="378" x2="677.1" y2="378" stroke="#333" stroke-width="0.9"/>
<line x1="585.6" y1="378" x2="587.6" y2="378" stroke="#444" stroke-width="0.6"/>
<line x1="586.4" y1="370.22" x2="587.6" y2="370.22" stroke="#444" stroke-width="0.6"/>
<line x1="585.6" y1="362.44" x2="587.6" y2="362.44" stroke="#444" stroke-width="0.6"/>
<line x1="586.4" y1="354.66" x2="587.6" y2="354.66" stroke="#444" stroke-width="0.6"/>
<line x1="585.6" y1="346.88" x2="587.6" y2="346.88" stroke="#444" stroke-width="0.6"/>
<line x1="586.4" y1="339.1" x2="587.6" y2="339.1" stroke="#444" stroke-width="0.6"/>
<line x1="585.6" y1="331.32" x2="587.6" y2="331.32" stroke="#444" stroke-width="0.6"/>
<line x1="586.4" y1="323.54" x2="587.6" y2="323.54" stroke="#444" stroke-width="0.6"/>
<line x1="585.6" y1="315.76" x2="587.6" y2="315.76" stroke="#444" stroke-width="0.6"/>
<line x1="586.4" y1="307.98" x2="587.6" y2="307.98" stroke="#444" stroke-width="0.6"/>
<line x1="585.6" y1="300.2" x2="587.6" y2="300.2" stroke="#444" stroke-width="0.6"/>
<line x1="588" y1="378" x2="588" y2="380" stroke="#444" stroke-width="0.6"/>
<line x1="600.54" y1="378" x2="600.54" y2="380" stroke="#444" stroke-width="0.6"/>
<line x1="613.08" y1="378" x2="613.08" y2="380" stroke="#444" stroke-width="0.6"/>
<line x1="625.62" y1="378" x2="625.62" y2="380" stroke="#444" stroke-width="0.6"/>
<line x1="638.16" y1="378" x2="638.16" y2="380" stroke="#444" stroke-width="0.6"/>
<line x1="650.7" y1="378" x2="650.7" y2="380" stroke="#444" stroke-width="0.6"/>
<line x1="663.24" y1="378" x2="663.24" y2="380" stroke="#444" stroke-width="0.6"/>
<line x1="675.78" y1="378" x2="675.78" y2="380" stroke="#444" stroke-width="0.6"/>
<text x="584.2" y="365.54" font-size="8.8" text-anchor="end" fill="#222">20</text>
<text x="584.2" y="349.98" font-size="8.8" text-anchor="end" fill="#222">40</text>
<text x="584.2" y="334.42" font-size="8.8" text-anchor="end" fill="#222">60</text>
<text x="584.2" y="318.86" font-size="8.8" text-anchor="end" fill="#222">80</text>
<text x="584.2" y="303.3" font-size="8.8" text-anchor="end" fill="#222">100</text>
<text x="600.54" y="388.4" font-size="8.8" text-anchor="middle" fill="#222">60</text>
<text x="625.62" y="388.4" font-size="8.8" text-anchor="middle" fill="#222">100</text>
<text x="650.7" y="388.4" font-size="8.8" text-anchor="middle" fill="#222">140</text>
<text x="676.2" y="388.4" font-size="9" font-style="italic" text-anchor="middle" fill="#222" stroke="#222" stroke-width="0.25">m/z</text>
<text transform="translate(567.6,339.2) rotate(-90)" font-size="8" font-weight="bold" text-anchor="middle" fill="#222">Relative intensity</text>
<text x="632.5" y="400.4" font-size="8.5" font-weight="bold" text-anchor="middle" fill="#111"><tspan font-size="6.4">D</tspan>–Ribulose</text>
<text x="624.5" y="298.9" font-size="8.4" font-weight="bold" text-anchor="middle" fill="#111">97</text>
<text x="634.7" y="315.4" font-size="8.4" font-weight="bold" text-anchor="middle" fill="#111">98</text>
<text x="642" y="364" font-size="8.4" font-weight="bold" text-anchor="middle" fill="#111">126</text>
<text x="672.2" y="362.4" font-size="8.4" font-weight="bold" text-anchor="middle" fill="#111">168</text>
<line x1="625.4" y1="323.7" x2="631" y2="317" stroke="#555" stroke-width="0.6"/>
<line x1="668.8" y1="367.3" x2="671.5" y2="364.2" stroke="#555" stroke-width="0.6"/>
</svg></body></html>
